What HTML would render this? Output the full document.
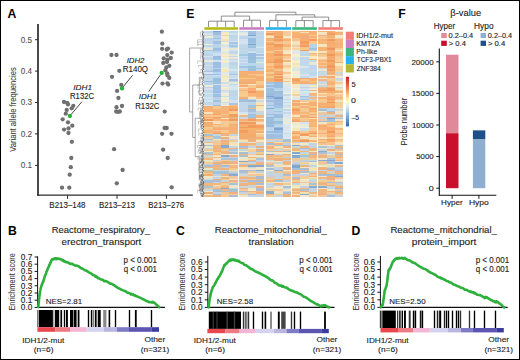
<!DOCTYPE html>
<html><head><meta charset="utf-8"><title>Figure</title>
<style>
html,body{margin:0;padding:0;background:#fff;}
body{width:520px;height:360px;overflow:hidden;position:relative;font-family:"Liberation Sans",sans-serif;}
svg{position:absolute;left:0;top:0;display:block;}
text{font-family:"Liberation Sans",sans-serif;}
</style></head><body>
<svg width="520" height="360" viewBox="0 0 520 360">
<rect x="0.00" y="0.00" width="520.00" height="360.00" fill="#fff" />
<text x="7.50" y="18.00" font-size="12.2" text-anchor="start" fill="#000" font-weight="bold" font-style="normal" >A</text>
<text x="186.20" y="18.00" font-size="12.2" text-anchor="start" fill="#000" font-weight="bold" font-style="normal" >E</text>
<text x="398.20" y="18.00" font-size="12.2" text-anchor="start" fill="#000" font-weight="bold" font-style="normal" >F</text>
<text x="8.00" y="235.10" font-size="12.2" text-anchor="start" fill="#000" font-weight="bold" font-style="normal" >B</text>
<text x="176.00" y="235.00" font-size="12.2" text-anchor="start" fill="#000" font-weight="bold" font-style="normal" >C</text>
<text x="351.50" y="235.00" font-size="12.2" text-anchor="start" fill="#000" font-weight="bold" font-style="normal" >D</text>
<line x1="38.00" y1="24.00" x2="38.00" y2="195.80" stroke="#2a2a2a" stroke-width="1.7" />
<line x1="37.20" y1="195.10" x2="192.80" y2="195.10" stroke="#2a2a2a" stroke-width="1.4" />
<line x1="35.00" y1="39.70" x2="38.00" y2="39.70" stroke="#2a2a2a" stroke-width="1.0" />
<text x="20.68" y="42.60" font-size="8.4" fill="#555" stroke="#555" stroke-width="0.12" font-weight="normal" font-style="normal" textLength="11.36" lengthAdjust="spacingAndGlyphs" >0.5</text>
<line x1="35.00" y1="71.10" x2="38.00" y2="71.10" stroke="#2a2a2a" stroke-width="1.0" />
<text x="20.68" y="74.00" font-size="8.4" fill="#555" stroke="#555" stroke-width="0.12" font-weight="normal" font-style="normal" textLength="11.25" lengthAdjust="spacingAndGlyphs" >0.4</text>
<line x1="35.00" y1="102.50" x2="38.00" y2="102.50" stroke="#2a2a2a" stroke-width="1.0" />
<text x="20.68" y="105.40" font-size="8.4" fill="#555" stroke="#555" stroke-width="0.12" font-weight="normal" font-style="normal" textLength="11.38" lengthAdjust="spacingAndGlyphs" >0.3</text>
<line x1="35.00" y1="133.90" x2="38.00" y2="133.90" stroke="#2a2a2a" stroke-width="1.0" />
<text x="20.68" y="136.80" font-size="8.4" fill="#555" stroke="#555" stroke-width="0.12" font-weight="normal" font-style="normal" textLength="11.44" lengthAdjust="spacingAndGlyphs" >0.2</text>
<line x1="35.00" y1="165.40" x2="38.00" y2="165.40" stroke="#2a2a2a" stroke-width="1.0" />
<text x="20.68" y="168.30" font-size="8.4" fill="#555" stroke="#555" stroke-width="0.12" font-weight="normal" font-style="normal" textLength="11.42" lengthAdjust="spacingAndGlyphs" >0.1</text>
<line x1="67.50" y1="195.10" x2="67.50" y2="198.80" stroke="#2a2a2a" stroke-width="1.0" />
<text x="49.35" y="208.00" font-size="8.8" fill="#222" stroke="#222" stroke-width="0.12" font-weight="normal" font-style="normal" textLength="36.20" lengthAdjust="spacingAndGlyphs" >B213–148</text>
<line x1="117.00" y1="195.10" x2="117.00" y2="198.80" stroke="#2a2a2a" stroke-width="1.0" />
<text x="98.95" y="208.00" font-size="8.8" fill="#222" stroke="#222" stroke-width="0.12" font-weight="normal" font-style="normal" textLength="35.99" lengthAdjust="spacingAndGlyphs" >B213–213</text>
<line x1="166.40" y1="195.10" x2="166.40" y2="198.80" stroke="#2a2a2a" stroke-width="1.0" />
<text x="148.36" y="208.00" font-size="8.8" fill="#222" stroke="#222" stroke-width="0.12" font-weight="normal" font-style="normal" textLength="35.79" lengthAdjust="spacingAndGlyphs" >B213–276</text>
<text transform="translate(15.50,109.60) rotate(-90)" x="-42.13" y="0" font-size="8.6" fill="#333" stroke="#333" stroke-width="0.04" textLength="84.50" lengthAdjust="spacingAndGlyphs">Variant allele frequencies</text>
<circle cx="64.0" cy="102.0" r="2.15" fill="#707070"/>
<circle cx="67.2" cy="102.8" r="2.15" fill="#707070"/>
<circle cx="68.0" cy="104.4" r="2.15" fill="#707070"/>
<circle cx="73.3" cy="105.8" r="2.15" fill="#707070"/>
<circle cx="71.7" cy="108.3" r="2.15" fill="#707070"/>
<circle cx="66.7" cy="110.0" r="2.15" fill="#707070"/>
<circle cx="65.8" cy="113.7" r="2.15" fill="#707070"/>
<circle cx="62.7" cy="119.3" r="2.15" fill="#707070"/>
<circle cx="68.0" cy="122.3" r="2.15" fill="#707070"/>
<circle cx="72.3" cy="125.7" r="2.15" fill="#707070"/>
<circle cx="64.1" cy="129.6" r="2.15" fill="#707070"/>
<circle cx="68.5" cy="128.4" r="2.15" fill="#707070"/>
<circle cx="68.5" cy="133.0" r="2.15" fill="#707070"/>
<circle cx="71.9" cy="141.8" r="2.15" fill="#707070"/>
<circle cx="71.3" cy="158.0" r="2.15" fill="#707070"/>
<circle cx="70.8" cy="167.2" r="2.15" fill="#707070"/>
<circle cx="69.7" cy="174.7" r="2.15" fill="#707070"/>
<circle cx="62.0" cy="187.7" r="2.15" fill="#707070"/>
<circle cx="69.3" cy="187.7" r="2.15" fill="#707070"/>
<circle cx="111.4" cy="55.0" r="2.15" fill="#707070"/>
<circle cx="116.5" cy="55.0" r="2.15" fill="#707070"/>
<circle cx="119.3" cy="70.8" r="2.15" fill="#707070"/>
<circle cx="112.0" cy="76.8" r="2.15" fill="#707070"/>
<circle cx="121.3" cy="84.9" r="2.15" fill="#707070"/>
<circle cx="117.1" cy="90.9" r="2.15" fill="#707070"/>
<circle cx="118.4" cy="98.0" r="2.15" fill="#707070"/>
<circle cx="122.0" cy="106.0" r="2.15" fill="#707070"/>
<circle cx="116.5" cy="107.2" r="2.15" fill="#707070"/>
<circle cx="116.2" cy="111.5" r="2.15" fill="#707070"/>
<circle cx="118.0" cy="111.8" r="2.15" fill="#707070"/>
<circle cx="119.8" cy="111.5" r="2.15" fill="#707070"/>
<circle cx="114.1" cy="149.2" r="2.15" fill="#707070"/>
<circle cx="122.6" cy="170.0" r="2.15" fill="#707070"/>
<circle cx="116.8" cy="183.3" r="2.15" fill="#707070"/>
<circle cx="161.9" cy="31.7" r="2.15" fill="#707070"/>
<circle cx="162.3" cy="43.7" r="2.15" fill="#707070"/>
<circle cx="162.1" cy="48.8" r="2.15" fill="#707070"/>
<circle cx="166.7" cy="49.5" r="2.15" fill="#707070"/>
<circle cx="168.0" cy="48.6" r="2.15" fill="#707070"/>
<circle cx="171.7" cy="52.6" r="2.15" fill="#707070"/>
<circle cx="167.3" cy="55.1" r="2.15" fill="#707070"/>
<circle cx="163.7" cy="58.4" r="2.15" fill="#707070"/>
<circle cx="170.8" cy="58.0" r="2.15" fill="#707070"/>
<circle cx="167.5" cy="59.7" r="2.15" fill="#707070"/>
<circle cx="163.3" cy="63.0" r="2.15" fill="#707070"/>
<circle cx="167.0" cy="62.0" r="2.15" fill="#707070"/>
<circle cx="169.3" cy="65.8" r="2.15" fill="#707070"/>
<circle cx="166.3" cy="67.5" r="2.15" fill="#707070"/>
<circle cx="165.4" cy="70.4" r="2.15" fill="#707070"/>
<circle cx="167.1" cy="73.3" r="2.15" fill="#707070"/>
<circle cx="167.5" cy="75.4" r="2.15" fill="#707070"/>
<circle cx="169.3" cy="77.9" r="2.15" fill="#707070"/>
<circle cx="162.5" cy="83.6" r="2.15" fill="#707070"/>
<circle cx="167.5" cy="83.3" r="2.15" fill="#707070"/>
<circle cx="168.2" cy="84.6" r="2.15" fill="#707070"/>
<circle cx="164.7" cy="111.6" r="2.15" fill="#707070"/>
<circle cx="164.6" cy="128.0" r="2.15" fill="#707070"/>
<circle cx="166.7" cy="128.0" r="2.15" fill="#707070"/>
<circle cx="162.1" cy="133.8" r="2.15" fill="#707070"/>
<circle cx="171.5" cy="133.8" r="2.15" fill="#707070"/>
<circle cx="163.1" cy="149.7" r="2.15" fill="#707070"/>
<circle cx="167.7" cy="158.0" r="2.15" fill="#707070"/>
<circle cx="171.7" cy="187.3" r="2.15" fill="#707070"/>
<line x1="71.00" y1="114.60" x2="82.00" y2="101.60" stroke="#333" stroke-width="0.9" />
<line x1="123.00" y1="87.00" x2="132.60" y2="75.30" stroke="#333" stroke-width="0.9" />
<line x1="160.60" y1="74.60" x2="148.70" y2="91.60" stroke="#333" stroke-width="0.9" />
<circle cx="69.9" cy="116.0" r="2.15" fill="#26b33a"/>
<circle cx="122.0" cy="88.4" r="2.15" fill="#26b33a"/>
<circle cx="161.7" cy="72.9" r="2.15" fill="#26b33a"/>
<text x="73.28" y="89.60" font-size="8.0" fill="#222" stroke="#222" stroke-width="0.12" font-weight="normal" font-style="italic" textLength="18.72" lengthAdjust="spacingAndGlyphs" >IDH1</text>
<text x="70.07" y="99.00" font-size="8.2" fill="#222" stroke="#222" stroke-width="0.12" font-weight="normal" font-style="normal" textLength="23.92" lengthAdjust="spacingAndGlyphs" >R132C</text>
<text x="126.69" y="62.70" font-size="8.0" fill="#222" stroke="#222" stroke-width="0.12" font-weight="normal" font-style="italic" textLength="17.72" lengthAdjust="spacingAndGlyphs" >IDH2</text>
<text x="122.85" y="71.80" font-size="8.2" fill="#222" stroke="#222" stroke-width="0.12" font-weight="normal" font-style="normal" textLength="25.23" lengthAdjust="spacingAndGlyphs" >R140Q</text>
<text x="138.68" y="99.40" font-size="8.0" fill="#222" stroke="#222" stroke-width="0.12" font-weight="normal" font-style="italic" textLength="18.40" lengthAdjust="spacingAndGlyphs" >IDH1</text>
<text x="135.16" y="108.90" font-size="8.2" fill="#222" stroke="#222" stroke-width="0.12" font-weight="normal" font-style="normal" textLength="24.34" lengthAdjust="spacingAndGlyphs" >R132C</text>
<g shape-rendering="crispEdges" filter="url(#hb)">
<rect x="204.40" y="30.50" width="8.30" height="1.53" fill="rgb(193, 220, 234)"/>
<rect x="204.40" y="31.98" width="8.30" height="1.53" fill="rgb(193, 213, 234)"/>
<rect x="204.40" y="33.47" width="8.30" height="1.53" fill="rgb(215, 224, 236)"/>
<rect x="204.40" y="34.95" width="8.30" height="1.53" fill="rgb(195, 218, 230)"/>
<rect x="204.40" y="36.43" width="8.30" height="1.53" fill="rgb(238, 235, 214)"/>
<rect x="204.40" y="37.92" width="8.30" height="1.53" fill="rgb(187, 216, 230)"/>
<rect x="204.40" y="39.40" width="8.30" height="1.53" fill="rgb(190, 211, 234)"/>
<rect x="204.40" y="40.88" width="8.30" height="1.53" fill="rgb(196, 216, 236)"/>
<rect x="204.40" y="42.36" width="8.30" height="1.53" fill="rgb(194, 215, 232)"/>
<rect x="204.40" y="43.85" width="8.30" height="1.53" fill="rgb(239, 237, 215)"/>
<rect x="204.40" y="45.33" width="8.30" height="1.53" fill="rgb(190, 214, 230)"/>
<rect x="204.40" y="46.81" width="8.30" height="1.53" fill="rgb(212, 232, 237)"/>
<rect x="204.40" y="48.30" width="8.30" height="1.53" fill="rgb(237, 229, 210)"/>
<rect x="204.40" y="49.78" width="8.30" height="1.53" fill="rgb(163, 200, 224)"/>
<rect x="204.40" y="51.26" width="8.30" height="1.53" fill="rgb(194, 219, 232)"/>
<rect x="204.40" y="52.75" width="8.30" height="1.53" fill="rgb(191, 220, 237)"/>
<rect x="204.40" y="54.23" width="8.30" height="1.53" fill="rgb(190, 212, 230)"/>
<rect x="204.40" y="55.71" width="8.30" height="1.53" fill="rgb(209, 229, 237)"/>
<rect x="204.40" y="57.19" width="8.30" height="1.53" fill="rgb(195, 212, 236)"/>
<rect x="204.40" y="58.68" width="8.30" height="1.53" fill="rgb(191, 213, 232)"/>
<rect x="204.40" y="60.16" width="8.30" height="1.53" fill="rgb(237, 232, 217)"/>
<rect x="204.40" y="61.64" width="8.30" height="1.53" fill="rgb(191, 219, 236)"/>
<rect x="204.40" y="63.13" width="8.30" height="1.53" fill="rgb(197, 213, 232)"/>
<rect x="204.40" y="64.61" width="8.30" height="1.53" fill="rgb(211, 226, 234)"/>
<rect x="204.40" y="66.09" width="8.30" height="1.53" fill="rgb(193, 213, 235)"/>
<rect x="204.40" y="67.58" width="8.30" height="1.53" fill="rgb(192, 220, 234)"/>
<rect x="204.40" y="69.06" width="8.30" height="1.53" fill="rgb(196, 213, 231)"/>
<rect x="204.40" y="70.54" width="8.30" height="1.53" fill="rgb(167, 193, 222)"/>
<rect x="204.40" y="72.03" width="8.30" height="1.53" fill="rgb(217, 225, 243)"/>
<rect x="204.40" y="73.51" width="8.30" height="1.53" fill="rgb(164, 195, 221)"/>
<rect x="204.40" y="74.99" width="8.30" height="1.53" fill="rgb(197, 213, 236)"/>
<rect x="204.40" y="76.47" width="8.30" height="1.53" fill="rgb(196, 217, 232)"/>
<rect x="204.40" y="77.96" width="8.30" height="1.53" fill="rgb(194, 211, 231)"/>
<rect x="204.40" y="79.44" width="8.30" height="1.53" fill="rgb(196, 217, 232)"/>
<rect x="204.40" y="80.92" width="8.30" height="1.53" fill="rgb(160, 191, 222)"/>
<rect x="204.40" y="82.41" width="8.30" height="1.53" fill="rgb(188, 213, 233)"/>
<rect x="204.40" y="83.89" width="8.30" height="1.53" fill="rgb(189, 214, 238)"/>
<rect x="204.40" y="85.37" width="8.30" height="1.53" fill="rgb(235, 236, 214)"/>
<rect x="204.40" y="86.86" width="8.30" height="1.53" fill="rgb(188, 211, 238)"/>
<rect x="204.40" y="88.34" width="8.30" height="1.53" fill="rgb(217, 223, 239)"/>
<rect x="204.40" y="89.82" width="8.30" height="1.53" fill="rgb(195, 214, 239)"/>
<rect x="204.40" y="91.30" width="8.30" height="1.53" fill="rgb(193, 218, 238)"/>
<rect x="204.40" y="92.79" width="8.30" height="1.53" fill="rgb(215, 231, 242)"/>
<rect x="204.40" y="94.27" width="8.30" height="1.53" fill="rgb(194, 220, 238)"/>
<rect x="204.40" y="95.75" width="8.30" height="1.53" fill="rgb(195, 219, 235)"/>
<rect x="204.40" y="97.24" width="8.30" height="1.53" fill="rgb(211, 229, 239)"/>
<rect x="204.40" y="98.72" width="8.30" height="1.53" fill="rgb(194, 221, 238)"/>
<rect x="204.40" y="100.20" width="8.30" height="1.53" fill="rgb(211, 231, 239)"/>
<rect x="204.40" y="101.69" width="8.30" height="1.53" fill="rgb(196, 212, 237)"/>
<rect x="204.40" y="103.17" width="8.30" height="1.53" fill="rgb(193, 216, 231)"/>
<rect x="204.40" y="104.65" width="8.30" height="1.53" fill="rgb(213, 229, 242)"/>
<rect x="204.40" y="106.13" width="8.30" height="1.53" fill="rgb(241, 174, 116)"/>
<rect x="204.40" y="107.62" width="8.30" height="1.53" fill="rgb(242, 180, 116)"/>
<rect x="204.40" y="109.10" width="8.30" height="1.53" fill="rgb(249, 174, 116)"/>
<rect x="204.40" y="110.58" width="8.30" height="1.53" fill="rgb(245, 179, 119)"/>
<rect x="204.40" y="112.07" width="8.30" height="1.53" fill="rgb(244, 227, 188)"/>
<rect x="204.40" y="113.55" width="8.30" height="1.53" fill="rgb(245, 179, 118)"/>
<rect x="204.40" y="115.03" width="8.30" height="1.53" fill="rgb(252, 196, 139)"/>
<rect x="204.40" y="116.52" width="8.30" height="1.53" fill="rgb(243, 173, 114)"/>
<rect x="204.40" y="118.00" width="8.30" height="1.53" fill="rgb(247, 197, 146)"/>
<rect x="204.40" y="119.48" width="8.30" height="1.53" fill="rgb(241, 153, 93)"/>
<rect x="204.40" y="120.97" width="8.30" height="1.53" fill="rgb(240, 229, 190)"/>
<rect x="204.40" y="122.45" width="8.30" height="1.53" fill="rgb(248, 171, 111)"/>
<rect x="204.40" y="123.93" width="8.30" height="1.53" fill="rgb(241, 179, 112)"/>
<rect x="204.40" y="125.41" width="8.30" height="1.53" fill="rgb(241, 177, 114)"/>
<rect x="204.40" y="126.90" width="8.30" height="1.53" fill="rgb(249, 201, 147)"/>
<rect x="204.40" y="128.38" width="8.30" height="1.53" fill="rgb(244, 198, 140)"/>
<rect x="204.40" y="129.86" width="8.30" height="1.53" fill="rgb(245, 178, 112)"/>
<rect x="204.40" y="131.35" width="8.30" height="1.53" fill="rgb(244, 178, 115)"/>
<rect x="204.40" y="132.83" width="8.30" height="1.53" fill="rgb(250, 197, 146)"/>
<rect x="204.40" y="134.31" width="8.30" height="1.53" fill="rgb(164, 196, 215)"/>
<rect x="204.40" y="135.80" width="8.30" height="1.53" fill="rgb(239, 181, 130)"/>
<rect x="204.40" y="137.28" width="8.30" height="1.53" fill="rgb(242, 206, 157)"/>
<rect x="204.40" y="138.76" width="8.30" height="1.53" fill="rgb(168, 193, 210)"/>
<rect x="204.40" y="140.24" width="8.30" height="1.53" fill="rgb(200, 213, 224)"/>
<rect x="204.40" y="141.73" width="8.30" height="1.53" fill="rgb(243, 184, 131)"/>
<rect x="204.40" y="143.21" width="8.30" height="1.53" fill="rgb(241, 228, 205)"/>
<rect x="204.40" y="144.69" width="8.30" height="1.53" fill="rgb(167, 188, 212)"/>
<rect x="204.40" y="146.18" width="8.30" height="1.53" fill="rgb(241, 230, 196)"/>
<rect x="204.40" y="147.66" width="8.30" height="1.53" fill="rgb(193, 215, 219)"/>
<rect x="204.40" y="149.14" width="8.30" height="1.53" fill="rgb(244, 198, 151)"/>
<rect x="204.40" y="150.63" width="8.30" height="1.53" fill="rgb(241, 233, 203)"/>
<rect x="204.40" y="152.11" width="8.30" height="1.53" fill="rgb(168, 196, 208)"/>
<rect x="204.40" y="153.59" width="8.30" height="1.53" fill="rgb(240, 177, 128)"/>
<rect x="204.40" y="155.07" width="8.30" height="1.53" fill="rgb(197, 216, 223)"/>
<rect x="204.40" y="156.56" width="8.30" height="1.53" fill="rgb(240, 205, 158)"/>
<rect x="204.40" y="158.04" width="8.30" height="1.53" fill="rgb(243, 184, 126)"/>
<rect x="204.40" y="159.52" width="8.30" height="1.53" fill="rgb(236, 230, 201)"/>
<rect x="204.40" y="161.01" width="8.30" height="1.53" fill="rgb(237, 228, 176)"/>
<rect x="204.40" y="162.49" width="8.30" height="1.53" fill="rgb(244, 203, 154)"/>
<rect x="204.40" y="163.97" width="8.30" height="1.53" fill="rgb(193, 212, 221)"/>
<rect x="204.40" y="165.46" width="8.30" height="1.53" fill="rgb(173, 189, 212)"/>
<rect x="204.40" y="166.94" width="8.30" height="1.53" fill="rgb(239, 182, 130)"/>
<rect x="204.40" y="168.42" width="8.30" height="1.53" fill="rgb(237, 227, 202)"/>
<rect x="204.40" y="169.91" width="8.30" height="1.53" fill="rgb(165, 195, 208)"/>
<rect x="204.40" y="171.39" width="8.30" height="1.53" fill="rgb(237, 181, 124)"/>
<rect x="204.40" y="172.87" width="8.30" height="1.53" fill="rgb(242, 198, 156)"/>
<rect x="204.40" y="174.35" width="8.30" height="1.53" fill="rgb(239, 177, 123)"/>
<rect x="204.40" y="175.84" width="8.30" height="1.53" fill="rgb(238, 229, 200)"/>
<rect x="204.40" y="177.32" width="8.30" height="1.53" fill="rgb(235, 227, 202)"/>
<rect x="204.40" y="178.80" width="8.30" height="1.53" fill="rgb(198, 216, 223)"/>
<rect x="204.40" y="180.29" width="8.30" height="1.53" fill="rgb(166, 194, 216)"/>
<rect x="204.40" y="181.77" width="8.30" height="1.53" fill="rgb(167, 190, 217)"/>
<rect x="204.40" y="183.25" width="8.30" height="1.53" fill="rgb(244, 183, 122)"/>
<rect x="204.40" y="184.74" width="8.30" height="1.53" fill="rgb(242, 177, 122)"/>
<rect x="204.40" y="186.22" width="8.30" height="1.53" fill="rgb(168, 195, 209)"/>
<rect x="204.40" y="187.70" width="8.30" height="1.53" fill="rgb(243, 197, 151)"/>
<rect x="204.40" y="189.18" width="8.30" height="1.53" fill="rgb(201, 217, 218)"/>
<rect x="204.40" y="190.67" width="8.30" height="1.53" fill="rgb(241, 230, 203)"/>
<rect x="204.40" y="192.15" width="8.30" height="1.53" fill="rgb(235, 175, 121)"/>
<rect x="204.40" y="193.63" width="8.30" height="1.53" fill="rgb(239, 231, 197)"/>
<rect x="204.40" y="195.12" width="8.30" height="1.53" fill="rgb(236, 183, 131)"/>
<rect x="212.70" y="30.50" width="8.30" height="1.53" fill="rgb(122, 164, 218)"/>
<rect x="212.70" y="31.98" width="8.30" height="1.53" fill="rgb(160, 189, 223)"/>
<rect x="212.70" y="33.47" width="8.30" height="1.53" fill="rgb(156, 192, 218)"/>
<rect x="212.70" y="34.95" width="8.30" height="1.53" fill="rgb(189, 208, 232)"/>
<rect x="212.70" y="36.43" width="8.30" height="1.53" fill="rgb(185, 208, 229)"/>
<rect x="212.70" y="37.92" width="8.30" height="1.53" fill="rgb(152, 195, 226)"/>
<rect x="212.70" y="39.40" width="8.30" height="1.53" fill="rgb(189, 213, 232)"/>
<rect x="212.70" y="40.88" width="8.30" height="1.53" fill="rgb(157, 196, 226)"/>
<rect x="212.70" y="42.36" width="8.30" height="1.53" fill="rgb(161, 194, 226)"/>
<rect x="212.70" y="43.85" width="8.30" height="1.53" fill="rgb(185, 215, 236)"/>
<rect x="212.70" y="45.33" width="8.30" height="1.53" fill="rgb(188, 214, 232)"/>
<rect x="212.70" y="46.81" width="8.30" height="1.53" fill="rgb(181, 210, 232)"/>
<rect x="212.70" y="48.30" width="8.30" height="1.53" fill="rgb(155, 193, 225)"/>
<rect x="212.70" y="49.78" width="8.30" height="1.53" fill="rgb(161, 193, 222)"/>
<rect x="212.70" y="51.26" width="8.30" height="1.53" fill="rgb(186, 212, 232)"/>
<rect x="212.70" y="52.75" width="8.30" height="1.53" fill="rgb(207, 226, 239)"/>
<rect x="212.70" y="54.23" width="8.30" height="1.53" fill="rgb(201, 225, 239)"/>
<rect x="212.70" y="55.71" width="8.30" height="1.53" fill="rgb(156, 187, 220)"/>
<rect x="212.70" y="57.19" width="8.30" height="1.53" fill="rgb(153, 189, 227)"/>
<rect x="212.70" y="58.68" width="8.30" height="1.53" fill="rgb(157, 196, 224)"/>
<rect x="212.70" y="60.16" width="8.30" height="1.53" fill="rgb(207, 227, 232)"/>
<rect x="212.70" y="61.64" width="8.30" height="1.53" fill="rgb(160, 187, 228)"/>
<rect x="212.70" y="63.13" width="8.30" height="1.53" fill="rgb(157, 188, 223)"/>
<rect x="212.70" y="64.61" width="8.30" height="1.53" fill="rgb(153, 196, 222)"/>
<rect x="212.70" y="66.09" width="8.30" height="1.53" fill="rgb(158, 190, 221)"/>
<rect x="212.70" y="67.58" width="8.30" height="1.53" fill="rgb(186, 209, 235)"/>
<rect x="212.70" y="69.06" width="8.30" height="1.53" fill="rgb(152, 189, 219)"/>
<rect x="212.70" y="70.54" width="8.30" height="1.53" fill="rgb(159, 190, 227)"/>
<rect x="212.70" y="72.03" width="8.30" height="1.53" fill="rgb(181, 216, 237)"/>
<rect x="212.70" y="73.51" width="8.30" height="1.53" fill="rgb(161, 190, 223)"/>
<rect x="212.70" y="74.99" width="8.30" height="1.53" fill="rgb(204, 224, 241)"/>
<rect x="212.70" y="76.47" width="8.30" height="1.53" fill="rgb(185, 216, 236)"/>
<rect x="212.70" y="77.96" width="8.30" height="1.53" fill="rgb(153, 192, 223)"/>
<rect x="212.70" y="79.44" width="8.30" height="1.53" fill="rgb(152, 191, 220)"/>
<rect x="212.70" y="80.92" width="8.30" height="1.53" fill="rgb(159, 191, 221)"/>
<rect x="212.70" y="82.41" width="8.30" height="1.53" fill="rgb(156, 194, 224)"/>
<rect x="212.70" y="83.89" width="8.30" height="1.53" fill="rgb(211, 226, 234)"/>
<rect x="212.70" y="85.37" width="8.30" height="1.53" fill="rgb(161, 194, 225)"/>
<rect x="212.70" y="86.86" width="8.30" height="1.53" fill="rgb(155, 193, 224)"/>
<rect x="212.70" y="88.34" width="8.30" height="1.53" fill="rgb(158, 194, 220)"/>
<rect x="212.70" y="89.82" width="8.30" height="1.53" fill="rgb(162, 195, 227)"/>
<rect x="212.70" y="91.30" width="8.30" height="1.53" fill="rgb(153, 189, 223)"/>
<rect x="212.70" y="92.79" width="8.30" height="1.53" fill="rgb(182, 212, 228)"/>
<rect x="212.70" y="94.27" width="8.30" height="1.53" fill="rgb(159, 192, 225)"/>
<rect x="212.70" y="95.75" width="8.30" height="1.53" fill="rgb(157, 188, 222)"/>
<rect x="212.70" y="97.24" width="8.30" height="1.53" fill="rgb(189, 207, 229)"/>
<rect x="212.70" y="98.72" width="8.30" height="1.53" fill="rgb(187, 214, 230)"/>
<rect x="212.70" y="100.20" width="8.30" height="1.53" fill="rgb(155, 194, 222)"/>
<rect x="212.70" y="101.69" width="8.30" height="1.53" fill="rgb(191, 210, 233)"/>
<rect x="212.70" y="103.17" width="8.30" height="1.53" fill="rgb(190, 211, 231)"/>
<rect x="212.70" y="104.65" width="8.30" height="1.53" fill="rgb(161, 187, 219)"/>
<rect x="212.70" y="106.13" width="8.30" height="1.53" fill="rgb(247, 200, 141)"/>
<rect x="212.70" y="107.62" width="8.30" height="1.53" fill="rgb(243, 196, 144)"/>
<rect x="212.70" y="109.10" width="8.30" height="1.53" fill="rgb(244, 178, 117)"/>
<rect x="212.70" y="110.58" width="8.30" height="1.53" fill="rgb(242, 174, 117)"/>
<rect x="212.70" y="112.07" width="8.30" height="1.53" fill="rgb(242, 178, 115)"/>
<rect x="212.70" y="113.55" width="8.30" height="1.53" fill="rgb(246, 161, 97)"/>
<rect x="212.70" y="115.03" width="8.30" height="1.53" fill="rgb(245, 197, 142)"/>
<rect x="212.70" y="116.52" width="8.30" height="1.53" fill="rgb(246, 155, 96)"/>
<rect x="212.70" y="118.00" width="8.30" height="1.53" fill="rgb(244, 175, 114)"/>
<rect x="212.70" y="119.48" width="8.30" height="1.53" fill="rgb(246, 179, 115)"/>
<rect x="212.70" y="120.97" width="8.30" height="1.53" fill="rgb(245, 223, 192)"/>
<rect x="212.70" y="122.45" width="8.30" height="1.53" fill="rgb(243, 222, 190)"/>
<rect x="212.70" y="123.93" width="8.30" height="1.53" fill="rgb(246, 180, 116)"/>
<rect x="212.70" y="125.41" width="8.30" height="1.53" fill="rgb(243, 199, 146)"/>
<rect x="212.70" y="126.90" width="8.30" height="1.53" fill="rgb(241, 178, 119)"/>
<rect x="212.70" y="128.38" width="8.30" height="1.53" fill="rgb(247, 172, 117)"/>
<rect x="212.70" y="129.86" width="8.30" height="1.53" fill="rgb(245, 196, 145)"/>
<rect x="212.70" y="131.35" width="8.30" height="1.53" fill="rgb(248, 175, 113)"/>
<rect x="212.70" y="132.83" width="8.30" height="1.53" fill="rgb(243, 157, 98)"/>
<rect x="212.70" y="134.31" width="8.30" height="1.53" fill="rgb(199, 216, 221)"/>
<rect x="212.70" y="135.80" width="8.30" height="1.53" fill="rgb(170, 195, 216)"/>
<rect x="212.70" y="137.28" width="8.30" height="1.53" fill="rgb(172, 196, 214)"/>
<rect x="212.70" y="138.76" width="8.30" height="1.53" fill="rgb(241, 233, 200)"/>
<rect x="212.70" y="140.24" width="8.30" height="1.53" fill="rgb(237, 204, 159)"/>
<rect x="212.70" y="141.73" width="8.30" height="1.53" fill="rgb(238, 199, 153)"/>
<rect x="212.70" y="143.21" width="8.30" height="1.53" fill="rgb(246, 198, 152)"/>
<rect x="212.70" y="144.69" width="8.30" height="1.53" fill="rgb(241, 182, 123)"/>
<rect x="212.70" y="146.18" width="8.30" height="1.53" fill="rgb(239, 180, 130)"/>
<rect x="212.70" y="147.66" width="8.30" height="1.53" fill="rgb(235, 176, 123)"/>
<rect x="212.70" y="149.14" width="8.30" height="1.53" fill="rgb(242, 180, 123)"/>
<rect x="212.70" y="150.63" width="8.30" height="1.53" fill="rgb(237, 176, 129)"/>
<rect x="212.70" y="152.11" width="8.30" height="1.53" fill="rgb(241, 205, 154)"/>
<rect x="212.70" y="153.59" width="8.30" height="1.53" fill="rgb(243, 183, 124)"/>
<rect x="212.70" y="155.07" width="8.30" height="1.53" fill="rgb(243, 230, 198)"/>
<rect x="212.70" y="156.56" width="8.30" height="1.53" fill="rgb(244, 182, 125)"/>
<rect x="212.70" y="158.04" width="8.30" height="1.53" fill="rgb(239, 228, 206)"/>
<rect x="212.70" y="159.52" width="8.30" height="1.53" fill="rgb(195, 207, 222)"/>
<rect x="212.70" y="161.01" width="8.30" height="1.53" fill="rgb(244, 204, 155)"/>
<rect x="212.70" y="162.49" width="8.30" height="1.53" fill="rgb(236, 178, 124)"/>
<rect x="212.70" y="163.97" width="8.30" height="1.53" fill="rgb(169, 193, 218)"/>
<rect x="212.70" y="165.46" width="8.30" height="1.53" fill="rgb(240, 176, 129)"/>
<rect x="212.70" y="166.94" width="8.30" height="1.53" fill="rgb(243, 183, 129)"/>
<rect x="212.70" y="168.42" width="8.30" height="1.53" fill="rgb(232, 182, 127)"/>
<rect x="212.70" y="169.91" width="8.30" height="1.53" fill="rgb(192, 217, 228)"/>
<rect x="212.70" y="171.39" width="8.30" height="1.53" fill="rgb(161, 195, 217)"/>
<rect x="212.70" y="172.87" width="8.30" height="1.53" fill="rgb(159, 195, 215)"/>
<rect x="212.70" y="174.35" width="8.30" height="1.53" fill="rgb(192, 209, 231)"/>
<rect x="212.70" y="175.84" width="8.30" height="1.53" fill="rgb(232, 226, 204)"/>
<rect x="212.70" y="177.32" width="8.30" height="1.53" fill="rgb(194, 211, 229)"/>
<rect x="212.70" y="178.80" width="8.30" height="1.53" fill="rgb(233, 179, 136)"/>
<rect x="212.70" y="180.29" width="8.30" height="1.53" fill="rgb(170, 187, 211)"/>
<rect x="212.70" y="181.77" width="8.30" height="1.53" fill="rgb(195, 213, 222)"/>
<rect x="212.70" y="183.25" width="8.30" height="1.53" fill="rgb(244, 182, 123)"/>
<rect x="212.70" y="184.74" width="8.30" height="1.53" fill="rgb(240, 223, 176)"/>
<rect x="212.70" y="186.22" width="8.30" height="1.53" fill="rgb(239, 201, 156)"/>
<rect x="212.70" y="187.70" width="8.30" height="1.53" fill="rgb(236, 182, 124)"/>
<rect x="212.70" y="189.18" width="8.30" height="1.53" fill="rgb(169, 194, 211)"/>
<rect x="212.70" y="190.67" width="8.30" height="1.53" fill="rgb(164, 188, 209)"/>
<rect x="212.70" y="192.15" width="8.30" height="1.53" fill="rgb(199, 209, 221)"/>
<rect x="212.70" y="193.63" width="8.30" height="1.53" fill="rgb(169, 188, 210)"/>
<rect x="212.70" y="195.12" width="8.30" height="1.53" fill="rgb(236, 178, 122)"/>
<rect x="221.00" y="30.50" width="8.40" height="1.53" fill="rgb(200, 219, 231)"/>
<rect x="221.00" y="31.98" width="8.40" height="1.53" fill="rgb(249, 230, 182)"/>
<rect x="221.00" y="33.47" width="8.40" height="1.53" fill="rgb(237, 236, 210)"/>
<rect x="221.00" y="34.95" width="8.40" height="1.53" fill="rgb(247, 211, 163)"/>
<rect x="221.00" y="36.43" width="8.40" height="1.53" fill="rgb(241, 236, 210)"/>
<rect x="221.00" y="37.92" width="8.40" height="1.53" fill="rgb(241, 237, 211)"/>
<rect x="221.00" y="39.40" width="8.40" height="1.53" fill="rgb(246, 227, 186)"/>
<rect x="221.00" y="40.88" width="8.40" height="1.53" fill="rgb(201, 218, 229)"/>
<rect x="221.00" y="42.36" width="8.40" height="1.53" fill="rgb(244, 242, 208)"/>
<rect x="221.00" y="43.85" width="8.40" height="1.53" fill="rgb(225, 229, 238)"/>
<rect x="221.00" y="45.33" width="8.40" height="1.53" fill="rgb(218, 227, 231)"/>
<rect x="221.00" y="46.81" width="8.40" height="1.53" fill="rgb(223, 230, 237)"/>
<rect x="221.00" y="48.30" width="8.40" height="1.53" fill="rgb(242, 233, 213)"/>
<rect x="221.00" y="49.78" width="8.40" height="1.53" fill="rgb(246, 238, 209)"/>
<rect x="221.00" y="51.26" width="8.40" height="1.53" fill="rgb(219, 236, 238)"/>
<rect x="221.00" y="52.75" width="8.40" height="1.53" fill="rgb(246, 227, 187)"/>
<rect x="221.00" y="54.23" width="8.40" height="1.53" fill="rgb(246, 235, 209)"/>
<rect x="221.00" y="55.71" width="8.40" height="1.53" fill="rgb(242, 231, 179)"/>
<rect x="221.00" y="57.19" width="8.40" height="1.53" fill="rgb(239, 242, 213)"/>
<rect x="221.00" y="58.68" width="8.40" height="1.53" fill="rgb(219, 233, 236)"/>
<rect x="221.00" y="60.16" width="8.40" height="1.53" fill="rgb(243, 240, 203)"/>
<rect x="221.00" y="61.64" width="8.40" height="1.53" fill="rgb(242, 234, 207)"/>
<rect x="221.00" y="63.13" width="8.40" height="1.53" fill="rgb(218, 232, 231)"/>
<rect x="221.00" y="64.61" width="8.40" height="1.53" fill="rgb(219, 233, 229)"/>
<rect x="221.00" y="66.09" width="8.40" height="1.53" fill="rgb(218, 236, 234)"/>
<rect x="221.00" y="67.58" width="8.40" height="1.53" fill="rgb(241, 238, 210)"/>
<rect x="221.00" y="69.06" width="8.40" height="1.53" fill="rgb(248, 231, 188)"/>
<rect x="221.00" y="70.54" width="8.40" height="1.53" fill="rgb(249, 230, 183)"/>
<rect x="221.00" y="72.03" width="8.40" height="1.53" fill="rgb(225, 232, 233)"/>
<rect x="221.00" y="73.51" width="8.40" height="1.53" fill="rgb(246, 235, 204)"/>
<rect x="221.00" y="74.99" width="8.40" height="1.53" fill="rgb(225, 234, 234)"/>
<rect x="221.00" y="76.47" width="8.40" height="1.53" fill="rgb(243, 232, 179)"/>
<rect x="221.00" y="77.96" width="8.40" height="1.53" fill="rgb(242, 237, 207)"/>
<rect x="221.00" y="79.44" width="8.40" height="1.53" fill="rgb(244, 237, 206)"/>
<rect x="221.00" y="80.92" width="8.40" height="1.53" fill="rgb(241, 234, 204)"/>
<rect x="221.00" y="82.41" width="8.40" height="1.53" fill="rgb(206, 221, 233)"/>
<rect x="221.00" y="83.89" width="8.40" height="1.53" fill="rgb(245, 234, 211)"/>
<rect x="221.00" y="85.37" width="8.40" height="1.53" fill="rgb(225, 228, 236)"/>
<rect x="221.00" y="86.86" width="8.40" height="1.53" fill="rgb(243, 242, 203)"/>
<rect x="221.00" y="88.34" width="8.40" height="1.53" fill="rgb(240, 235, 204)"/>
<rect x="221.00" y="89.82" width="8.40" height="1.53" fill="rgb(204, 218, 228)"/>
<rect x="221.00" y="91.30" width="8.40" height="1.53" fill="rgb(217, 227, 237)"/>
<rect x="221.00" y="92.79" width="8.40" height="1.53" fill="rgb(242, 241, 213)"/>
<rect x="221.00" y="94.27" width="8.40" height="1.53" fill="rgb(239, 235, 212)"/>
<rect x="221.00" y="95.75" width="8.40" height="1.53" fill="rgb(198, 223, 228)"/>
<rect x="221.00" y="97.24" width="8.40" height="1.53" fill="rgb(239, 241, 213)"/>
<rect x="221.00" y="98.72" width="8.40" height="1.53" fill="rgb(244, 234, 212)"/>
<rect x="221.00" y="100.20" width="8.40" height="1.53" fill="rgb(238, 239, 206)"/>
<rect x="221.00" y="101.69" width="8.40" height="1.53" fill="rgb(205, 221, 226)"/>
<rect x="221.00" y="103.17" width="8.40" height="1.53" fill="rgb(226, 231, 229)"/>
<rect x="221.00" y="104.65" width="8.40" height="1.53" fill="rgb(240, 239, 205)"/>
<rect x="221.00" y="106.13" width="8.40" height="1.53" fill="rgb(243, 180, 121)"/>
<rect x="221.00" y="107.62" width="8.40" height="1.53" fill="rgb(247, 182, 119)"/>
<rect x="221.00" y="109.10" width="8.40" height="1.53" fill="rgb(244, 182, 120)"/>
<rect x="221.00" y="110.58" width="8.40" height="1.53" fill="rgb(247, 174, 123)"/>
<rect x="221.00" y="112.07" width="8.40" height="1.53" fill="rgb(246, 179, 113)"/>
<rect x="221.00" y="113.55" width="8.40" height="1.53" fill="rgb(245, 198, 149)"/>
<rect x="221.00" y="115.03" width="8.40" height="1.53" fill="rgb(243, 181, 115)"/>
<rect x="221.00" y="116.52" width="8.40" height="1.53" fill="rgb(246, 175, 122)"/>
<rect x="221.00" y="118.00" width="8.40" height="1.53" fill="rgb(240, 229, 195)"/>
<rect x="221.00" y="119.48" width="8.40" height="1.53" fill="rgb(250, 178, 115)"/>
<rect x="221.00" y="120.97" width="8.40" height="1.53" fill="rgb(249, 199, 147)"/>
<rect x="221.00" y="122.45" width="8.40" height="1.53" fill="rgb(247, 201, 149)"/>
<rect x="221.00" y="123.93" width="8.40" height="1.53" fill="rgb(247, 205, 143)"/>
<rect x="221.00" y="125.41" width="8.40" height="1.53" fill="rgb(244, 202, 143)"/>
<rect x="221.00" y="126.90" width="8.40" height="1.53" fill="rgb(248, 181, 121)"/>
<rect x="221.00" y="128.38" width="8.40" height="1.53" fill="rgb(246, 175, 119)"/>
<rect x="221.00" y="129.86" width="8.40" height="1.53" fill="rgb(243, 202, 148)"/>
<rect x="221.00" y="131.35" width="8.40" height="1.53" fill="rgb(251, 198, 142)"/>
<rect x="221.00" y="132.83" width="8.40" height="1.53" fill="rgb(246, 178, 117)"/>
<rect x="221.00" y="134.31" width="8.40" height="1.53" fill="rgb(242, 175, 130)"/>
<rect x="221.00" y="135.80" width="8.40" height="1.53" fill="rgb(239, 233, 198)"/>
<rect x="221.00" y="137.28" width="8.40" height="1.53" fill="rgb(237, 175, 124)"/>
<rect x="221.00" y="138.76" width="8.40" height="1.53" fill="rgb(197, 210, 223)"/>
<rect x="221.00" y="140.24" width="8.40" height="1.53" fill="rgb(243, 176, 124)"/>
<rect x="221.00" y="141.73" width="8.40" height="1.53" fill="rgb(241, 183, 129)"/>
<rect x="221.00" y="143.21" width="8.40" height="1.53" fill="rgb(238, 178, 123)"/>
<rect x="221.00" y="144.69" width="8.40" height="1.53" fill="rgb(133, 169, 205)"/>
<rect x="221.00" y="146.18" width="8.40" height="1.53" fill="rgb(134, 169, 205)"/>
<rect x="221.00" y="147.66" width="8.40" height="1.53" fill="rgb(237, 183, 122)"/>
<rect x="221.00" y="149.14" width="8.40" height="1.53" fill="rgb(239, 201, 150)"/>
<rect x="221.00" y="150.63" width="8.40" height="1.53" fill="rgb(244, 182, 128)"/>
<rect x="221.00" y="152.11" width="8.40" height="1.53" fill="rgb(237, 180, 123)"/>
<rect x="221.00" y="153.59" width="8.40" height="1.53" fill="rgb(243, 229, 199)"/>
<rect x="221.00" y="155.07" width="8.40" height="1.53" fill="rgb(139, 165, 201)"/>
<rect x="221.00" y="156.56" width="8.40" height="1.53" fill="rgb(193, 211, 224)"/>
<rect x="221.00" y="158.04" width="8.40" height="1.53" fill="rgb(169, 196, 212)"/>
<rect x="221.00" y="159.52" width="8.40" height="1.53" fill="rgb(244, 201, 157)"/>
<rect x="221.00" y="161.01" width="8.40" height="1.53" fill="rgb(238, 176, 127)"/>
<rect x="221.00" y="162.49" width="8.40" height="1.53" fill="rgb(236, 176, 126)"/>
<rect x="221.00" y="163.97" width="8.40" height="1.53" fill="rgb(240, 207, 156)"/>
<rect x="221.00" y="165.46" width="8.40" height="1.53" fill="rgb(165, 191, 208)"/>
<rect x="221.00" y="166.94" width="8.40" height="1.53" fill="rgb(196, 210, 217)"/>
<rect x="221.00" y="168.42" width="8.40" height="1.53" fill="rgb(237, 178, 130)"/>
<rect x="221.00" y="169.91" width="8.40" height="1.53" fill="rgb(195, 211, 218)"/>
<rect x="221.00" y="171.39" width="8.40" height="1.53" fill="rgb(167, 194, 215)"/>
<rect x="221.00" y="172.87" width="8.40" height="1.53" fill="rgb(164, 190, 211)"/>
<rect x="221.00" y="174.35" width="8.40" height="1.53" fill="rgb(243, 178, 129)"/>
<rect x="221.00" y="175.84" width="8.40" height="1.53" fill="rgb(234, 229, 198)"/>
<rect x="221.00" y="177.32" width="8.40" height="1.53" fill="rgb(236, 180, 121)"/>
<rect x="221.00" y="178.80" width="8.40" height="1.53" fill="rgb(240, 202, 150)"/>
<rect x="221.00" y="180.29" width="8.40" height="1.53" fill="rgb(195, 214, 224)"/>
<rect x="221.00" y="181.77" width="8.40" height="1.53" fill="rgb(236, 177, 128)"/>
<rect x="221.00" y="183.25" width="8.40" height="1.53" fill="rgb(240, 206, 151)"/>
<rect x="221.00" y="184.74" width="8.40" height="1.53" fill="rgb(239, 199, 149)"/>
<rect x="221.00" y="186.22" width="8.40" height="1.53" fill="rgb(241, 180, 129)"/>
<rect x="221.00" y="187.70" width="8.40" height="1.53" fill="rgb(136, 171, 207)"/>
<rect x="221.00" y="189.18" width="8.40" height="1.53" fill="rgb(241, 181, 131)"/>
<rect x="221.00" y="190.67" width="8.40" height="1.53" fill="rgb(166, 193, 208)"/>
<rect x="221.00" y="192.15" width="8.40" height="1.53" fill="rgb(240, 198, 153)"/>
<rect x="221.00" y="193.63" width="8.40" height="1.53" fill="rgb(241, 200, 151)"/>
<rect x="221.00" y="195.12" width="8.40" height="1.53" fill="rgb(241, 199, 156)"/>
<rect x="229.40" y="30.50" width="8.60" height="1.53" fill="rgb(188, 214, 233)"/>
<rect x="229.40" y="31.98" width="8.60" height="1.53" fill="rgb(193, 218, 235)"/>
<rect x="229.40" y="33.47" width="8.60" height="1.53" fill="rgb(208, 227, 237)"/>
<rect x="229.40" y="34.95" width="8.60" height="1.53" fill="rgb(191, 211, 234)"/>
<rect x="229.40" y="36.43" width="8.60" height="1.53" fill="rgb(192, 214, 232)"/>
<rect x="229.40" y="37.92" width="8.60" height="1.53" fill="rgb(191, 220, 235)"/>
<rect x="229.40" y="39.40" width="8.60" height="1.53" fill="rgb(194, 213, 234)"/>
<rect x="229.40" y="40.88" width="8.60" height="1.53" fill="rgb(217, 227, 239)"/>
<rect x="229.40" y="42.36" width="8.60" height="1.53" fill="rgb(166, 197, 226)"/>
<rect x="229.40" y="43.85" width="8.60" height="1.53" fill="rgb(191, 214, 237)"/>
<rect x="229.40" y="45.33" width="8.60" height="1.53" fill="rgb(162, 200, 220)"/>
<rect x="229.40" y="46.81" width="8.60" height="1.53" fill="rgb(192, 214, 233)"/>
<rect x="229.40" y="48.30" width="8.60" height="1.53" fill="rgb(230, 231, 210)"/>
<rect x="229.40" y="49.78" width="8.60" height="1.53" fill="rgb(210, 223, 238)"/>
<rect x="229.40" y="51.26" width="8.60" height="1.53" fill="rgb(190, 216, 236)"/>
<rect x="229.40" y="52.75" width="8.60" height="1.53" fill="rgb(194, 216, 237)"/>
<rect x="229.40" y="54.23" width="8.60" height="1.53" fill="rgb(232, 232, 217)"/>
<rect x="229.40" y="55.71" width="8.60" height="1.53" fill="rgb(194, 218, 236)"/>
<rect x="229.40" y="57.19" width="8.60" height="1.53" fill="rgb(237, 230, 214)"/>
<rect x="229.40" y="58.68" width="8.60" height="1.53" fill="rgb(193, 214, 232)"/>
<rect x="229.40" y="60.16" width="8.60" height="1.53" fill="rgb(213, 226, 235)"/>
<rect x="229.40" y="61.64" width="8.60" height="1.53" fill="rgb(189, 216, 230)"/>
<rect x="229.40" y="63.13" width="8.60" height="1.53" fill="rgb(188, 212, 236)"/>
<rect x="229.40" y="64.61" width="8.60" height="1.53" fill="rgb(192, 219, 234)"/>
<rect x="229.40" y="66.09" width="8.60" height="1.53" fill="rgb(196, 219, 230)"/>
<rect x="229.40" y="67.58" width="8.60" height="1.53" fill="rgb(192, 219, 233)"/>
<rect x="229.40" y="69.06" width="8.60" height="1.53" fill="rgb(210, 230, 236)"/>
<rect x="229.40" y="70.54" width="8.60" height="1.53" fill="rgb(195, 219, 237)"/>
<rect x="229.40" y="72.03" width="8.60" height="1.53" fill="rgb(191, 218, 235)"/>
<rect x="229.40" y="73.51" width="8.60" height="1.53" fill="rgb(166, 192, 224)"/>
<rect x="229.40" y="74.99" width="8.60" height="1.53" fill="rgb(210, 225, 233)"/>
<rect x="229.40" y="76.47" width="8.60" height="1.53" fill="rgb(197, 220, 230)"/>
<rect x="229.40" y="77.96" width="8.60" height="1.53" fill="rgb(212, 230, 237)"/>
<rect x="229.40" y="79.44" width="8.60" height="1.53" fill="rgb(168, 191, 227)"/>
<rect x="229.40" y="80.92" width="8.60" height="1.53" fill="rgb(188, 214, 236)"/>
<rect x="229.40" y="82.41" width="8.60" height="1.53" fill="rgb(230, 232, 208)"/>
<rect x="229.40" y="83.89" width="8.60" height="1.53" fill="rgb(192, 215, 232)"/>
<rect x="229.40" y="85.37" width="8.60" height="1.53" fill="rgb(216, 226, 237)"/>
<rect x="229.40" y="86.86" width="8.60" height="1.53" fill="rgb(215, 233, 237)"/>
<rect x="229.40" y="88.34" width="8.60" height="1.53" fill="rgb(213, 231, 234)"/>
<rect x="229.40" y="89.82" width="8.60" height="1.53" fill="rgb(188, 220, 232)"/>
<rect x="229.40" y="91.30" width="8.60" height="1.53" fill="rgb(188, 214, 229)"/>
<rect x="229.40" y="92.79" width="8.60" height="1.53" fill="rgb(189, 217, 232)"/>
<rect x="229.40" y="94.27" width="8.60" height="1.53" fill="rgb(192, 214, 232)"/>
<rect x="229.40" y="95.75" width="8.60" height="1.53" fill="rgb(188, 220, 232)"/>
<rect x="229.40" y="97.24" width="8.60" height="1.53" fill="rgb(189, 216, 239)"/>
<rect x="229.40" y="98.72" width="8.60" height="1.53" fill="rgb(196, 216, 233)"/>
<rect x="229.40" y="100.20" width="8.60" height="1.53" fill="rgb(212, 224, 239)"/>
<rect x="229.40" y="101.69" width="8.60" height="1.53" fill="rgb(214, 226, 242)"/>
<rect x="229.40" y="103.17" width="8.60" height="1.53" fill="rgb(168, 195, 228)"/>
<rect x="229.40" y="104.65" width="8.60" height="1.53" fill="rgb(244, 194, 139)"/>
<rect x="229.40" y="106.13" width="8.60" height="1.53" fill="rgb(241, 174, 117)"/>
<rect x="229.40" y="107.62" width="8.60" height="1.53" fill="rgb(246, 171, 112)"/>
<rect x="229.40" y="109.10" width="8.60" height="1.53" fill="rgb(237, 157, 101)"/>
<rect x="229.40" y="110.58" width="8.60" height="1.53" fill="rgb(249, 197, 146)"/>
<rect x="229.40" y="112.07" width="8.60" height="1.53" fill="rgb(250, 203, 139)"/>
<rect x="229.40" y="113.55" width="8.60" height="1.53" fill="rgb(241, 159, 95)"/>
<rect x="229.40" y="115.03" width="8.60" height="1.53" fill="rgb(237, 158, 95)"/>
<rect x="229.40" y="116.52" width="8.60" height="1.53" fill="rgb(244, 177, 118)"/>
<rect x="229.40" y="118.00" width="8.60" height="1.53" fill="rgb(247, 174, 113)"/>
<rect x="229.40" y="119.48" width="8.60" height="1.53" fill="rgb(240, 153, 96)"/>
<rect x="229.40" y="120.97" width="8.60" height="1.53" fill="rgb(244, 201, 143)"/>
<rect x="229.40" y="122.45" width="8.60" height="1.53" fill="rgb(244, 194, 139)"/>
<rect x="229.40" y="123.93" width="8.60" height="1.53" fill="rgb(245, 171, 115)"/>
<rect x="229.40" y="125.41" width="8.60" height="1.53" fill="rgb(244, 176, 119)"/>
<rect x="229.40" y="126.90" width="8.60" height="1.53" fill="rgb(249, 174, 117)"/>
<rect x="229.40" y="128.38" width="8.60" height="1.53" fill="rgb(250, 175, 119)"/>
<rect x="229.40" y="129.86" width="8.60" height="1.53" fill="rgb(245, 178, 111)"/>
<rect x="229.40" y="131.35" width="8.60" height="1.53" fill="rgb(247, 180, 113)"/>
<rect x="229.40" y="132.83" width="8.60" height="1.53" fill="rgb(244, 181, 111)"/>
<rect x="229.40" y="134.31" width="8.60" height="1.53" fill="rgb(196, 214, 219)"/>
<rect x="229.40" y="135.80" width="8.60" height="1.53" fill="rgb(246, 227, 177)"/>
<rect x="229.40" y="137.28" width="8.60" height="1.53" fill="rgb(239, 226, 204)"/>
<rect x="229.40" y="138.76" width="8.60" height="1.53" fill="rgb(197, 214, 221)"/>
<rect x="229.40" y="140.24" width="8.60" height="1.53" fill="rgb(238, 203, 155)"/>
<rect x="229.40" y="141.73" width="8.60" height="1.53" fill="rgb(234, 231, 200)"/>
<rect x="229.40" y="143.21" width="8.60" height="1.53" fill="rgb(243, 228, 172)"/>
<rect x="229.40" y="144.69" width="8.60" height="1.53" fill="rgb(243, 232, 199)"/>
<rect x="229.40" y="146.18" width="8.60" height="1.53" fill="rgb(202, 211, 226)"/>
<rect x="229.40" y="147.66" width="8.60" height="1.53" fill="rgb(244, 179, 123)"/>
<rect x="229.40" y="149.14" width="8.60" height="1.53" fill="rgb(170, 196, 216)"/>
<rect x="229.40" y="150.63" width="8.60" height="1.53" fill="rgb(197, 217, 218)"/>
<rect x="229.40" y="152.11" width="8.60" height="1.53" fill="rgb(170, 189, 216)"/>
<rect x="229.40" y="153.59" width="8.60" height="1.53" fill="rgb(239, 234, 198)"/>
<rect x="229.40" y="155.07" width="8.60" height="1.53" fill="rgb(241, 175, 127)"/>
<rect x="229.40" y="156.56" width="8.60" height="1.53" fill="rgb(197, 209, 225)"/>
<rect x="229.40" y="158.04" width="8.60" height="1.53" fill="rgb(171, 192, 217)"/>
<rect x="229.40" y="159.52" width="8.60" height="1.53" fill="rgb(194, 211, 218)"/>
<rect x="229.40" y="161.01" width="8.60" height="1.53" fill="rgb(238, 183, 129)"/>
<rect x="229.40" y="162.49" width="8.60" height="1.53" fill="rgb(236, 178, 130)"/>
<rect x="229.40" y="163.97" width="8.60" height="1.53" fill="rgb(246, 219, 181)"/>
<rect x="229.40" y="165.46" width="8.60" height="1.53" fill="rgb(241, 183, 128)"/>
<rect x="229.40" y="166.94" width="8.60" height="1.53" fill="rgb(241, 179, 121)"/>
<rect x="229.40" y="168.42" width="8.60" height="1.53" fill="rgb(239, 203, 152)"/>
<rect x="229.40" y="169.91" width="8.60" height="1.53" fill="rgb(244, 221, 172)"/>
<rect x="229.40" y="171.39" width="8.60" height="1.53" fill="rgb(197, 208, 218)"/>
<rect x="229.40" y="172.87" width="8.60" height="1.53" fill="rgb(169, 190, 210)"/>
<rect x="229.40" y="174.35" width="8.60" height="1.53" fill="rgb(140, 172, 201)"/>
<rect x="229.40" y="175.84" width="8.60" height="1.53" fill="rgb(240, 198, 155)"/>
<rect x="229.40" y="177.32" width="8.60" height="1.53" fill="rgb(244, 201, 154)"/>
<rect x="229.40" y="178.80" width="8.60" height="1.53" fill="rgb(243, 228, 203)"/>
<rect x="229.40" y="180.29" width="8.60" height="1.53" fill="rgb(240, 177, 130)"/>
<rect x="229.40" y="181.77" width="8.60" height="1.53" fill="rgb(244, 204, 154)"/>
<rect x="229.40" y="183.25" width="8.60" height="1.53" fill="rgb(167, 194, 214)"/>
<rect x="229.40" y="184.74" width="8.60" height="1.53" fill="rgb(234, 229, 199)"/>
<rect x="229.40" y="186.22" width="8.60" height="1.53" fill="rgb(243, 228, 203)"/>
<rect x="229.40" y="187.70" width="8.60" height="1.53" fill="rgb(195, 211, 218)"/>
<rect x="229.40" y="189.18" width="8.60" height="1.53" fill="rgb(166, 191, 211)"/>
<rect x="229.40" y="190.67" width="8.60" height="1.53" fill="rgb(172, 193, 213)"/>
<rect x="229.40" y="192.15" width="8.60" height="1.53" fill="rgb(243, 175, 125)"/>
<rect x="229.40" y="193.63" width="8.60" height="1.53" fill="rgb(243, 204, 153)"/>
<rect x="229.40" y="195.12" width="8.60" height="1.53" fill="rgb(173, 187, 214)"/>
<rect x="239.30" y="30.50" width="8.20" height="1.53" fill="rgb(191, 215, 232)"/>
<rect x="239.30" y="31.98" width="8.20" height="1.53" fill="rgb(214, 233, 243)"/>
<rect x="239.30" y="33.47" width="8.20" height="1.53" fill="rgb(233, 237, 215)"/>
<rect x="239.30" y="34.95" width="8.20" height="1.53" fill="rgb(218, 224, 238)"/>
<rect x="239.30" y="36.43" width="8.20" height="1.53" fill="rgb(194, 213, 239)"/>
<rect x="239.30" y="37.92" width="8.20" height="1.53" fill="rgb(191, 212, 233)"/>
<rect x="239.30" y="39.40" width="8.20" height="1.53" fill="rgb(208, 225, 239)"/>
<rect x="239.30" y="40.88" width="8.20" height="1.53" fill="rgb(215, 226, 241)"/>
<rect x="239.30" y="42.36" width="8.20" height="1.53" fill="rgb(215, 224, 238)"/>
<rect x="239.30" y="43.85" width="8.20" height="1.53" fill="rgb(196, 220, 238)"/>
<rect x="239.30" y="45.33" width="8.20" height="1.53" fill="rgb(191, 216, 234)"/>
<rect x="239.30" y="46.81" width="8.20" height="1.53" fill="rgb(195, 214, 234)"/>
<rect x="239.30" y="48.30" width="8.20" height="1.53" fill="rgb(193, 212, 230)"/>
<rect x="239.30" y="49.78" width="8.20" height="1.53" fill="rgb(190, 219, 232)"/>
<rect x="239.30" y="51.26" width="8.20" height="1.53" fill="rgb(188, 213, 234)"/>
<rect x="239.30" y="52.75" width="8.20" height="1.53" fill="rgb(192, 219, 230)"/>
<rect x="239.30" y="54.23" width="8.20" height="1.53" fill="rgb(160, 200, 225)"/>
<rect x="239.30" y="55.71" width="8.20" height="1.53" fill="rgb(193, 219, 239)"/>
<rect x="239.30" y="57.19" width="8.20" height="1.53" fill="rgb(187, 212, 237)"/>
<rect x="239.30" y="58.68" width="8.20" height="1.53" fill="rgb(215, 225, 238)"/>
<rect x="239.30" y="60.16" width="8.20" height="1.53" fill="rgb(188, 214, 239)"/>
<rect x="239.30" y="61.64" width="8.20" height="1.53" fill="rgb(216, 224, 237)"/>
<rect x="239.30" y="63.13" width="8.20" height="1.53" fill="rgb(190, 212, 238)"/>
<rect x="239.30" y="64.61" width="8.20" height="1.53" fill="rgb(192, 217, 238)"/>
<rect x="239.30" y="66.09" width="8.20" height="1.53" fill="rgb(164, 196, 229)"/>
<rect x="239.30" y="67.58" width="8.20" height="1.53" fill="rgb(190, 218, 232)"/>
<rect x="239.30" y="69.06" width="8.20" height="1.53" fill="rgb(192, 216, 233)"/>
<rect x="239.30" y="70.54" width="8.20" height="1.53" fill="rgb(245, 171, 118)"/>
<rect x="239.30" y="72.03" width="8.20" height="1.53" fill="rgb(246, 176, 114)"/>
<rect x="239.30" y="73.51" width="8.20" height="1.53" fill="rgb(241, 174, 113)"/>
<rect x="239.30" y="74.99" width="8.20" height="1.53" fill="rgb(243, 178, 115)"/>
<rect x="239.30" y="76.47" width="8.20" height="1.53" fill="rgb(245, 180, 110)"/>
<rect x="239.30" y="77.96" width="8.20" height="1.53" fill="rgb(252, 197, 144)"/>
<rect x="239.30" y="79.44" width="8.20" height="1.53" fill="rgb(244, 177, 116)"/>
<rect x="239.30" y="80.92" width="8.20" height="1.53" fill="rgb(245, 176, 117)"/>
<rect x="239.30" y="82.41" width="8.20" height="1.53" fill="rgb(241, 173, 112)"/>
<rect x="239.30" y="83.89" width="8.20" height="1.53" fill="rgb(246, 202, 142)"/>
<rect x="239.30" y="85.37" width="8.20" height="1.53" fill="rgb(247, 172, 120)"/>
<rect x="239.30" y="86.86" width="8.20" height="1.53" fill="rgb(243, 225, 193)"/>
<rect x="239.30" y="88.34" width="8.20" height="1.53" fill="rgb(248, 194, 145)"/>
<rect x="239.30" y="89.82" width="8.20" height="1.53" fill="rgb(247, 176, 119)"/>
<rect x="239.30" y="91.30" width="8.20" height="1.53" fill="rgb(242, 203, 145)"/>
<rect x="239.30" y="92.79" width="8.20" height="1.53" fill="rgb(242, 201, 142)"/>
<rect x="239.30" y="94.27" width="8.20" height="1.53" fill="rgb(252, 203, 139)"/>
<rect x="239.30" y="95.75" width="8.20" height="1.53" fill="rgb(246, 201, 142)"/>
<rect x="239.30" y="97.24" width="8.20" height="1.53" fill="rgb(245, 172, 113)"/>
<rect x="239.30" y="98.72" width="8.20" height="1.53" fill="rgb(160, 191, 225)"/>
<rect x="239.30" y="100.20" width="8.20" height="1.53" fill="rgb(165, 191, 218)"/>
<rect x="239.30" y="101.69" width="8.20" height="1.53" fill="rgb(198, 215, 235)"/>
<rect x="239.30" y="103.17" width="8.20" height="1.53" fill="rgb(193, 215, 234)"/>
<rect x="239.30" y="104.65" width="8.20" height="1.53" fill="rgb(197, 214, 226)"/>
<rect x="239.30" y="106.13" width="8.20" height="1.53" fill="rgb(192, 216, 235)"/>
<rect x="239.30" y="107.62" width="8.20" height="1.53" fill="rgb(195, 214, 234)"/>
<rect x="239.30" y="109.10" width="8.20" height="1.53" fill="rgb(196, 211, 232)"/>
<rect x="239.30" y="110.58" width="8.20" height="1.53" fill="rgb(192, 211, 229)"/>
<rect x="239.30" y="112.07" width="8.20" height="1.53" fill="rgb(214, 226, 236)"/>
<rect x="239.30" y="113.55" width="8.20" height="1.53" fill="rgb(233, 234, 210)"/>
<rect x="239.30" y="115.03" width="8.20" height="1.53" fill="rgb(234, 184, 132)"/>
<rect x="239.30" y="116.52" width="8.20" height="1.53" fill="rgb(196, 216, 229)"/>
<rect x="239.30" y="118.00" width="8.20" height="1.53" fill="rgb(197, 214, 233)"/>
<rect x="239.30" y="119.48" width="8.20" height="1.53" fill="rgb(246, 174, 116)"/>
<rect x="239.30" y="120.97" width="8.20" height="1.53" fill="rgb(246, 195, 137)"/>
<rect x="239.30" y="122.45" width="8.20" height="1.53" fill="rgb(237, 152, 98)"/>
<rect x="239.30" y="123.93" width="8.20" height="1.53" fill="rgb(247, 174, 112)"/>
<rect x="239.30" y="125.41" width="8.20" height="1.53" fill="rgb(242, 177, 114)"/>
<rect x="239.30" y="126.90" width="8.20" height="1.53" fill="rgb(237, 157, 91)"/>
<rect x="239.30" y="128.38" width="8.20" height="1.53" fill="rgb(246, 174, 108)"/>
<rect x="239.30" y="129.86" width="8.20" height="1.53" fill="rgb(242, 158, 98)"/>
<rect x="239.30" y="131.35" width="8.20" height="1.53" fill="rgb(240, 159, 96)"/>
<rect x="239.30" y="132.83" width="8.20" height="1.53" fill="rgb(249, 175, 109)"/>
<rect x="239.30" y="134.31" width="8.20" height="1.53" fill="rgb(240, 173, 109)"/>
<rect x="239.30" y="135.80" width="8.20" height="1.53" fill="rgb(243, 169, 111)"/>
<rect x="239.30" y="137.28" width="8.20" height="1.53" fill="rgb(243, 171, 111)"/>
<rect x="239.30" y="138.76" width="8.20" height="1.53" fill="rgb(243, 199, 143)"/>
<rect x="239.30" y="140.24" width="8.20" height="1.53" fill="rgb(242, 226, 176)"/>
<rect x="239.30" y="141.73" width="8.20" height="1.53" fill="rgb(201, 215, 220)"/>
<rect x="239.30" y="143.21" width="8.20" height="1.53" fill="rgb(244, 178, 129)"/>
<rect x="239.30" y="144.69" width="8.20" height="1.53" fill="rgb(239, 178, 128)"/>
<rect x="239.30" y="146.18" width="8.20" height="1.53" fill="rgb(168, 192, 211)"/>
<rect x="239.30" y="147.66" width="8.20" height="1.53" fill="rgb(244, 175, 130)"/>
<rect x="239.30" y="149.14" width="8.20" height="1.53" fill="rgb(193, 216, 218)"/>
<rect x="239.30" y="150.63" width="8.20" height="1.53" fill="rgb(235, 235, 199)"/>
<rect x="239.30" y="152.11" width="8.20" height="1.53" fill="rgb(164, 193, 208)"/>
<rect x="239.30" y="153.59" width="8.20" height="1.53" fill="rgb(240, 184, 128)"/>
<rect x="239.30" y="155.07" width="8.20" height="1.53" fill="rgb(171, 192, 208)"/>
<rect x="239.30" y="156.56" width="8.20" height="1.53" fill="rgb(235, 230, 199)"/>
<rect x="239.30" y="158.04" width="8.20" height="1.53" fill="rgb(236, 232, 200)"/>
<rect x="239.30" y="159.52" width="8.20" height="1.53" fill="rgb(234, 230, 201)"/>
<rect x="239.30" y="161.01" width="8.20" height="1.53" fill="rgb(139, 166, 200)"/>
<rect x="239.30" y="162.49" width="8.20" height="1.53" fill="rgb(243, 206, 159)"/>
<rect x="239.30" y="163.97" width="8.20" height="1.53" fill="rgb(173, 195, 217)"/>
<rect x="239.30" y="165.46" width="8.20" height="1.53" fill="rgb(239, 180, 128)"/>
<rect x="239.30" y="166.94" width="8.20" height="1.53" fill="rgb(243, 228, 172)"/>
<rect x="239.30" y="168.42" width="8.20" height="1.53" fill="rgb(243, 225, 197)"/>
<rect x="239.30" y="169.91" width="8.20" height="1.53" fill="rgb(173, 187, 208)"/>
<rect x="239.30" y="171.39" width="8.20" height="1.53" fill="rgb(170, 192, 213)"/>
<rect x="239.30" y="172.87" width="8.20" height="1.53" fill="rgb(200, 207, 218)"/>
<rect x="239.30" y="174.35" width="8.20" height="1.53" fill="rgb(202, 215, 221)"/>
<rect x="239.30" y="175.84" width="8.20" height="1.53" fill="rgb(239, 197, 157)"/>
<rect x="239.30" y="177.32" width="8.20" height="1.53" fill="rgb(240, 180, 124)"/>
<rect x="239.30" y="178.80" width="8.20" height="1.53" fill="rgb(197, 209, 226)"/>
<rect x="239.30" y="180.29" width="8.20" height="1.53" fill="rgb(236, 177, 126)"/>
<rect x="239.30" y="181.77" width="8.20" height="1.53" fill="rgb(196, 209, 223)"/>
<rect x="239.30" y="183.25" width="8.20" height="1.53" fill="rgb(240, 177, 130)"/>
<rect x="239.30" y="184.74" width="8.20" height="1.53" fill="rgb(237, 177, 124)"/>
<rect x="239.30" y="186.22" width="8.20" height="1.53" fill="rgb(199, 215, 222)"/>
<rect x="239.30" y="187.70" width="8.20" height="1.53" fill="rgb(242, 177, 123)"/>
<rect x="239.30" y="189.18" width="8.20" height="1.53" fill="rgb(246, 201, 153)"/>
<rect x="239.30" y="190.67" width="8.20" height="1.53" fill="rgb(173, 191, 209)"/>
<rect x="239.30" y="192.15" width="8.20" height="1.53" fill="rgb(200, 210, 225)"/>
<rect x="239.30" y="193.63" width="8.20" height="1.53" fill="rgb(239, 203, 157)"/>
<rect x="239.30" y="195.12" width="8.20" height="1.53" fill="rgb(242, 225, 201)"/>
<rect x="247.50" y="30.50" width="8.20" height="1.53" fill="rgb(153, 195, 220)"/>
<rect x="247.50" y="31.98" width="8.20" height="1.53" fill="rgb(161, 196, 228)"/>
<rect x="247.50" y="33.47" width="8.20" height="1.53" fill="rgb(161, 188, 225)"/>
<rect x="247.50" y="34.95" width="8.20" height="1.53" fill="rgb(123, 165, 215)"/>
<rect x="247.50" y="36.43" width="8.20" height="1.53" fill="rgb(188, 216, 232)"/>
<rect x="247.50" y="37.92" width="8.20" height="1.53" fill="rgb(153, 189, 228)"/>
<rect x="247.50" y="39.40" width="8.20" height="1.53" fill="rgb(154, 190, 219)"/>
<rect x="247.50" y="40.88" width="8.20" height="1.53" fill="rgb(154, 187, 224)"/>
<rect x="247.50" y="42.36" width="8.20" height="1.53" fill="rgb(158, 194, 224)"/>
<rect x="247.50" y="43.85" width="8.20" height="1.53" fill="rgb(122, 166, 209)"/>
<rect x="247.50" y="45.33" width="8.20" height="1.53" fill="rgb(160, 195, 223)"/>
<rect x="247.50" y="46.81" width="8.20" height="1.53" fill="rgb(155, 192, 221)"/>
<rect x="247.50" y="48.30" width="8.20" height="1.53" fill="rgb(191, 211, 234)"/>
<rect x="247.50" y="49.78" width="8.20" height="1.53" fill="rgb(185, 208, 237)"/>
<rect x="247.50" y="51.26" width="8.20" height="1.53" fill="rgb(201, 227, 236)"/>
<rect x="247.50" y="52.75" width="8.20" height="1.53" fill="rgb(154, 188, 226)"/>
<rect x="247.50" y="54.23" width="8.20" height="1.53" fill="rgb(152, 188, 226)"/>
<rect x="247.50" y="55.71" width="8.20" height="1.53" fill="rgb(158, 191, 220)"/>
<rect x="247.50" y="57.19" width="8.20" height="1.53" fill="rgb(155, 187, 221)"/>
<rect x="247.50" y="58.68" width="8.20" height="1.53" fill="rgb(156, 191, 225)"/>
<rect x="247.50" y="60.16" width="8.20" height="1.53" fill="rgb(155, 195, 224)"/>
<rect x="247.50" y="61.64" width="8.20" height="1.53" fill="rgb(157, 191, 222)"/>
<rect x="247.50" y="63.13" width="8.20" height="1.53" fill="rgb(183, 216, 236)"/>
<rect x="247.50" y="64.61" width="8.20" height="1.53" fill="rgb(182, 212, 237)"/>
<rect x="247.50" y="66.09" width="8.20" height="1.53" fill="rgb(154, 193, 221)"/>
<rect x="247.50" y="67.58" width="8.20" height="1.53" fill="rgb(154, 196, 221)"/>
<rect x="247.50" y="69.06" width="8.20" height="1.53" fill="rgb(159, 190, 224)"/>
<rect x="247.50" y="70.54" width="8.20" height="1.53" fill="rgb(250, 176, 114)"/>
<rect x="247.50" y="72.03" width="8.20" height="1.53" fill="rgb(245, 173, 115)"/>
<rect x="247.50" y="73.51" width="8.20" height="1.53" fill="rgb(247, 194, 143)"/>
<rect x="247.50" y="74.99" width="8.20" height="1.53" fill="rgb(247, 180, 113)"/>
<rect x="247.50" y="76.47" width="8.20" height="1.53" fill="rgb(241, 179, 112)"/>
<rect x="247.50" y="77.96" width="8.20" height="1.53" fill="rgb(250, 196, 147)"/>
<rect x="247.50" y="79.44" width="8.20" height="1.53" fill="rgb(245, 176, 119)"/>
<rect x="247.50" y="80.92" width="8.20" height="1.53" fill="rgb(245, 174, 118)"/>
<rect x="247.50" y="82.41" width="8.20" height="1.53" fill="rgb(244, 173, 112)"/>
<rect x="247.50" y="83.89" width="8.20" height="1.53" fill="rgb(248, 231, 194)"/>
<rect x="247.50" y="85.37" width="8.20" height="1.53" fill="rgb(250, 200, 146)"/>
<rect x="247.50" y="86.86" width="8.20" height="1.53" fill="rgb(244, 202, 141)"/>
<rect x="247.50" y="88.34" width="8.20" height="1.53" fill="rgb(250, 171, 115)"/>
<rect x="247.50" y="89.82" width="8.20" height="1.53" fill="rgb(248, 177, 119)"/>
<rect x="247.50" y="91.30" width="8.20" height="1.53" fill="rgb(243, 153, 99)"/>
<rect x="247.50" y="92.79" width="8.20" height="1.53" fill="rgb(250, 179, 113)"/>
<rect x="247.50" y="94.27" width="8.20" height="1.53" fill="rgb(247, 178, 120)"/>
<rect x="247.50" y="95.75" width="8.20" height="1.53" fill="rgb(243, 201, 138)"/>
<rect x="247.50" y="97.24" width="8.20" height="1.53" fill="rgb(247, 229, 193)"/>
<rect x="247.50" y="98.72" width="8.20" height="1.53" fill="rgb(194, 214, 230)"/>
<rect x="247.50" y="100.20" width="8.20" height="1.53" fill="rgb(159, 187, 217)"/>
<rect x="247.50" y="101.69" width="8.20" height="1.53" fill="rgb(187, 214, 233)"/>
<rect x="247.50" y="103.17" width="8.20" height="1.53" fill="rgb(190, 210, 228)"/>
<rect x="247.50" y="104.65" width="8.20" height="1.53" fill="rgb(162, 194, 225)"/>
<rect x="247.50" y="106.13" width="8.20" height="1.53" fill="rgb(165, 196, 218)"/>
<rect x="247.50" y="107.62" width="8.20" height="1.53" fill="rgb(233, 184, 137)"/>
<rect x="247.50" y="109.10" width="8.20" height="1.53" fill="rgb(159, 192, 220)"/>
<rect x="247.50" y="110.58" width="8.20" height="1.53" fill="rgb(165, 192, 220)"/>
<rect x="247.50" y="112.07" width="8.20" height="1.53" fill="rgb(187, 209, 231)"/>
<rect x="247.50" y="113.55" width="8.20" height="1.53" fill="rgb(159, 188, 216)"/>
<rect x="247.50" y="115.03" width="8.20" height="1.53" fill="rgb(161, 196, 222)"/>
<rect x="247.50" y="116.52" width="8.20" height="1.53" fill="rgb(160, 189, 220)"/>
<rect x="247.50" y="118.00" width="8.20" height="1.53" fill="rgb(228, 179, 136)"/>
<rect x="247.50" y="119.48" width="8.20" height="1.53" fill="rgb(242, 156, 99)"/>
<rect x="247.50" y="120.97" width="8.20" height="1.53" fill="rgb(244, 196, 144)"/>
<rect x="247.50" y="122.45" width="8.20" height="1.53" fill="rgb(238, 157, 90)"/>
<rect x="247.50" y="123.93" width="8.20" height="1.53" fill="rgb(246, 171, 114)"/>
<rect x="247.50" y="125.41" width="8.20" height="1.53" fill="rgb(240, 157, 96)"/>
<rect x="247.50" y="126.90" width="8.20" height="1.53" fill="rgb(241, 154, 90)"/>
<rect x="247.50" y="128.38" width="8.20" height="1.53" fill="rgb(250, 177, 107)"/>
<rect x="247.50" y="129.86" width="8.20" height="1.53" fill="rgb(243, 175, 111)"/>
<rect x="247.50" y="131.35" width="8.20" height="1.53" fill="rgb(244, 174, 114)"/>
<rect x="247.50" y="132.83" width="8.20" height="1.53" fill="rgb(247, 175, 113)"/>
<rect x="247.50" y="134.31" width="8.20" height="1.53" fill="rgb(247, 169, 107)"/>
<rect x="247.50" y="135.80" width="8.20" height="1.53" fill="rgb(240, 169, 110)"/>
<rect x="247.50" y="137.28" width="8.20" height="1.53" fill="rgb(241, 177, 115)"/>
<rect x="247.50" y="138.76" width="8.20" height="1.53" fill="rgb(246, 171, 116)"/>
<rect x="247.50" y="140.24" width="8.20" height="1.53" fill="rgb(237, 177, 130)"/>
<rect x="247.50" y="141.73" width="8.20" height="1.53" fill="rgb(238, 229, 205)"/>
<rect x="247.50" y="143.21" width="8.20" height="1.53" fill="rgb(242, 181, 125)"/>
<rect x="247.50" y="144.69" width="8.20" height="1.53" fill="rgb(240, 201, 152)"/>
<rect x="247.50" y="146.18" width="8.20" height="1.53" fill="rgb(196, 210, 225)"/>
<rect x="247.50" y="147.66" width="8.20" height="1.53" fill="rgb(238, 234, 200)"/>
<rect x="247.50" y="149.14" width="8.20" height="1.53" fill="rgb(245, 207, 157)"/>
<rect x="247.50" y="150.63" width="8.20" height="1.53" fill="rgb(243, 204, 152)"/>
<rect x="247.50" y="152.11" width="8.20" height="1.53" fill="rgb(202, 214, 224)"/>
<rect x="247.50" y="153.59" width="8.20" height="1.53" fill="rgb(242, 199, 157)"/>
<rect x="247.50" y="155.07" width="8.20" height="1.53" fill="rgb(243, 228, 203)"/>
<rect x="247.50" y="156.56" width="8.20" height="1.53" fill="rgb(238, 182, 124)"/>
<rect x="247.50" y="158.04" width="8.20" height="1.53" fill="rgb(239, 223, 181)"/>
<rect x="247.50" y="159.52" width="8.20" height="1.53" fill="rgb(243, 175, 127)"/>
<rect x="247.50" y="161.01" width="8.20" height="1.53" fill="rgb(172, 191, 213)"/>
<rect x="247.50" y="162.49" width="8.20" height="1.53" fill="rgb(200, 215, 223)"/>
<rect x="247.50" y="163.97" width="8.20" height="1.53" fill="rgb(241, 180, 126)"/>
<rect x="247.50" y="165.46" width="8.20" height="1.53" fill="rgb(134, 172, 201)"/>
<rect x="247.50" y="166.94" width="8.20" height="1.53" fill="rgb(202, 210, 223)"/>
<rect x="247.50" y="168.42" width="8.20" height="1.53" fill="rgb(239, 227, 202)"/>
<rect x="247.50" y="169.91" width="8.20" height="1.53" fill="rgb(170, 190, 216)"/>
<rect x="247.50" y="171.39" width="8.20" height="1.53" fill="rgb(237, 203, 154)"/>
<rect x="247.50" y="172.87" width="8.20" height="1.53" fill="rgb(243, 231, 205)"/>
<rect x="247.50" y="174.35" width="8.20" height="1.53" fill="rgb(243, 198, 152)"/>
<rect x="247.50" y="175.84" width="8.20" height="1.53" fill="rgb(199, 215, 221)"/>
<rect x="247.50" y="177.32" width="8.20" height="1.53" fill="rgb(238, 180, 121)"/>
<rect x="247.50" y="178.80" width="8.20" height="1.53" fill="rgb(242, 198, 152)"/>
<rect x="247.50" y="180.29" width="8.20" height="1.53" fill="rgb(173, 189, 209)"/>
<rect x="247.50" y="181.77" width="8.20" height="1.53" fill="rgb(235, 182, 128)"/>
<rect x="247.50" y="183.25" width="8.20" height="1.53" fill="rgb(239, 181, 121)"/>
<rect x="247.50" y="184.74" width="8.20" height="1.53" fill="rgb(201, 209, 224)"/>
<rect x="247.50" y="186.22" width="8.20" height="1.53" fill="rgb(196, 216, 219)"/>
<rect x="247.50" y="187.70" width="8.20" height="1.53" fill="rgb(237, 229, 204)"/>
<rect x="247.50" y="189.18" width="8.20" height="1.53" fill="rgb(240, 235, 198)"/>
<rect x="247.50" y="190.67" width="8.20" height="1.53" fill="rgb(241, 176, 131)"/>
<rect x="247.50" y="192.15" width="8.20" height="1.53" fill="rgb(240, 201, 157)"/>
<rect x="247.50" y="193.63" width="8.20" height="1.53" fill="rgb(170, 189, 211)"/>
<rect x="247.50" y="195.12" width="8.20" height="1.53" fill="rgb(194, 216, 226)"/>
<rect x="255.70" y="30.50" width="8.30" height="1.53" fill="rgb(191, 213, 236)"/>
<rect x="255.70" y="31.98" width="8.30" height="1.53" fill="rgb(194, 211, 238)"/>
<rect x="255.70" y="33.47" width="8.30" height="1.53" fill="rgb(193, 212, 230)"/>
<rect x="255.70" y="34.95" width="8.30" height="1.53" fill="rgb(197, 217, 238)"/>
<rect x="255.70" y="36.43" width="8.30" height="1.53" fill="rgb(188, 211, 236)"/>
<rect x="255.70" y="37.92" width="8.30" height="1.53" fill="rgb(190, 217, 236)"/>
<rect x="255.70" y="39.40" width="8.30" height="1.53" fill="rgb(192, 214, 235)"/>
<rect x="255.70" y="40.88" width="8.30" height="1.53" fill="rgb(191, 213, 232)"/>
<rect x="255.70" y="42.36" width="8.30" height="1.53" fill="rgb(187, 214, 235)"/>
<rect x="255.70" y="43.85" width="8.30" height="1.53" fill="rgb(188, 219, 234)"/>
<rect x="255.70" y="45.33" width="8.30" height="1.53" fill="rgb(190, 220, 237)"/>
<rect x="255.70" y="46.81" width="8.30" height="1.53" fill="rgb(214, 230, 238)"/>
<rect x="255.70" y="48.30" width="8.30" height="1.53" fill="rgb(191, 216, 234)"/>
<rect x="255.70" y="49.78" width="8.30" height="1.53" fill="rgb(193, 219, 238)"/>
<rect x="255.70" y="51.26" width="8.30" height="1.53" fill="rgb(188, 214, 229)"/>
<rect x="255.70" y="52.75" width="8.30" height="1.53" fill="rgb(214, 226, 235)"/>
<rect x="255.70" y="54.23" width="8.30" height="1.53" fill="rgb(167, 197, 227)"/>
<rect x="255.70" y="55.71" width="8.30" height="1.53" fill="rgb(212, 227, 239)"/>
<rect x="255.70" y="57.19" width="8.30" height="1.53" fill="rgb(168, 200, 228)"/>
<rect x="255.70" y="58.68" width="8.30" height="1.53" fill="rgb(190, 220, 235)"/>
<rect x="255.70" y="60.16" width="8.30" height="1.53" fill="rgb(190, 219, 234)"/>
<rect x="255.70" y="61.64" width="8.30" height="1.53" fill="rgb(229, 239, 208)"/>
<rect x="255.70" y="63.13" width="8.30" height="1.53" fill="rgb(191, 217, 230)"/>
<rect x="255.70" y="64.61" width="8.30" height="1.53" fill="rgb(197, 215, 237)"/>
<rect x="255.70" y="66.09" width="8.30" height="1.53" fill="rgb(193, 213, 234)"/>
<rect x="255.70" y="67.58" width="8.30" height="1.53" fill="rgb(165, 193, 224)"/>
<rect x="255.70" y="69.06" width="8.30" height="1.53" fill="rgb(191, 217, 235)"/>
<rect x="255.70" y="70.54" width="8.30" height="1.53" fill="rgb(243, 177, 112)"/>
<rect x="255.70" y="72.03" width="8.30" height="1.53" fill="rgb(248, 174, 119)"/>
<rect x="255.70" y="73.51" width="8.30" height="1.53" fill="rgb(243, 200, 140)"/>
<rect x="255.70" y="74.99" width="8.30" height="1.53" fill="rgb(249, 201, 138)"/>
<rect x="255.70" y="76.47" width="8.30" height="1.53" fill="rgb(248, 172, 112)"/>
<rect x="255.70" y="77.96" width="8.30" height="1.53" fill="rgb(242, 175, 119)"/>
<rect x="255.70" y="79.44" width="8.30" height="1.53" fill="rgb(243, 179, 112)"/>
<rect x="255.70" y="80.92" width="8.30" height="1.53" fill="rgb(248, 203, 138)"/>
<rect x="255.70" y="82.41" width="8.30" height="1.53" fill="rgb(246, 202, 140)"/>
<rect x="255.70" y="83.89" width="8.30" height="1.53" fill="rgb(244, 198, 147)"/>
<rect x="255.70" y="85.37" width="8.30" height="1.53" fill="rgb(243, 180, 116)"/>
<rect x="255.70" y="86.86" width="8.30" height="1.53" fill="rgb(242, 173, 113)"/>
<rect x="255.70" y="88.34" width="8.30" height="1.53" fill="rgb(247, 231, 191)"/>
<rect x="255.70" y="89.82" width="8.30" height="1.53" fill="rgb(246, 201, 143)"/>
<rect x="255.70" y="91.30" width="8.30" height="1.53" fill="rgb(245, 175, 115)"/>
<rect x="255.70" y="92.79" width="8.30" height="1.53" fill="rgb(241, 181, 113)"/>
<rect x="255.70" y="94.27" width="8.30" height="1.53" fill="rgb(242, 177, 119)"/>
<rect x="255.70" y="95.75" width="8.30" height="1.53" fill="rgb(246, 176, 117)"/>
<rect x="255.70" y="97.24" width="8.30" height="1.53" fill="rgb(244, 195, 145)"/>
<rect x="255.70" y="98.72" width="8.30" height="1.53" fill="rgb(244, 230, 203)"/>
<rect x="255.70" y="100.20" width="8.30" height="1.53" fill="rgb(203, 218, 229)"/>
<rect x="255.70" y="101.69" width="8.30" height="1.53" fill="rgb(246, 224, 184)"/>
<rect x="255.70" y="103.17" width="8.30" height="1.53" fill="rgb(237, 230, 201)"/>
<rect x="255.70" y="104.65" width="8.30" height="1.53" fill="rgb(240, 180, 126)"/>
<rect x="255.70" y="106.13" width="8.30" height="1.53" fill="rgb(245, 232, 176)"/>
<rect x="255.70" y="107.62" width="8.30" height="1.53" fill="rgb(238, 231, 202)"/>
<rect x="255.70" y="109.10" width="8.30" height="1.53" fill="rgb(242, 231, 202)"/>
<rect x="255.70" y="110.58" width="8.30" height="1.53" fill="rgb(198, 213, 227)"/>
<rect x="255.70" y="112.07" width="8.30" height="1.53" fill="rgb(198, 216, 222)"/>
<rect x="255.70" y="113.55" width="8.30" height="1.53" fill="rgb(196, 215, 222)"/>
<rect x="255.70" y="115.03" width="8.30" height="1.53" fill="rgb(242, 183, 131)"/>
<rect x="255.70" y="116.52" width="8.30" height="1.53" fill="rgb(238, 183, 133)"/>
<rect x="255.70" y="118.00" width="8.30" height="1.53" fill="rgb(243, 238, 201)"/>
<rect x="255.70" y="119.48" width="8.30" height="1.53" fill="rgb(243, 178, 118)"/>
<rect x="255.70" y="120.97" width="8.30" height="1.53" fill="rgb(251, 195, 142)"/>
<rect x="255.70" y="122.45" width="8.30" height="1.53" fill="rgb(247, 223, 194)"/>
<rect x="255.70" y="123.93" width="8.30" height="1.53" fill="rgb(251, 197, 144)"/>
<rect x="255.70" y="125.41" width="8.30" height="1.53" fill="rgb(246, 158, 101)"/>
<rect x="255.70" y="126.90" width="8.30" height="1.53" fill="rgb(245, 159, 102)"/>
<rect x="255.70" y="128.38" width="8.30" height="1.53" fill="rgb(245, 176, 111)"/>
<rect x="255.70" y="129.86" width="8.30" height="1.53" fill="rgb(243, 200, 141)"/>
<rect x="255.70" y="131.35" width="8.30" height="1.53" fill="rgb(247, 173, 114)"/>
<rect x="255.70" y="132.83" width="8.30" height="1.53" fill="rgb(250, 224, 188)"/>
<rect x="255.70" y="134.31" width="8.30" height="1.53" fill="rgb(244, 202, 140)"/>
<rect x="255.70" y="135.80" width="8.30" height="1.53" fill="rgb(245, 193, 138)"/>
<rect x="255.70" y="137.28" width="8.30" height="1.53" fill="rgb(244, 174, 120)"/>
<rect x="255.70" y="138.76" width="8.30" height="1.53" fill="rgb(243, 201, 140)"/>
<rect x="255.70" y="140.24" width="8.30" height="1.53" fill="rgb(241, 234, 205)"/>
<rect x="255.70" y="141.73" width="8.30" height="1.53" fill="rgb(239, 201, 152)"/>
<rect x="255.70" y="143.21" width="8.30" height="1.53" fill="rgb(197, 214, 218)"/>
<rect x="255.70" y="144.69" width="8.30" height="1.53" fill="rgb(202, 209, 223)"/>
<rect x="255.70" y="146.18" width="8.30" height="1.53" fill="rgb(235, 178, 123)"/>
<rect x="255.70" y="147.66" width="8.30" height="1.53" fill="rgb(198, 214, 227)"/>
<rect x="255.70" y="149.14" width="8.30" height="1.53" fill="rgb(235, 175, 126)"/>
<rect x="255.70" y="150.63" width="8.30" height="1.53" fill="rgb(170, 192, 216)"/>
<rect x="255.70" y="152.11" width="8.30" height="1.53" fill="rgb(237, 203, 149)"/>
<rect x="255.70" y="153.59" width="8.30" height="1.53" fill="rgb(235, 176, 122)"/>
<rect x="255.70" y="155.07" width="8.30" height="1.53" fill="rgb(235, 231, 204)"/>
<rect x="255.70" y="156.56" width="8.30" height="1.53" fill="rgb(237, 204, 156)"/>
<rect x="255.70" y="158.04" width="8.30" height="1.53" fill="rgb(169, 193, 216)"/>
<rect x="255.70" y="159.52" width="8.30" height="1.53" fill="rgb(202, 210, 225)"/>
<rect x="255.70" y="161.01" width="8.30" height="1.53" fill="rgb(197, 207, 222)"/>
<rect x="255.70" y="162.49" width="8.30" height="1.53" fill="rgb(240, 179, 126)"/>
<rect x="255.70" y="163.97" width="8.30" height="1.53" fill="rgb(236, 180, 128)"/>
<rect x="255.70" y="165.46" width="8.30" height="1.53" fill="rgb(141, 167, 202)"/>
<rect x="255.70" y="166.94" width="8.30" height="1.53" fill="rgb(242, 229, 205)"/>
<rect x="255.70" y="168.42" width="8.30" height="1.53" fill="rgb(238, 230, 199)"/>
<rect x="255.70" y="169.91" width="8.30" height="1.53" fill="rgb(133, 168, 198)"/>
<rect x="255.70" y="171.39" width="8.30" height="1.53" fill="rgb(194, 209, 221)"/>
<rect x="255.70" y="172.87" width="8.30" height="1.53" fill="rgb(244, 223, 174)"/>
<rect x="255.70" y="174.35" width="8.30" height="1.53" fill="rgb(245, 199, 149)"/>
<rect x="255.70" y="175.84" width="8.30" height="1.53" fill="rgb(168, 188, 209)"/>
<rect x="255.70" y="177.32" width="8.30" height="1.53" fill="rgb(171, 187, 214)"/>
<rect x="255.70" y="178.80" width="8.30" height="1.53" fill="rgb(239, 180, 122)"/>
<rect x="255.70" y="180.29" width="8.30" height="1.53" fill="rgb(167, 188, 215)"/>
<rect x="255.70" y="181.77" width="8.30" height="1.53" fill="rgb(235, 181, 126)"/>
<rect x="255.70" y="183.25" width="8.30" height="1.53" fill="rgb(171, 189, 208)"/>
<rect x="255.70" y="184.74" width="8.30" height="1.53" fill="rgb(241, 222, 180)"/>
<rect x="255.70" y="186.22" width="8.30" height="1.53" fill="rgb(241, 175, 130)"/>
<rect x="255.70" y="187.70" width="8.30" height="1.53" fill="rgb(170, 190, 215)"/>
<rect x="255.70" y="189.18" width="8.30" height="1.53" fill="rgb(171, 187, 213)"/>
<rect x="255.70" y="190.67" width="8.30" height="1.53" fill="rgb(240, 184, 130)"/>
<rect x="255.70" y="192.15" width="8.30" height="1.53" fill="rgb(240, 177, 123)"/>
<rect x="255.70" y="193.63" width="8.30" height="1.53" fill="rgb(200, 210, 221)"/>
<rect x="255.70" y="195.12" width="8.30" height="1.53" fill="rgb(199, 212, 218)"/>
<rect x="265.70" y="30.50" width="8.40" height="1.53" fill="rgb(242, 179, 115)"/>
<rect x="265.70" y="31.98" width="8.40" height="1.53" fill="rgb(246, 197, 140)"/>
<rect x="265.70" y="33.47" width="8.40" height="1.53" fill="rgb(243, 153, 100)"/>
<rect x="265.70" y="34.95" width="8.40" height="1.53" fill="rgb(248, 201, 144)"/>
<rect x="265.70" y="36.43" width="8.40" height="1.53" fill="rgb(249, 226, 191)"/>
<rect x="265.70" y="37.92" width="8.40" height="1.53" fill="rgb(245, 174, 116)"/>
<rect x="265.70" y="39.40" width="8.40" height="1.53" fill="rgb(244, 179, 118)"/>
<rect x="265.70" y="40.88" width="8.40" height="1.53" fill="rgb(250, 197, 144)"/>
<rect x="265.70" y="42.36" width="8.40" height="1.53" fill="rgb(244, 172, 118)"/>
<rect x="265.70" y="43.85" width="8.40" height="1.53" fill="rgb(240, 156, 94)"/>
<rect x="265.70" y="45.33" width="8.40" height="1.53" fill="rgb(247, 180, 111)"/>
<rect x="265.70" y="46.81" width="8.40" height="1.53" fill="rgb(248, 173, 118)"/>
<rect x="265.70" y="48.30" width="8.40" height="1.53" fill="rgb(245, 173, 113)"/>
<rect x="265.70" y="49.78" width="8.40" height="1.53" fill="rgb(243, 178, 110)"/>
<rect x="265.70" y="51.26" width="8.40" height="1.53" fill="rgb(250, 197, 140)"/>
<rect x="265.70" y="52.75" width="8.40" height="1.53" fill="rgb(241, 179, 116)"/>
<rect x="265.70" y="54.23" width="8.40" height="1.53" fill="rgb(245, 177, 113)"/>
<rect x="265.70" y="55.71" width="8.40" height="1.53" fill="rgb(245, 174, 119)"/>
<rect x="265.70" y="57.19" width="8.40" height="1.53" fill="rgb(250, 179, 115)"/>
<rect x="265.70" y="58.68" width="8.40" height="1.53" fill="rgb(249, 172, 115)"/>
<rect x="265.70" y="60.16" width="8.40" height="1.53" fill="rgb(241, 175, 111)"/>
<rect x="265.70" y="61.64" width="8.40" height="1.53" fill="rgb(242, 161, 102)"/>
<rect x="265.70" y="63.13" width="8.40" height="1.53" fill="rgb(249, 198, 146)"/>
<rect x="265.70" y="64.61" width="8.40" height="1.53" fill="rgb(244, 199, 142)"/>
<rect x="265.70" y="66.09" width="8.40" height="1.53" fill="rgb(248, 178, 115)"/>
<rect x="265.70" y="67.58" width="8.40" height="1.53" fill="rgb(250, 194, 139)"/>
<rect x="265.70" y="69.06" width="8.40" height="1.53" fill="rgb(242, 180, 113)"/>
<rect x="265.70" y="70.54" width="8.40" height="1.53" fill="rgb(245, 176, 113)"/>
<rect x="265.70" y="72.03" width="8.40" height="1.53" fill="rgb(245, 202, 146)"/>
<rect x="265.70" y="73.51" width="8.40" height="1.53" fill="rgb(246, 172, 119)"/>
<rect x="265.70" y="74.99" width="8.40" height="1.53" fill="rgb(243, 178, 116)"/>
<rect x="265.70" y="76.47" width="8.40" height="1.53" fill="rgb(246, 199, 140)"/>
<rect x="265.70" y="77.96" width="8.40" height="1.53" fill="rgb(243, 178, 111)"/>
<rect x="265.70" y="79.44" width="8.40" height="1.53" fill="rgb(242, 176, 116)"/>
<rect x="265.70" y="80.92" width="8.40" height="1.53" fill="rgb(250, 179, 114)"/>
<rect x="265.70" y="82.41" width="8.40" height="1.53" fill="rgb(160, 196, 220)"/>
<rect x="265.70" y="83.89" width="8.40" height="1.53" fill="rgb(189, 216, 230)"/>
<rect x="265.70" y="85.37" width="8.40" height="1.53" fill="rgb(154, 188, 227)"/>
<rect x="265.70" y="86.86" width="8.40" height="1.53" fill="rgb(186, 208, 231)"/>
<rect x="265.70" y="88.34" width="8.40" height="1.53" fill="rgb(158, 193, 226)"/>
<rect x="265.70" y="89.82" width="8.40" height="1.53" fill="rgb(156, 191, 222)"/>
<rect x="265.70" y="91.30" width="8.40" height="1.53" fill="rgb(159, 193, 222)"/>
<rect x="265.70" y="92.79" width="8.40" height="1.53" fill="rgb(153, 187, 222)"/>
<rect x="265.70" y="94.27" width="8.40" height="1.53" fill="rgb(152, 187, 223)"/>
<rect x="265.70" y="95.75" width="8.40" height="1.53" fill="rgb(130, 164, 211)"/>
<rect x="265.70" y="97.24" width="8.40" height="1.53" fill="rgb(155, 188, 224)"/>
<rect x="265.70" y="98.72" width="8.40" height="1.53" fill="rgb(185, 208, 229)"/>
<rect x="265.70" y="100.20" width="8.40" height="1.53" fill="rgb(160, 188, 226)"/>
<rect x="265.70" y="101.69" width="8.40" height="1.53" fill="rgb(182, 208, 231)"/>
<rect x="265.70" y="103.17" width="8.40" height="1.53" fill="rgb(188, 209, 232)"/>
<rect x="265.70" y="104.65" width="8.40" height="1.53" fill="rgb(157, 194, 221)"/>
<rect x="265.70" y="106.13" width="8.40" height="1.53" fill="rgb(190, 212, 237)"/>
<rect x="265.70" y="107.62" width="8.40" height="1.53" fill="rgb(123, 173, 210)"/>
<rect x="265.70" y="109.10" width="8.40" height="1.53" fill="rgb(182, 209, 232)"/>
<rect x="265.70" y="110.58" width="8.40" height="1.53" fill="rgb(188, 208, 237)"/>
<rect x="265.70" y="112.07" width="8.40" height="1.53" fill="rgb(186, 207, 230)"/>
<rect x="265.70" y="113.55" width="8.40" height="1.53" fill="rgb(156, 196, 224)"/>
<rect x="265.70" y="115.03" width="8.40" height="1.53" fill="rgb(182, 209, 235)"/>
<rect x="265.70" y="116.52" width="8.40" height="1.53" fill="rgb(154, 187, 219)"/>
<rect x="265.70" y="118.00" width="8.40" height="1.53" fill="rgb(157, 190, 224)"/>
<rect x="265.70" y="119.48" width="8.40" height="1.53" fill="rgb(152, 193, 222)"/>
<rect x="265.70" y="120.97" width="8.40" height="1.53" fill="rgb(156, 189, 219)"/>
<rect x="265.70" y="122.45" width="8.40" height="1.53" fill="rgb(155, 187, 219)"/>
<rect x="265.70" y="123.93" width="8.40" height="1.53" fill="rgb(152, 195, 222)"/>
<rect x="265.70" y="125.41" width="8.40" height="1.53" fill="rgb(157, 186, 219)"/>
<rect x="265.70" y="126.90" width="8.40" height="1.53" fill="rgb(186, 211, 231)"/>
<rect x="265.70" y="128.38" width="8.40" height="1.53" fill="rgb(186, 214, 236)"/>
<rect x="265.70" y="129.86" width="8.40" height="1.53" fill="rgb(188, 213, 232)"/>
<rect x="265.70" y="131.35" width="8.40" height="1.53" fill="rgb(158, 191, 226)"/>
<rect x="265.70" y="132.83" width="8.40" height="1.53" fill="rgb(181, 214, 234)"/>
<rect x="265.70" y="134.31" width="8.40" height="1.53" fill="rgb(161, 187, 223)"/>
<rect x="265.70" y="135.80" width="8.40" height="1.53" fill="rgb(161, 188, 224)"/>
<rect x="265.70" y="137.28" width="8.40" height="1.53" fill="rgb(159, 191, 226)"/>
<rect x="265.70" y="138.76" width="8.40" height="1.53" fill="rgb(245, 197, 151)"/>
<rect x="265.70" y="140.24" width="8.40" height="1.53" fill="rgb(201, 215, 220)"/>
<rect x="265.70" y="141.73" width="8.40" height="1.53" fill="rgb(241, 182, 122)"/>
<rect x="265.70" y="143.21" width="8.40" height="1.53" fill="rgb(169, 187, 212)"/>
<rect x="265.70" y="144.69" width="8.40" height="1.53" fill="rgb(237, 206, 158)"/>
<rect x="265.70" y="146.18" width="8.40" height="1.53" fill="rgb(239, 177, 128)"/>
<rect x="265.70" y="147.66" width="8.40" height="1.53" fill="rgb(238, 178, 126)"/>
<rect x="265.70" y="149.14" width="8.40" height="1.53" fill="rgb(242, 206, 158)"/>
<rect x="265.70" y="150.63" width="8.40" height="1.53" fill="rgb(172, 189, 210)"/>
<rect x="265.70" y="152.11" width="8.40" height="1.53" fill="rgb(240, 231, 199)"/>
<rect x="265.70" y="153.59" width="8.40" height="1.53" fill="rgb(136, 164, 198)"/>
<rect x="265.70" y="155.07" width="8.40" height="1.53" fill="rgb(242, 183, 121)"/>
<rect x="265.70" y="156.56" width="8.40" height="1.53" fill="rgb(237, 182, 130)"/>
<rect x="265.70" y="158.04" width="8.40" height="1.53" fill="rgb(235, 184, 131)"/>
<rect x="265.70" y="159.52" width="8.40" height="1.53" fill="rgb(197, 215, 225)"/>
<rect x="265.70" y="161.01" width="8.40" height="1.53" fill="rgb(236, 230, 203)"/>
<rect x="265.70" y="162.49" width="8.40" height="1.53" fill="rgb(242, 198, 159)"/>
<rect x="265.70" y="163.97" width="8.40" height="1.53" fill="rgb(237, 184, 131)"/>
<rect x="265.70" y="165.46" width="8.40" height="1.53" fill="rgb(172, 195, 216)"/>
<rect x="265.70" y="166.94" width="8.40" height="1.53" fill="rgb(234, 232, 204)"/>
<rect x="265.70" y="168.42" width="8.40" height="1.53" fill="rgb(164, 187, 215)"/>
<rect x="265.70" y="169.91" width="8.40" height="1.53" fill="rgb(242, 235, 200)"/>
<rect x="265.70" y="171.39" width="8.40" height="1.53" fill="rgb(199, 214, 221)"/>
<rect x="265.70" y="172.87" width="8.40" height="1.53" fill="rgb(193, 216, 224)"/>
<rect x="265.70" y="174.35" width="8.40" height="1.53" fill="rgb(197, 209, 221)"/>
<rect x="265.70" y="175.84" width="8.40" height="1.53" fill="rgb(198, 208, 217)"/>
<rect x="265.70" y="177.32" width="8.40" height="1.53" fill="rgb(238, 199, 151)"/>
<rect x="265.70" y="178.80" width="8.40" height="1.53" fill="rgb(243, 206, 156)"/>
<rect x="265.70" y="180.29" width="8.40" height="1.53" fill="rgb(243, 180, 128)"/>
<rect x="265.70" y="181.77" width="8.40" height="1.53" fill="rgb(240, 222, 172)"/>
<rect x="265.70" y="183.25" width="8.40" height="1.53" fill="rgb(193, 214, 226)"/>
<rect x="265.70" y="184.74" width="8.40" height="1.53" fill="rgb(198, 215, 227)"/>
<rect x="265.70" y="186.22" width="8.40" height="1.53" fill="rgb(202, 212, 217)"/>
<rect x="265.70" y="187.70" width="8.40" height="1.53" fill="rgb(243, 227, 177)"/>
<rect x="265.70" y="189.18" width="8.40" height="1.53" fill="rgb(236, 205, 155)"/>
<rect x="265.70" y="190.67" width="8.40" height="1.53" fill="rgb(139, 173, 205)"/>
<rect x="265.70" y="192.15" width="8.40" height="1.53" fill="rgb(138, 173, 201)"/>
<rect x="265.70" y="193.63" width="8.40" height="1.53" fill="rgb(238, 178, 131)"/>
<rect x="265.70" y="195.12" width="8.40" height="1.53" fill="rgb(239, 204, 150)"/>
<rect x="274.10" y="30.50" width="8.40" height="1.53" fill="rgb(244, 169, 112)"/>
<rect x="274.10" y="31.98" width="8.40" height="1.53" fill="rgb(248, 171, 116)"/>
<rect x="274.10" y="33.47" width="8.40" height="1.53" fill="rgb(246, 170, 107)"/>
<rect x="274.10" y="34.95" width="8.40" height="1.53" fill="rgb(249, 171, 111)"/>
<rect x="274.10" y="36.43" width="8.40" height="1.53" fill="rgb(239, 155, 90)"/>
<rect x="274.10" y="37.92" width="8.40" height="1.53" fill="rgb(243, 176, 114)"/>
<rect x="274.10" y="39.40" width="8.40" height="1.53" fill="rgb(242, 158, 97)"/>
<rect x="274.10" y="40.88" width="8.40" height="1.53" fill="rgb(242, 175, 115)"/>
<rect x="274.10" y="42.36" width="8.40" height="1.53" fill="rgb(250, 192, 140)"/>
<rect x="274.10" y="43.85" width="8.40" height="1.53" fill="rgb(242, 151, 99)"/>
<rect x="274.10" y="45.33" width="8.40" height="1.53" fill="rgb(239, 159, 93)"/>
<rect x="274.10" y="46.81" width="8.40" height="1.53" fill="rgb(247, 171, 109)"/>
<rect x="274.10" y="48.30" width="8.40" height="1.53" fill="rgb(246, 171, 113)"/>
<rect x="274.10" y="49.78" width="8.40" height="1.53" fill="rgb(252, 199, 144)"/>
<rect x="274.10" y="51.26" width="8.40" height="1.53" fill="rgb(248, 169, 112)"/>
<rect x="274.10" y="52.75" width="8.40" height="1.53" fill="rgb(241, 177, 108)"/>
<rect x="274.10" y="54.23" width="8.40" height="1.53" fill="rgb(242, 149, 97)"/>
<rect x="274.10" y="55.71" width="8.40" height="1.53" fill="rgb(249, 176, 111)"/>
<rect x="274.10" y="57.19" width="8.40" height="1.53" fill="rgb(241, 175, 107)"/>
<rect x="274.10" y="58.68" width="8.40" height="1.53" fill="rgb(246, 156, 90)"/>
<rect x="274.10" y="60.16" width="8.40" height="1.53" fill="rgb(243, 153, 97)"/>
<rect x="274.10" y="61.64" width="8.40" height="1.53" fill="rgb(240, 154, 92)"/>
<rect x="274.10" y="63.13" width="8.40" height="1.53" fill="rgb(249, 171, 114)"/>
<rect x="274.10" y="64.61" width="8.40" height="1.53" fill="rgb(242, 168, 116)"/>
<rect x="274.10" y="66.09" width="8.40" height="1.53" fill="rgb(246, 155, 90)"/>
<rect x="274.10" y="67.58" width="8.40" height="1.53" fill="rgb(241, 174, 113)"/>
<rect x="274.10" y="69.06" width="8.40" height="1.53" fill="rgb(245, 193, 137)"/>
<rect x="274.10" y="70.54" width="8.40" height="1.53" fill="rgb(241, 173, 111)"/>
<rect x="274.10" y="72.03" width="8.40" height="1.53" fill="rgb(250, 171, 115)"/>
<rect x="274.10" y="73.51" width="8.40" height="1.53" fill="rgb(237, 150, 95)"/>
<rect x="274.10" y="74.99" width="8.40" height="1.53" fill="rgb(242, 198, 137)"/>
<rect x="274.10" y="76.47" width="8.40" height="1.53" fill="rgb(245, 157, 92)"/>
<rect x="274.10" y="77.96" width="8.40" height="1.53" fill="rgb(250, 177, 116)"/>
<rect x="274.10" y="79.44" width="8.40" height="1.53" fill="rgb(237, 153, 98)"/>
<rect x="274.10" y="80.92" width="8.40" height="1.53" fill="rgb(243, 168, 115)"/>
<rect x="274.10" y="82.41" width="8.40" height="1.53" fill="rgb(153, 190, 220)"/>
<rect x="274.10" y="83.89" width="8.40" height="1.53" fill="rgb(158, 193, 219)"/>
<rect x="274.10" y="85.37" width="8.40" height="1.53" fill="rgb(152, 191, 226)"/>
<rect x="274.10" y="86.86" width="8.40" height="1.53" fill="rgb(160, 189, 222)"/>
<rect x="274.10" y="88.34" width="8.40" height="1.53" fill="rgb(181, 212, 233)"/>
<rect x="274.10" y="89.82" width="8.40" height="1.53" fill="rgb(190, 213, 230)"/>
<rect x="274.10" y="91.30" width="8.40" height="1.53" fill="rgb(157, 189, 224)"/>
<rect x="274.10" y="92.79" width="8.40" height="1.53" fill="rgb(159, 190, 219)"/>
<rect x="274.10" y="94.27" width="8.40" height="1.53" fill="rgb(161, 195, 227)"/>
<rect x="274.10" y="95.75" width="8.40" height="1.53" fill="rgb(162, 188, 226)"/>
<rect x="274.10" y="97.24" width="8.40" height="1.53" fill="rgb(124, 164, 209)"/>
<rect x="274.10" y="98.72" width="8.40" height="1.53" fill="rgb(160, 192, 223)"/>
<rect x="274.10" y="100.20" width="8.40" height="1.53" fill="rgb(158, 188, 220)"/>
<rect x="274.10" y="101.69" width="8.40" height="1.53" fill="rgb(158, 194, 227)"/>
<rect x="274.10" y="103.17" width="8.40" height="1.53" fill="rgb(155, 188, 223)"/>
<rect x="274.10" y="104.65" width="8.40" height="1.53" fill="rgb(161, 193, 226)"/>
<rect x="274.10" y="106.13" width="8.40" height="1.53" fill="rgb(161, 195, 227)"/>
<rect x="274.10" y="107.62" width="8.40" height="1.53" fill="rgb(183, 210, 228)"/>
<rect x="274.10" y="109.10" width="8.40" height="1.53" fill="rgb(186, 216, 231)"/>
<rect x="274.10" y="110.58" width="8.40" height="1.53" fill="rgb(161, 196, 226)"/>
<rect x="274.10" y="112.07" width="8.40" height="1.53" fill="rgb(190, 209, 234)"/>
<rect x="274.10" y="113.55" width="8.40" height="1.53" fill="rgb(159, 196, 223)"/>
<rect x="274.10" y="115.03" width="8.40" height="1.53" fill="rgb(158, 187, 223)"/>
<rect x="274.10" y="116.52" width="8.40" height="1.53" fill="rgb(156, 194, 226)"/>
<rect x="274.10" y="118.00" width="8.40" height="1.53" fill="rgb(185, 211, 228)"/>
<rect x="274.10" y="119.48" width="8.40" height="1.53" fill="rgb(186, 211, 229)"/>
<rect x="274.10" y="120.97" width="8.40" height="1.53" fill="rgb(153, 187, 219)"/>
<rect x="274.10" y="122.45" width="8.40" height="1.53" fill="rgb(153, 194, 224)"/>
<rect x="274.10" y="123.93" width="8.40" height="1.53" fill="rgb(186, 208, 230)"/>
<rect x="274.10" y="125.41" width="8.40" height="1.53" fill="rgb(187, 213, 234)"/>
<rect x="274.10" y="126.90" width="8.40" height="1.53" fill="rgb(154, 190, 227)"/>
<rect x="274.10" y="128.38" width="8.40" height="1.53" fill="rgb(127, 166, 209)"/>
<rect x="274.10" y="129.86" width="8.40" height="1.53" fill="rgb(156, 195, 220)"/>
<rect x="274.10" y="131.35" width="8.40" height="1.53" fill="rgb(152, 186, 226)"/>
<rect x="274.10" y="132.83" width="8.40" height="1.53" fill="rgb(182, 207, 233)"/>
<rect x="274.10" y="134.31" width="8.40" height="1.53" fill="rgb(158, 195, 226)"/>
<rect x="274.10" y="135.80" width="8.40" height="1.53" fill="rgb(158, 189, 226)"/>
<rect x="274.10" y="137.28" width="8.40" height="1.53" fill="rgb(161, 193, 227)"/>
<rect x="274.10" y="138.76" width="8.40" height="1.53" fill="rgb(245, 203, 152)"/>
<rect x="274.10" y="140.24" width="8.40" height="1.53" fill="rgb(195, 208, 217)"/>
<rect x="274.10" y="141.73" width="8.40" height="1.53" fill="rgb(239, 220, 179)"/>
<rect x="274.10" y="143.21" width="8.40" height="1.53" fill="rgb(242, 177, 125)"/>
<rect x="274.10" y="144.69" width="8.40" height="1.53" fill="rgb(172, 195, 217)"/>
<rect x="274.10" y="146.18" width="8.40" height="1.53" fill="rgb(246, 225, 177)"/>
<rect x="274.10" y="147.66" width="8.40" height="1.53" fill="rgb(240, 203, 152)"/>
<rect x="274.10" y="149.14" width="8.40" height="1.53" fill="rgb(201, 214, 219)"/>
<rect x="274.10" y="150.63" width="8.40" height="1.53" fill="rgb(238, 179, 129)"/>
<rect x="274.10" y="152.11" width="8.40" height="1.53" fill="rgb(239, 231, 201)"/>
<rect x="274.10" y="153.59" width="8.40" height="1.53" fill="rgb(198, 213, 219)"/>
<rect x="274.10" y="155.07" width="8.40" height="1.53" fill="rgb(239, 183, 130)"/>
<rect x="274.10" y="156.56" width="8.40" height="1.53" fill="rgb(242, 202, 154)"/>
<rect x="274.10" y="158.04" width="8.40" height="1.53" fill="rgb(242, 175, 123)"/>
<rect x="274.10" y="159.52" width="8.40" height="1.53" fill="rgb(236, 176, 122)"/>
<rect x="274.10" y="161.01" width="8.40" height="1.53" fill="rgb(235, 231, 202)"/>
<rect x="274.10" y="162.49" width="8.40" height="1.53" fill="rgb(197, 213, 220)"/>
<rect x="274.10" y="163.97" width="8.40" height="1.53" fill="rgb(240, 227, 203)"/>
<rect x="274.10" y="165.46" width="8.40" height="1.53" fill="rgb(246, 225, 176)"/>
<rect x="274.10" y="166.94" width="8.40" height="1.53" fill="rgb(195, 211, 221)"/>
<rect x="274.10" y="168.42" width="8.40" height="1.53" fill="rgb(199, 209, 226)"/>
<rect x="274.10" y="169.91" width="8.40" height="1.53" fill="rgb(138, 174, 204)"/>
<rect x="274.10" y="171.39" width="8.40" height="1.53" fill="rgb(237, 197, 155)"/>
<rect x="274.10" y="172.87" width="8.40" height="1.53" fill="rgb(198, 215, 221)"/>
<rect x="274.10" y="174.35" width="8.40" height="1.53" fill="rgb(198, 213, 222)"/>
<rect x="274.10" y="175.84" width="8.40" height="1.53" fill="rgb(198, 208, 224)"/>
<rect x="274.10" y="177.32" width="8.40" height="1.53" fill="rgb(196, 217, 222)"/>
<rect x="274.10" y="178.80" width="8.40" height="1.53" fill="rgb(239, 178, 123)"/>
<rect x="274.10" y="180.29" width="8.40" height="1.53" fill="rgb(165, 194, 209)"/>
<rect x="274.10" y="181.77" width="8.40" height="1.53" fill="rgb(244, 226, 204)"/>
<rect x="274.10" y="183.25" width="8.40" height="1.53" fill="rgb(244, 183, 125)"/>
<rect x="274.10" y="184.74" width="8.40" height="1.53" fill="rgb(197, 209, 221)"/>
<rect x="274.10" y="186.22" width="8.40" height="1.53" fill="rgb(242, 226, 201)"/>
<rect x="274.10" y="187.70" width="8.40" height="1.53" fill="rgb(239, 233, 202)"/>
<rect x="274.10" y="189.18" width="8.40" height="1.53" fill="rgb(245, 203, 152)"/>
<rect x="274.10" y="190.67" width="8.40" height="1.53" fill="rgb(242, 225, 202)"/>
<rect x="274.10" y="192.15" width="8.40" height="1.53" fill="rgb(236, 227, 198)"/>
<rect x="274.10" y="193.63" width="8.40" height="1.53" fill="rgb(240, 203, 152)"/>
<rect x="274.10" y="195.12" width="8.40" height="1.53" fill="rgb(197, 215, 225)"/>
<rect x="282.50" y="30.50" width="8.50" height="1.53" fill="rgb(252, 204, 148)"/>
<rect x="282.50" y="31.98" width="8.50" height="1.53" fill="rgb(249, 203, 152)"/>
<rect x="282.50" y="33.47" width="8.50" height="1.53" fill="rgb(251, 201, 154)"/>
<rect x="282.50" y="34.95" width="8.50" height="1.53" fill="rgb(246, 204, 150)"/>
<rect x="282.50" y="36.43" width="8.50" height="1.53" fill="rgb(245, 236, 199)"/>
<rect x="282.50" y="37.92" width="8.50" height="1.53" fill="rgb(252, 199, 145)"/>
<rect x="282.50" y="39.40" width="8.50" height="1.53" fill="rgb(243, 176, 119)"/>
<rect x="282.50" y="40.88" width="8.50" height="1.53" fill="rgb(251, 199, 147)"/>
<rect x="282.50" y="42.36" width="8.50" height="1.53" fill="rgb(243, 202, 150)"/>
<rect x="282.50" y="43.85" width="8.50" height="1.53" fill="rgb(247, 185, 123)"/>
<rect x="282.50" y="45.33" width="8.50" height="1.53" fill="rgb(247, 178, 121)"/>
<rect x="282.50" y="46.81" width="8.50" height="1.53" fill="rgb(243, 208, 150)"/>
<rect x="282.50" y="48.30" width="8.50" height="1.53" fill="rgb(247, 207, 148)"/>
<rect x="282.50" y="49.78" width="8.50" height="1.53" fill="rgb(241, 229, 194)"/>
<rect x="282.50" y="51.26" width="8.50" height="1.53" fill="rgb(247, 229, 199)"/>
<rect x="282.50" y="52.75" width="8.50" height="1.53" fill="rgb(247, 237, 195)"/>
<rect x="282.50" y="54.23" width="8.50" height="1.53" fill="rgb(245, 181, 119)"/>
<rect x="282.50" y="55.71" width="8.50" height="1.53" fill="rgb(249, 200, 145)"/>
<rect x="282.50" y="57.19" width="8.50" height="1.53" fill="rgb(248, 201, 148)"/>
<rect x="282.50" y="58.68" width="8.50" height="1.53" fill="rgb(244, 228, 198)"/>
<rect x="282.50" y="60.16" width="8.50" height="1.53" fill="rgb(247, 180, 122)"/>
<rect x="282.50" y="61.64" width="8.50" height="1.53" fill="rgb(248, 235, 194)"/>
<rect x="282.50" y="63.13" width="8.50" height="1.53" fill="rgb(241, 228, 197)"/>
<rect x="282.50" y="64.61" width="8.50" height="1.53" fill="rgb(248, 201, 154)"/>
<rect x="282.50" y="66.09" width="8.50" height="1.53" fill="rgb(250, 208, 149)"/>
<rect x="282.50" y="67.58" width="8.50" height="1.53" fill="rgb(245, 231, 193)"/>
<rect x="282.50" y="69.06" width="8.50" height="1.53" fill="rgb(249, 234, 195)"/>
<rect x="282.50" y="70.54" width="8.50" height="1.53" fill="rgb(243, 231, 199)"/>
<rect x="282.50" y="72.03" width="8.50" height="1.53" fill="rgb(247, 204, 146)"/>
<rect x="282.50" y="73.51" width="8.50" height="1.53" fill="rgb(242, 231, 194)"/>
<rect x="282.50" y="74.99" width="8.50" height="1.53" fill="rgb(244, 234, 196)"/>
<rect x="282.50" y="76.47" width="8.50" height="1.53" fill="rgb(245, 228, 197)"/>
<rect x="282.50" y="77.96" width="8.50" height="1.53" fill="rgb(245, 208, 150)"/>
<rect x="282.50" y="79.44" width="8.50" height="1.53" fill="rgb(241, 233, 193)"/>
<rect x="282.50" y="80.92" width="8.50" height="1.53" fill="rgb(243, 199, 154)"/>
<rect x="282.50" y="82.41" width="8.50" height="1.53" fill="rgb(237, 232, 216)"/>
<rect x="282.50" y="83.89" width="8.50" height="1.53" fill="rgb(213, 234, 234)"/>
<rect x="282.50" y="85.37" width="8.50" height="1.53" fill="rgb(220, 234, 236)"/>
<rect x="282.50" y="86.86" width="8.50" height="1.53" fill="rgb(220, 232, 239)"/>
<rect x="282.50" y="88.34" width="8.50" height="1.53" fill="rgb(213, 228, 239)"/>
<rect x="282.50" y="89.82" width="8.50" height="1.53" fill="rgb(217, 232, 239)"/>
<rect x="282.50" y="91.30" width="8.50" height="1.53" fill="rgb(217, 235, 239)"/>
<rect x="282.50" y="92.79" width="8.50" height="1.53" fill="rgb(243, 240, 216)"/>
<rect x="282.50" y="94.27" width="8.50" height="1.53" fill="rgb(198, 216, 230)"/>
<rect x="282.50" y="95.75" width="8.50" height="1.53" fill="rgb(215, 232, 239)"/>
<rect x="282.50" y="97.24" width="8.50" height="1.53" fill="rgb(217, 229, 236)"/>
<rect x="282.50" y="98.72" width="8.50" height="1.53" fill="rgb(201, 217, 232)"/>
<rect x="282.50" y="100.20" width="8.50" height="1.53" fill="rgb(217, 232, 241)"/>
<rect x="282.50" y="101.69" width="8.50" height="1.53" fill="rgb(200, 221, 239)"/>
<rect x="282.50" y="103.17" width="8.50" height="1.53" fill="rgb(217, 233, 236)"/>
<rect x="282.50" y="104.65" width="8.50" height="1.53" fill="rgb(196, 219, 235)"/>
<rect x="282.50" y="106.13" width="8.50" height="1.53" fill="rgb(213, 229, 238)"/>
<rect x="282.50" y="107.62" width="8.50" height="1.53" fill="rgb(235, 241, 218)"/>
<rect x="282.50" y="109.10" width="8.50" height="1.53" fill="rgb(195, 214, 238)"/>
<rect x="282.50" y="110.58" width="8.50" height="1.53" fill="rgb(215, 236, 240)"/>
<rect x="282.50" y="112.07" width="8.50" height="1.53" fill="rgb(200, 215, 234)"/>
<rect x="282.50" y="113.55" width="8.50" height="1.53" fill="rgb(216, 231, 241)"/>
<rect x="282.50" y="115.03" width="8.50" height="1.53" fill="rgb(219, 228, 236)"/>
<rect x="282.50" y="116.52" width="8.50" height="1.53" fill="rgb(218, 232, 240)"/>
<rect x="282.50" y="118.00" width="8.50" height="1.53" fill="rgb(222, 233, 239)"/>
<rect x="282.50" y="119.48" width="8.50" height="1.53" fill="rgb(235, 235, 214)"/>
<rect x="282.50" y="120.97" width="8.50" height="1.53" fill="rgb(222, 233, 234)"/>
<rect x="282.50" y="122.45" width="8.50" height="1.53" fill="rgb(238, 234, 216)"/>
<rect x="282.50" y="123.93" width="8.50" height="1.53" fill="rgb(221, 232, 236)"/>
<rect x="282.50" y="125.41" width="8.50" height="1.53" fill="rgb(217, 230, 239)"/>
<rect x="282.50" y="126.90" width="8.50" height="1.53" fill="rgb(215, 227, 234)"/>
<rect x="282.50" y="128.38" width="8.50" height="1.53" fill="rgb(220, 230, 242)"/>
<rect x="282.50" y="129.86" width="8.50" height="1.53" fill="rgb(219, 229, 242)"/>
<rect x="282.50" y="131.35" width="8.50" height="1.53" fill="rgb(221, 229, 243)"/>
<rect x="282.50" y="132.83" width="8.50" height="1.53" fill="rgb(194, 221, 231)"/>
<rect x="282.50" y="134.31" width="8.50" height="1.53" fill="rgb(216, 229, 237)"/>
<rect x="282.50" y="135.80" width="8.50" height="1.53" fill="rgb(216, 227, 241)"/>
<rect x="282.50" y="137.28" width="8.50" height="1.53" fill="rgb(220, 230, 243)"/>
<rect x="282.50" y="138.76" width="8.50" height="1.53" fill="rgb(170, 195, 217)"/>
<rect x="282.50" y="140.24" width="8.50" height="1.53" fill="rgb(167, 193, 208)"/>
<rect x="282.50" y="141.73" width="8.50" height="1.53" fill="rgb(239, 203, 149)"/>
<rect x="282.50" y="143.21" width="8.50" height="1.53" fill="rgb(193, 211, 222)"/>
<rect x="282.50" y="144.69" width="8.50" height="1.53" fill="rgb(170, 188, 214)"/>
<rect x="282.50" y="146.18" width="8.50" height="1.53" fill="rgb(240, 178, 131)"/>
<rect x="282.50" y="147.66" width="8.50" height="1.53" fill="rgb(236, 228, 205)"/>
<rect x="282.50" y="149.14" width="8.50" height="1.53" fill="rgb(238, 202, 156)"/>
<rect x="282.50" y="150.63" width="8.50" height="1.53" fill="rgb(164, 190, 215)"/>
<rect x="282.50" y="152.11" width="8.50" height="1.53" fill="rgb(240, 232, 197)"/>
<rect x="282.50" y="153.59" width="8.50" height="1.53" fill="rgb(236, 177, 123)"/>
<rect x="282.50" y="155.07" width="8.50" height="1.53" fill="rgb(237, 197, 154)"/>
<rect x="282.50" y="156.56" width="8.50" height="1.53" fill="rgb(194, 208, 224)"/>
<rect x="282.50" y="158.04" width="8.50" height="1.53" fill="rgb(236, 179, 124)"/>
<rect x="282.50" y="159.52" width="8.50" height="1.53" fill="rgb(197, 212, 221)"/>
<rect x="282.50" y="161.01" width="8.50" height="1.53" fill="rgb(243, 178, 129)"/>
<rect x="282.50" y="162.49" width="8.50" height="1.53" fill="rgb(239, 180, 123)"/>
<rect x="282.50" y="163.97" width="8.50" height="1.53" fill="rgb(244, 184, 131)"/>
<rect x="282.50" y="165.46" width="8.50" height="1.53" fill="rgb(241, 231, 201)"/>
<rect x="282.50" y="166.94" width="8.50" height="1.53" fill="rgb(241, 179, 128)"/>
<rect x="282.50" y="168.42" width="8.50" height="1.53" fill="rgb(237, 175, 129)"/>
<rect x="282.50" y="169.91" width="8.50" height="1.53" fill="rgb(236, 233, 201)"/>
<rect x="282.50" y="171.39" width="8.50" height="1.53" fill="rgb(240, 197, 150)"/>
<rect x="282.50" y="172.87" width="8.50" height="1.53" fill="rgb(244, 183, 126)"/>
<rect x="282.50" y="174.35" width="8.50" height="1.53" fill="rgb(169, 194, 209)"/>
<rect x="282.50" y="175.84" width="8.50" height="1.53" fill="rgb(242, 201, 156)"/>
<rect x="282.50" y="177.32" width="8.50" height="1.53" fill="rgb(242, 199, 154)"/>
<rect x="282.50" y="178.80" width="8.50" height="1.53" fill="rgb(241, 197, 152)"/>
<rect x="282.50" y="180.29" width="8.50" height="1.53" fill="rgb(194, 212, 227)"/>
<rect x="282.50" y="181.77" width="8.50" height="1.53" fill="rgb(244, 226, 181)"/>
<rect x="282.50" y="183.25" width="8.50" height="1.53" fill="rgb(240, 204, 149)"/>
<rect x="282.50" y="184.74" width="8.50" height="1.53" fill="rgb(236, 231, 203)"/>
<rect x="282.50" y="186.22" width="8.50" height="1.53" fill="rgb(168, 194, 208)"/>
<rect x="282.50" y="187.70" width="8.50" height="1.53" fill="rgb(202, 213, 222)"/>
<rect x="282.50" y="189.18" width="8.50" height="1.53" fill="rgb(238, 227, 198)"/>
<rect x="282.50" y="190.67" width="8.50" height="1.53" fill="rgb(197, 207, 223)"/>
<rect x="282.50" y="192.15" width="8.50" height="1.53" fill="rgb(170, 189, 217)"/>
<rect x="282.50" y="193.63" width="8.50" height="1.53" fill="rgb(239, 179, 123)"/>
<rect x="282.50" y="195.12" width="8.50" height="1.53" fill="rgb(236, 176, 121)"/>
<rect x="292.20" y="30.50" width="8.20" height="1.53" fill="rgb(249, 196, 147)"/>
<rect x="292.20" y="31.98" width="8.20" height="1.53" fill="rgb(245, 180, 116)"/>
<rect x="292.20" y="33.47" width="8.20" height="1.53" fill="rgb(248, 178, 113)"/>
<rect x="292.20" y="34.95" width="8.20" height="1.53" fill="rgb(248, 178, 116)"/>
<rect x="292.20" y="36.43" width="8.20" height="1.53" fill="rgb(248, 173, 118)"/>
<rect x="292.20" y="37.92" width="8.20" height="1.53" fill="rgb(248, 194, 141)"/>
<rect x="292.20" y="39.40" width="8.20" height="1.53" fill="rgb(243, 194, 142)"/>
<rect x="292.20" y="40.88" width="8.20" height="1.53" fill="rgb(246, 224, 185)"/>
<rect x="292.20" y="42.36" width="8.20" height="1.53" fill="rgb(248, 228, 187)"/>
<rect x="292.20" y="43.85" width="8.20" height="1.53" fill="rgb(240, 228, 181)"/>
<rect x="292.20" y="45.33" width="8.20" height="1.53" fill="rgb(240, 206, 164)"/>
<rect x="292.20" y="46.81" width="8.20" height="1.53" fill="rgb(243, 227, 187)"/>
<rect x="292.20" y="48.30" width="8.20" height="1.53" fill="rgb(249, 210, 157)"/>
<rect x="292.20" y="49.78" width="8.20" height="1.53" fill="rgb(223, 235, 236)"/>
<rect x="292.20" y="51.26" width="8.20" height="1.53" fill="rgb(226, 231, 233)"/>
<rect x="292.20" y="52.75" width="8.20" height="1.53" fill="rgb(224, 233, 238)"/>
<rect x="292.20" y="54.23" width="8.20" height="1.53" fill="rgb(246, 241, 207)"/>
<rect x="292.20" y="55.71" width="8.20" height="1.53" fill="rgb(243, 238, 213)"/>
<rect x="292.20" y="57.19" width="8.20" height="1.53" fill="rgb(223, 234, 230)"/>
<rect x="292.20" y="58.68" width="8.20" height="1.53" fill="rgb(221, 229, 231)"/>
<rect x="292.20" y="60.16" width="8.20" height="1.53" fill="rgb(245, 238, 206)"/>
<rect x="292.20" y="61.64" width="8.20" height="1.53" fill="rgb(245, 240, 212)"/>
<rect x="292.20" y="63.13" width="8.20" height="1.53" fill="rgb(241, 229, 183)"/>
<rect x="292.20" y="64.61" width="8.20" height="1.53" fill="rgb(245, 234, 203)"/>
<rect x="292.20" y="66.09" width="8.20" height="1.53" fill="rgb(238, 232, 209)"/>
<rect x="292.20" y="67.58" width="8.20" height="1.53" fill="rgb(222, 227, 234)"/>
<rect x="292.20" y="69.06" width="8.20" height="1.53" fill="rgb(219, 229, 230)"/>
<rect x="292.20" y="70.54" width="8.20" height="1.53" fill="rgb(241, 238, 210)"/>
<rect x="292.20" y="72.03" width="8.20" height="1.53" fill="rgb(243, 235, 211)"/>
<rect x="292.20" y="73.51" width="8.20" height="1.53" fill="rgb(243, 239, 211)"/>
<rect x="292.20" y="74.99" width="8.20" height="1.53" fill="rgb(225, 237, 236)"/>
<rect x="292.20" y="76.47" width="8.20" height="1.53" fill="rgb(240, 238, 205)"/>
<rect x="292.20" y="77.96" width="8.20" height="1.53" fill="rgb(241, 177, 114)"/>
<rect x="292.20" y="79.44" width="8.20" height="1.53" fill="rgb(245, 157, 96)"/>
<rect x="292.20" y="80.92" width="8.20" height="1.53" fill="rgb(241, 172, 118)"/>
<rect x="292.20" y="82.41" width="8.20" height="1.53" fill="rgb(241, 181, 114)"/>
<rect x="292.20" y="83.89" width="8.20" height="1.53" fill="rgb(245, 236, 179)"/>
<rect x="292.20" y="85.37" width="8.20" height="1.53" fill="rgb(244, 232, 212)"/>
<rect x="292.20" y="86.86" width="8.20" height="1.53" fill="rgb(244, 233, 204)"/>
<rect x="292.20" y="88.34" width="8.20" height="1.53" fill="rgb(245, 242, 212)"/>
<rect x="292.20" y="89.82" width="8.20" height="1.53" fill="rgb(217, 234, 233)"/>
<rect x="292.20" y="91.30" width="8.20" height="1.53" fill="rgb(247, 232, 180)"/>
<rect x="292.20" y="92.79" width="8.20" height="1.53" fill="rgb(238, 236, 206)"/>
<rect x="292.20" y="94.27" width="8.20" height="1.53" fill="rgb(240, 212, 158)"/>
<rect x="292.20" y="95.75" width="8.20" height="1.53" fill="rgb(246, 234, 209)"/>
<rect x="292.20" y="97.24" width="8.20" height="1.53" fill="rgb(220, 230, 230)"/>
<rect x="292.20" y="98.72" width="8.20" height="1.53" fill="rgb(220, 233, 236)"/>
<rect x="292.20" y="100.20" width="8.20" height="1.53" fill="rgb(245, 174, 119)"/>
<rect x="292.20" y="101.69" width="8.20" height="1.53" fill="rgb(244, 198, 138)"/>
<rect x="292.20" y="103.17" width="8.20" height="1.53" fill="rgb(241, 172, 115)"/>
<rect x="292.20" y="104.65" width="8.20" height="1.53" fill="rgb(243, 177, 113)"/>
<rect x="292.20" y="106.13" width="8.20" height="1.53" fill="rgb(243, 202, 142)"/>
<rect x="292.20" y="107.62" width="8.20" height="1.53" fill="rgb(243, 177, 111)"/>
<rect x="292.20" y="109.10" width="8.20" height="1.53" fill="rgb(239, 156, 93)"/>
<rect x="292.20" y="110.58" width="8.20" height="1.53" fill="rgb(250, 173, 111)"/>
<rect x="292.20" y="112.07" width="8.20" height="1.53" fill="rgb(247, 172, 112)"/>
<rect x="292.20" y="113.55" width="8.20" height="1.53" fill="rgb(244, 194, 145)"/>
<rect x="292.20" y="115.03" width="8.20" height="1.53" fill="rgb(248, 230, 187)"/>
<rect x="292.20" y="116.52" width="8.20" height="1.53" fill="rgb(246, 177, 116)"/>
<rect x="292.20" y="118.00" width="8.20" height="1.53" fill="rgb(244, 196, 139)"/>
<rect x="292.20" y="119.48" width="8.20" height="1.53" fill="rgb(246, 172, 118)"/>
<rect x="292.20" y="120.97" width="8.20" height="1.53" fill="rgb(238, 162, 99)"/>
<rect x="292.20" y="122.45" width="8.20" height="1.53" fill="rgb(241, 236, 206)"/>
<rect x="292.20" y="123.93" width="8.20" height="1.53" fill="rgb(240, 232, 208)"/>
<rect x="292.20" y="125.41" width="8.20" height="1.53" fill="rgb(240, 241, 212)"/>
<rect x="292.20" y="126.90" width="8.20" height="1.53" fill="rgb(245, 236, 211)"/>
<rect x="292.20" y="128.38" width="8.20" height="1.53" fill="rgb(244, 233, 182)"/>
<rect x="292.20" y="129.86" width="8.20" height="1.53" fill="rgb(241, 233, 210)"/>
<rect x="292.20" y="131.35" width="8.20" height="1.53" fill="rgb(245, 179, 116)"/>
<rect x="292.20" y="132.83" width="8.20" height="1.53" fill="rgb(244, 159, 100)"/>
<rect x="292.20" y="134.31" width="8.20" height="1.53" fill="rgb(251, 199, 144)"/>
<rect x="292.20" y="135.80" width="8.20" height="1.53" fill="rgb(246, 180, 113)"/>
<rect x="292.20" y="137.28" width="8.20" height="1.53" fill="rgb(246, 174, 117)"/>
<rect x="292.20" y="138.76" width="8.20" height="1.53" fill="rgb(242, 195, 144)"/>
<rect x="292.20" y="140.24" width="8.20" height="1.53" fill="rgb(247, 175, 111)"/>
<rect x="292.20" y="141.73" width="8.20" height="1.53" fill="rgb(202, 208, 223)"/>
<rect x="292.20" y="143.21" width="8.20" height="1.53" fill="rgb(243, 224, 176)"/>
<rect x="292.20" y="144.69" width="8.20" height="1.53" fill="rgb(142, 169, 206)"/>
<rect x="292.20" y="146.18" width="8.20" height="1.53" fill="rgb(200, 217, 218)"/>
<rect x="292.20" y="147.66" width="8.20" height="1.53" fill="rgb(237, 183, 130)"/>
<rect x="292.20" y="149.14" width="8.20" height="1.53" fill="rgb(239, 183, 128)"/>
<rect x="292.20" y="150.63" width="8.20" height="1.53" fill="rgb(246, 228, 172)"/>
<rect x="292.20" y="152.11" width="8.20" height="1.53" fill="rgb(131, 170, 210)"/>
<rect x="292.20" y="153.59" width="8.20" height="1.53" fill="rgb(231, 234, 209)"/>
<rect x="292.20" y="155.07" width="8.20" height="1.53" fill="rgb(129, 171, 210)"/>
<rect x="292.20" y="156.56" width="8.20" height="1.53" fill="rgb(135, 167, 204)"/>
<rect x="292.20" y="158.04" width="8.20" height="1.53" fill="rgb(233, 203, 158)"/>
<rect x="292.20" y="159.52" width="8.20" height="1.53" fill="rgb(232, 204, 163)"/>
<rect x="292.20" y="161.01" width="8.20" height="1.53" fill="rgb(236, 207, 158)"/>
<rect x="292.20" y="162.49" width="8.20" height="1.53" fill="rgb(195, 207, 231)"/>
<rect x="292.20" y="163.97" width="8.20" height="1.53" fill="rgb(166, 190, 218)"/>
<rect x="292.20" y="165.46" width="8.20" height="1.53" fill="rgb(128, 165, 209)"/>
<rect x="292.20" y="166.94" width="8.20" height="1.53" fill="rgb(129, 166, 207)"/>
<rect x="292.20" y="168.42" width="8.20" height="1.53" fill="rgb(164, 194, 214)"/>
<rect x="292.20" y="169.91" width="8.20" height="1.53" fill="rgb(240, 182, 122)"/>
<rect x="292.20" y="171.39" width="8.20" height="1.53" fill="rgb(237, 178, 124)"/>
<rect x="292.20" y="172.87" width="8.20" height="1.53" fill="rgb(235, 181, 131)"/>
<rect x="292.20" y="174.35" width="8.20" height="1.53" fill="rgb(201, 208, 223)"/>
<rect x="292.20" y="175.84" width="8.20" height="1.53" fill="rgb(244, 203, 155)"/>
<rect x="292.20" y="177.32" width="8.20" height="1.53" fill="rgb(173, 188, 212)"/>
<rect x="292.20" y="178.80" width="8.20" height="1.53" fill="rgb(240, 177, 128)"/>
<rect x="292.20" y="180.29" width="8.20" height="1.53" fill="rgb(236, 206, 150)"/>
<rect x="292.20" y="181.77" width="8.20" height="1.53" fill="rgb(240, 175, 129)"/>
<rect x="292.20" y="183.25" width="8.20" height="1.53" fill="rgb(193, 213, 218)"/>
<rect x="292.20" y="184.74" width="8.20" height="1.53" fill="rgb(234, 228, 200)"/>
<rect x="292.20" y="186.22" width="8.20" height="1.53" fill="rgb(240, 234, 199)"/>
<rect x="292.20" y="187.70" width="8.20" height="1.53" fill="rgb(238, 204, 153)"/>
<rect x="292.20" y="189.18" width="8.20" height="1.53" fill="rgb(236, 179, 129)"/>
<rect x="292.20" y="190.67" width="8.20" height="1.53" fill="rgb(244, 202, 155)"/>
<rect x="292.20" y="192.15" width="8.20" height="1.53" fill="rgb(238, 182, 122)"/>
<rect x="292.20" y="193.63" width="8.20" height="1.53" fill="rgb(236, 228, 199)"/>
<rect x="292.20" y="195.12" width="8.20" height="1.53" fill="rgb(240, 175, 123)"/>
<rect x="300.40" y="30.50" width="8.20" height="1.53" fill="rgb(242, 179, 117)"/>
<rect x="300.40" y="31.98" width="8.20" height="1.53" fill="rgb(241, 223, 188)"/>
<rect x="300.40" y="33.47" width="8.20" height="1.53" fill="rgb(249, 179, 118)"/>
<rect x="300.40" y="34.95" width="8.20" height="1.53" fill="rgb(241, 174, 114)"/>
<rect x="300.40" y="36.43" width="8.20" height="1.53" fill="rgb(244, 172, 118)"/>
<rect x="300.40" y="37.92" width="8.20" height="1.53" fill="rgb(244, 173, 118)"/>
<rect x="300.40" y="39.40" width="8.20" height="1.53" fill="rgb(245, 173, 112)"/>
<rect x="300.40" y="40.88" width="8.20" height="1.53" fill="rgb(244, 159, 96)"/>
<rect x="300.40" y="42.36" width="8.20" height="1.53" fill="rgb(246, 158, 95)"/>
<rect x="300.40" y="43.85" width="8.20" height="1.53" fill="rgb(246, 176, 118)"/>
<rect x="300.40" y="45.33" width="8.20" height="1.53" fill="rgb(245, 154, 102)"/>
<rect x="300.40" y="46.81" width="8.20" height="1.53" fill="rgb(242, 195, 147)"/>
<rect x="300.40" y="48.30" width="8.20" height="1.53" fill="rgb(249, 200, 138)"/>
<rect x="300.40" y="49.78" width="8.20" height="1.53" fill="rgb(240, 160, 98)"/>
<rect x="300.40" y="51.26" width="8.20" height="1.53" fill="rgb(193, 220, 237)"/>
<rect x="300.40" y="52.75" width="8.20" height="1.53" fill="rgb(196, 213, 233)"/>
<rect x="300.40" y="54.23" width="8.20" height="1.53" fill="rgb(188, 215, 229)"/>
<rect x="300.40" y="55.71" width="8.20" height="1.53" fill="rgb(237, 234, 209)"/>
<rect x="300.40" y="57.19" width="8.20" height="1.53" fill="rgb(195, 214, 230)"/>
<rect x="300.40" y="58.68" width="8.20" height="1.53" fill="rgb(193, 212, 233)"/>
<rect x="300.40" y="60.16" width="8.20" height="1.53" fill="rgb(195, 215, 239)"/>
<rect x="300.40" y="61.64" width="8.20" height="1.53" fill="rgb(195, 212, 238)"/>
<rect x="300.40" y="63.13" width="8.20" height="1.53" fill="rgb(189, 219, 238)"/>
<rect x="300.40" y="64.61" width="8.20" height="1.53" fill="rgb(196, 220, 233)"/>
<rect x="300.40" y="66.09" width="8.20" height="1.53" fill="rgb(215, 229, 237)"/>
<rect x="300.40" y="67.58" width="8.20" height="1.53" fill="rgb(195, 219, 239)"/>
<rect x="300.40" y="69.06" width="8.20" height="1.53" fill="rgb(193, 218, 231)"/>
<rect x="300.40" y="70.54" width="8.20" height="1.53" fill="rgb(196, 219, 236)"/>
<rect x="300.40" y="72.03" width="8.20" height="1.53" fill="rgb(192, 219, 230)"/>
<rect x="300.40" y="73.51" width="8.20" height="1.53" fill="rgb(215, 228, 243)"/>
<rect x="300.40" y="74.99" width="8.20" height="1.53" fill="rgb(216, 225, 237)"/>
<rect x="300.40" y="76.47" width="8.20" height="1.53" fill="rgb(192, 218, 239)"/>
<rect x="300.40" y="77.96" width="8.20" height="1.53" fill="rgb(245, 162, 100)"/>
<rect x="300.40" y="79.44" width="8.20" height="1.53" fill="rgb(243, 197, 143)"/>
<rect x="300.40" y="80.92" width="8.20" height="1.53" fill="rgb(250, 174, 112)"/>
<rect x="300.40" y="82.41" width="8.20" height="1.53" fill="rgb(246, 174, 119)"/>
<rect x="300.40" y="83.89" width="8.20" height="1.53" fill="rgb(212, 225, 233)"/>
<rect x="300.40" y="85.37" width="8.20" height="1.53" fill="rgb(214, 228, 238)"/>
<rect x="300.40" y="86.86" width="8.20" height="1.53" fill="rgb(196, 211, 231)"/>
<rect x="300.40" y="88.34" width="8.20" height="1.53" fill="rgb(211, 227, 237)"/>
<rect x="300.40" y="89.82" width="8.20" height="1.53" fill="rgb(195, 212, 235)"/>
<rect x="300.40" y="91.30" width="8.20" height="1.53" fill="rgb(211, 231, 237)"/>
<rect x="300.40" y="92.79" width="8.20" height="1.53" fill="rgb(209, 226, 239)"/>
<rect x="300.40" y="94.27" width="8.20" height="1.53" fill="rgb(212, 224, 238)"/>
<rect x="300.40" y="95.75" width="8.20" height="1.53" fill="rgb(161, 193, 226)"/>
<rect x="300.40" y="97.24" width="8.20" height="1.53" fill="rgb(188, 212, 235)"/>
<rect x="300.40" y="98.72" width="8.20" height="1.53" fill="rgb(166, 196, 228)"/>
<rect x="300.40" y="100.20" width="8.20" height="1.53" fill="rgb(245, 200, 151)"/>
<rect x="300.40" y="101.69" width="8.20" height="1.53" fill="rgb(246, 230, 191)"/>
<rect x="300.40" y="103.17" width="8.20" height="1.53" fill="rgb(244, 176, 119)"/>
<rect x="300.40" y="104.65" width="8.20" height="1.53" fill="rgb(249, 205, 141)"/>
<rect x="300.40" y="106.13" width="8.20" height="1.53" fill="rgb(242, 177, 122)"/>
<rect x="300.40" y="107.62" width="8.20" height="1.53" fill="rgb(250, 198, 144)"/>
<rect x="300.40" y="109.10" width="8.20" height="1.53" fill="rgb(245, 203, 147)"/>
<rect x="300.40" y="110.58" width="8.20" height="1.53" fill="rgb(242, 199, 151)"/>
<rect x="300.40" y="112.07" width="8.20" height="1.53" fill="rgb(243, 183, 119)"/>
<rect x="300.40" y="113.55" width="8.20" height="1.53" fill="rgb(247, 202, 145)"/>
<rect x="300.40" y="115.03" width="8.20" height="1.53" fill="rgb(244, 175, 120)"/>
<rect x="300.40" y="116.52" width="8.20" height="1.53" fill="rgb(242, 178, 123)"/>
<rect x="300.40" y="118.00" width="8.20" height="1.53" fill="rgb(249, 203, 143)"/>
<rect x="300.40" y="119.48" width="8.20" height="1.53" fill="rgb(242, 201, 141)"/>
<rect x="300.40" y="120.97" width="8.20" height="1.53" fill="rgb(242, 177, 118)"/>
<rect x="300.40" y="122.45" width="8.20" height="1.53" fill="rgb(213, 227, 243)"/>
<rect x="300.40" y="123.93" width="8.20" height="1.53" fill="rgb(243, 233, 210)"/>
<rect x="300.40" y="125.41" width="8.20" height="1.53" fill="rgb(234, 233, 215)"/>
<rect x="300.40" y="126.90" width="8.20" height="1.53" fill="rgb(243, 240, 211)"/>
<rect x="300.40" y="128.38" width="8.20" height="1.53" fill="rgb(202, 223, 239)"/>
<rect x="300.40" y="129.86" width="8.20" height="1.53" fill="rgb(200, 221, 234)"/>
<rect x="300.40" y="131.35" width="8.20" height="1.53" fill="rgb(251, 199, 138)"/>
<rect x="300.40" y="132.83" width="8.20" height="1.53" fill="rgb(249, 178, 115)"/>
<rect x="300.40" y="134.31" width="8.20" height="1.53" fill="rgb(244, 154, 100)"/>
<rect x="300.40" y="135.80" width="8.20" height="1.53" fill="rgb(240, 231, 189)"/>
<rect x="300.40" y="137.28" width="8.20" height="1.53" fill="rgb(240, 225, 188)"/>
<rect x="300.40" y="138.76" width="8.20" height="1.53" fill="rgb(247, 179, 116)"/>
<rect x="300.40" y="140.24" width="8.20" height="1.53" fill="rgb(238, 155, 97)"/>
<rect x="300.40" y="141.73" width="8.20" height="1.53" fill="rgb(200, 217, 226)"/>
<rect x="300.40" y="143.21" width="8.20" height="1.53" fill="rgb(241, 233, 201)"/>
<rect x="300.40" y="144.69" width="8.20" height="1.53" fill="rgb(201, 215, 219)"/>
<rect x="300.40" y="146.18" width="8.20" height="1.53" fill="rgb(241, 182, 123)"/>
<rect x="300.40" y="147.66" width="8.20" height="1.53" fill="rgb(171, 188, 209)"/>
<rect x="300.40" y="149.14" width="8.20" height="1.53" fill="rgb(198, 209, 226)"/>
<rect x="300.40" y="150.63" width="8.20" height="1.53" fill="rgb(243, 184, 122)"/>
<rect x="300.40" y="152.11" width="8.20" height="1.53" fill="rgb(198, 216, 221)"/>
<rect x="300.40" y="153.59" width="8.20" height="1.53" fill="rgb(238, 205, 152)"/>
<rect x="300.40" y="155.07" width="8.20" height="1.53" fill="rgb(164, 196, 208)"/>
<rect x="300.40" y="156.56" width="8.20" height="1.53" fill="rgb(202, 210, 223)"/>
<rect x="300.40" y="158.04" width="8.20" height="1.53" fill="rgb(237, 205, 154)"/>
<rect x="300.40" y="159.52" width="8.20" height="1.53" fill="rgb(193, 209, 219)"/>
<rect x="300.40" y="161.01" width="8.20" height="1.53" fill="rgb(192, 207, 221)"/>
<rect x="300.40" y="162.49" width="8.20" height="1.53" fill="rgb(244, 206, 151)"/>
<rect x="300.40" y="163.97" width="8.20" height="1.53" fill="rgb(196, 215, 224)"/>
<rect x="300.40" y="165.46" width="8.20" height="1.53" fill="rgb(239, 179, 126)"/>
<rect x="300.40" y="166.94" width="8.20" height="1.53" fill="rgb(240, 229, 201)"/>
<rect x="300.40" y="168.42" width="8.20" height="1.53" fill="rgb(170, 189, 209)"/>
<rect x="300.40" y="169.91" width="8.20" height="1.53" fill="rgb(244, 178, 130)"/>
<rect x="300.40" y="171.39" width="8.20" height="1.53" fill="rgb(170, 190, 215)"/>
<rect x="300.40" y="172.87" width="8.20" height="1.53" fill="rgb(243, 230, 202)"/>
<rect x="300.40" y="174.35" width="8.20" height="1.53" fill="rgb(199, 209, 223)"/>
<rect x="300.40" y="175.84" width="8.20" height="1.53" fill="rgb(243, 205, 151)"/>
<rect x="300.40" y="177.32" width="8.20" height="1.53" fill="rgb(238, 207, 154)"/>
<rect x="300.40" y="178.80" width="8.20" height="1.53" fill="rgb(243, 233, 204)"/>
<rect x="300.40" y="180.29" width="8.20" height="1.53" fill="rgb(235, 229, 197)"/>
<rect x="300.40" y="181.77" width="8.20" height="1.53" fill="rgb(240, 202, 159)"/>
<rect x="300.40" y="183.25" width="8.20" height="1.53" fill="rgb(235, 227, 203)"/>
<rect x="300.40" y="184.74" width="8.20" height="1.53" fill="rgb(238, 230, 200)"/>
<rect x="300.40" y="186.22" width="8.20" height="1.53" fill="rgb(198, 208, 222)"/>
<rect x="300.40" y="187.70" width="8.20" height="1.53" fill="rgb(240, 179, 129)"/>
<rect x="300.40" y="189.18" width="8.20" height="1.53" fill="rgb(171, 193, 213)"/>
<rect x="300.40" y="190.67" width="8.20" height="1.53" fill="rgb(242, 176, 125)"/>
<rect x="300.40" y="192.15" width="8.20" height="1.53" fill="rgb(239, 227, 176)"/>
<rect x="300.40" y="193.63" width="8.20" height="1.53" fill="rgb(133, 169, 201)"/>
<rect x="300.40" y="195.12" width="8.20" height="1.53" fill="rgb(240, 231, 205)"/>
<rect x="308.60" y="30.50" width="8.20" height="1.53" fill="rgb(244, 178, 115)"/>
<rect x="308.60" y="31.98" width="8.20" height="1.53" fill="rgb(250, 173, 110)"/>
<rect x="308.60" y="33.47" width="8.20" height="1.53" fill="rgb(250, 179, 118)"/>
<rect x="308.60" y="34.95" width="8.20" height="1.53" fill="rgb(247, 196, 139)"/>
<rect x="308.60" y="36.43" width="8.20" height="1.53" fill="rgb(249, 176, 120)"/>
<rect x="308.60" y="37.92" width="8.20" height="1.53" fill="rgb(247, 199, 142)"/>
<rect x="308.60" y="39.40" width="8.20" height="1.53" fill="rgb(245, 154, 102)"/>
<rect x="308.60" y="40.88" width="8.20" height="1.53" fill="rgb(246, 201, 142)"/>
<rect x="308.60" y="42.36" width="8.20" height="1.53" fill="rgb(247, 200, 147)"/>
<rect x="308.60" y="43.85" width="8.20" height="1.53" fill="rgb(186, 210, 235)"/>
<rect x="308.60" y="45.33" width="8.20" height="1.53" fill="rgb(182, 212, 230)"/>
<rect x="308.60" y="46.81" width="8.20" height="1.53" fill="rgb(182, 209, 230)"/>
<rect x="308.60" y="48.30" width="8.20" height="1.53" fill="rgb(158, 195, 225)"/>
<rect x="308.60" y="49.78" width="8.20" height="1.53" fill="rgb(188, 210, 232)"/>
<rect x="308.60" y="51.26" width="8.20" height="1.53" fill="rgb(242, 234, 201)"/>
<rect x="308.60" y="52.75" width="8.20" height="1.53" fill="rgb(241, 185, 119)"/>
<rect x="308.60" y="54.23" width="8.20" height="1.53" fill="rgb(248, 202, 147)"/>
<rect x="308.60" y="55.71" width="8.20" height="1.53" fill="rgb(245, 232, 197)"/>
<rect x="308.60" y="57.19" width="8.20" height="1.53" fill="rgb(248, 234, 199)"/>
<rect x="308.60" y="58.68" width="8.20" height="1.53" fill="rgb(245, 182, 118)"/>
<rect x="308.60" y="60.16" width="8.20" height="1.53" fill="rgb(192, 218, 231)"/>
<rect x="308.60" y="61.64" width="8.20" height="1.53" fill="rgb(232, 234, 213)"/>
<rect x="308.60" y="63.13" width="8.20" height="1.53" fill="rgb(230, 231, 214)"/>
<rect x="308.60" y="64.61" width="8.20" height="1.53" fill="rgb(191, 212, 238)"/>
<rect x="308.60" y="66.09" width="8.20" height="1.53" fill="rgb(193, 213, 238)"/>
<rect x="308.60" y="67.58" width="8.20" height="1.53" fill="rgb(194, 211, 234)"/>
<rect x="308.60" y="69.06" width="8.20" height="1.53" fill="rgb(197, 215, 237)"/>
<rect x="308.60" y="70.54" width="8.20" height="1.53" fill="rgb(190, 221, 233)"/>
<rect x="308.60" y="72.03" width="8.20" height="1.53" fill="rgb(190, 214, 234)"/>
<rect x="308.60" y="73.51" width="8.20" height="1.53" fill="rgb(190, 216, 234)"/>
<rect x="308.60" y="74.99" width="8.20" height="1.53" fill="rgb(192, 217, 235)"/>
<rect x="308.60" y="76.47" width="8.20" height="1.53" fill="rgb(212, 225, 242)"/>
<rect x="308.60" y="77.96" width="8.20" height="1.53" fill="rgb(244, 175, 114)"/>
<rect x="308.60" y="79.44" width="8.20" height="1.53" fill="rgb(249, 174, 115)"/>
<rect x="308.60" y="80.92" width="8.20" height="1.53" fill="rgb(243, 198, 139)"/>
<rect x="308.60" y="82.41" width="8.20" height="1.53" fill="rgb(248, 179, 119)"/>
<rect x="308.60" y="83.89" width="8.20" height="1.53" fill="rgb(198, 216, 223)"/>
<rect x="308.60" y="85.37" width="8.20" height="1.53" fill="rgb(240, 236, 199)"/>
<rect x="308.60" y="86.86" width="8.20" height="1.53" fill="rgb(201, 218, 225)"/>
<rect x="308.60" y="88.34" width="8.20" height="1.53" fill="rgb(243, 231, 206)"/>
<rect x="308.60" y="89.82" width="8.20" height="1.53" fill="rgb(237, 185, 132)"/>
<rect x="308.60" y="91.30" width="8.20" height="1.53" fill="rgb(237, 235, 199)"/>
<rect x="308.60" y="92.79" width="8.20" height="1.53" fill="rgb(239, 182, 127)"/>
<rect x="308.60" y="94.27" width="8.20" height="1.53" fill="rgb(240, 184, 130)"/>
<rect x="308.60" y="95.75" width="8.20" height="1.53" fill="rgb(196, 212, 223)"/>
<rect x="308.60" y="97.24" width="8.20" height="1.53" fill="rgb(241, 184, 133)"/>
<rect x="308.60" y="98.72" width="8.20" height="1.53" fill="rgb(197, 214, 220)"/>
<rect x="308.60" y="100.20" width="8.20" height="1.53" fill="rgb(242, 199, 144)"/>
<rect x="308.60" y="101.69" width="8.20" height="1.53" fill="rgb(250, 174, 110)"/>
<rect x="308.60" y="103.17" width="8.20" height="1.53" fill="rgb(243, 178, 117)"/>
<rect x="308.60" y="104.65" width="8.20" height="1.53" fill="rgb(249, 172, 112)"/>
<rect x="308.60" y="106.13" width="8.20" height="1.53" fill="rgb(247, 201, 141)"/>
<rect x="308.60" y="107.62" width="8.20" height="1.53" fill="rgb(243, 159, 98)"/>
<rect x="308.60" y="109.10" width="8.20" height="1.53" fill="rgb(246, 180, 110)"/>
<rect x="308.60" y="110.58" width="8.20" height="1.53" fill="rgb(244, 173, 117)"/>
<rect x="308.60" y="112.07" width="8.20" height="1.53" fill="rgb(243, 200, 147)"/>
<rect x="308.60" y="113.55" width="8.20" height="1.53" fill="rgb(241, 177, 119)"/>
<rect x="308.60" y="115.03" width="8.20" height="1.53" fill="rgb(247, 197, 143)"/>
<rect x="308.60" y="116.52" width="8.20" height="1.53" fill="rgb(243, 160, 97)"/>
<rect x="308.60" y="118.00" width="8.20" height="1.53" fill="rgb(247, 227, 188)"/>
<rect x="308.60" y="119.48" width="8.20" height="1.53" fill="rgb(250, 177, 110)"/>
<rect x="308.60" y="120.97" width="8.20" height="1.53" fill="rgb(245, 177, 113)"/>
<rect x="308.60" y="122.45" width="8.20" height="1.53" fill="rgb(245, 184, 119)"/>
<rect x="308.60" y="123.93" width="8.20" height="1.53" fill="rgb(246, 181, 121)"/>
<rect x="308.60" y="125.41" width="8.20" height="1.53" fill="rgb(246, 181, 120)"/>
<rect x="308.60" y="126.90" width="8.20" height="1.53" fill="rgb(245, 203, 148)"/>
<rect x="308.60" y="128.38" width="8.20" height="1.53" fill="rgb(246, 199, 152)"/>
<rect x="308.60" y="129.86" width="8.20" height="1.53" fill="rgb(251, 202, 148)"/>
<rect x="308.60" y="131.35" width="8.20" height="1.53" fill="rgb(243, 178, 113)"/>
<rect x="308.60" y="132.83" width="8.20" height="1.53" fill="rgb(237, 153, 101)"/>
<rect x="308.60" y="134.31" width="8.20" height="1.53" fill="rgb(245, 200, 141)"/>
<rect x="308.60" y="135.80" width="8.20" height="1.53" fill="rgb(243, 176, 116)"/>
<rect x="308.60" y="137.28" width="8.20" height="1.53" fill="rgb(242, 227, 190)"/>
<rect x="308.60" y="138.76" width="8.20" height="1.53" fill="rgb(245, 230, 194)"/>
<rect x="308.60" y="140.24" width="8.20" height="1.53" fill="rgb(245, 180, 116)"/>
<rect x="308.60" y="141.73" width="8.20" height="1.53" fill="rgb(241, 231, 201)"/>
<rect x="308.60" y="143.21" width="8.20" height="1.53" fill="rgb(195, 211, 217)"/>
<rect x="308.60" y="144.69" width="8.20" height="1.53" fill="rgb(200, 214, 227)"/>
<rect x="308.60" y="146.18" width="8.20" height="1.53" fill="rgb(193, 210, 226)"/>
<rect x="308.60" y="147.66" width="8.20" height="1.53" fill="rgb(243, 182, 122)"/>
<rect x="308.60" y="149.14" width="8.20" height="1.53" fill="rgb(242, 181, 121)"/>
<rect x="308.60" y="150.63" width="8.20" height="1.53" fill="rgb(235, 234, 201)"/>
<rect x="308.60" y="152.11" width="8.20" height="1.53" fill="rgb(238, 174, 130)"/>
<rect x="308.60" y="153.59" width="8.20" height="1.53" fill="rgb(171, 187, 217)"/>
<rect x="308.60" y="155.07" width="8.20" height="1.53" fill="rgb(241, 182, 127)"/>
<rect x="308.60" y="156.56" width="8.20" height="1.53" fill="rgb(237, 182, 122)"/>
<rect x="308.60" y="158.04" width="8.20" height="1.53" fill="rgb(245, 201, 151)"/>
<rect x="308.60" y="159.52" width="8.20" height="1.53" fill="rgb(196, 215, 221)"/>
<rect x="308.60" y="161.01" width="8.20" height="1.53" fill="rgb(172, 189, 213)"/>
<rect x="308.60" y="162.49" width="8.20" height="1.53" fill="rgb(235, 234, 199)"/>
<rect x="308.60" y="163.97" width="8.20" height="1.53" fill="rgb(237, 228, 181)"/>
<rect x="308.60" y="165.46" width="8.20" height="1.53" fill="rgb(194, 214, 222)"/>
<rect x="308.60" y="166.94" width="8.20" height="1.53" fill="rgb(236, 227, 204)"/>
<rect x="308.60" y="168.42" width="8.20" height="1.53" fill="rgb(244, 226, 175)"/>
<rect x="308.60" y="169.91" width="8.20" height="1.53" fill="rgb(237, 232, 200)"/>
<rect x="308.60" y="171.39" width="8.20" height="1.53" fill="rgb(195, 211, 218)"/>
<rect x="308.60" y="172.87" width="8.20" height="1.53" fill="rgb(236, 174, 125)"/>
<rect x="308.60" y="174.35" width="8.20" height="1.53" fill="rgb(245, 197, 159)"/>
<rect x="308.60" y="175.84" width="8.20" height="1.53" fill="rgb(243, 178, 123)"/>
<rect x="308.60" y="177.32" width="8.20" height="1.53" fill="rgb(240, 219, 172)"/>
<rect x="308.60" y="178.80" width="8.20" height="1.53" fill="rgb(199, 217, 219)"/>
<rect x="308.60" y="180.29" width="8.20" height="1.53" fill="rgb(196, 212, 220)"/>
<rect x="308.60" y="181.77" width="8.20" height="1.53" fill="rgb(245, 199, 153)"/>
<rect x="308.60" y="183.25" width="8.20" height="1.53" fill="rgb(168, 195, 213)"/>
<rect x="308.60" y="184.74" width="8.20" height="1.53" fill="rgb(243, 203, 153)"/>
<rect x="308.60" y="186.22" width="8.20" height="1.53" fill="rgb(134, 173, 205)"/>
<rect x="308.60" y="187.70" width="8.20" height="1.53" fill="rgb(197, 215, 217)"/>
<rect x="308.60" y="189.18" width="8.20" height="1.53" fill="rgb(201, 211, 224)"/>
<rect x="308.60" y="190.67" width="8.20" height="1.53" fill="rgb(197, 215, 222)"/>
<rect x="308.60" y="192.15" width="8.20" height="1.53" fill="rgb(240, 182, 123)"/>
<rect x="308.60" y="193.63" width="8.20" height="1.53" fill="rgb(242, 225, 205)"/>
<rect x="308.60" y="195.12" width="8.20" height="1.53" fill="rgb(240, 204, 155)"/>
<rect x="318.30" y="30.50" width="8.30" height="1.53" fill="rgb(242, 177, 122)"/>
<rect x="318.30" y="31.98" width="8.30" height="1.53" fill="rgb(247, 231, 195)"/>
<rect x="318.30" y="33.47" width="8.30" height="1.53" fill="rgb(241, 225, 196)"/>
<rect x="318.30" y="34.95" width="8.30" height="1.53" fill="rgb(246, 177, 122)"/>
<rect x="318.30" y="36.43" width="8.30" height="1.53" fill="rgb(244, 196, 146)"/>
<rect x="318.30" y="37.92" width="8.30" height="1.53" fill="rgb(247, 202, 142)"/>
<rect x="318.30" y="39.40" width="8.30" height="1.53" fill="rgb(249, 176, 115)"/>
<rect x="318.30" y="40.88" width="8.30" height="1.53" fill="rgb(250, 182, 117)"/>
<rect x="318.30" y="42.36" width="8.30" height="1.53" fill="rgb(244, 182, 122)"/>
<rect x="318.30" y="43.85" width="8.30" height="1.53" fill="rgb(248, 231, 189)"/>
<rect x="318.30" y="45.33" width="8.30" height="1.53" fill="rgb(242, 231, 191)"/>
<rect x="318.30" y="46.81" width="8.30" height="1.53" fill="rgb(247, 176, 122)"/>
<rect x="318.30" y="48.30" width="8.30" height="1.53" fill="rgb(247, 178, 113)"/>
<rect x="318.30" y="49.78" width="8.30" height="1.53" fill="rgb(244, 181, 121)"/>
<rect x="318.30" y="51.26" width="8.30" height="1.53" fill="rgb(242, 226, 191)"/>
<rect x="318.30" y="52.75" width="8.30" height="1.53" fill="rgb(243, 181, 113)"/>
<rect x="318.30" y="54.23" width="8.30" height="1.53" fill="rgb(244, 199, 144)"/>
<rect x="318.30" y="55.71" width="8.30" height="1.53" fill="rgb(252, 203, 145)"/>
<rect x="318.30" y="57.19" width="8.30" height="1.53" fill="rgb(242, 226, 194)"/>
<rect x="318.30" y="58.68" width="8.30" height="1.53" fill="rgb(249, 201, 148)"/>
<rect x="318.30" y="60.16" width="8.30" height="1.53" fill="rgb(250, 181, 121)"/>
<rect x="318.30" y="61.64" width="8.30" height="1.53" fill="rgb(251, 201, 150)"/>
<rect x="318.30" y="63.13" width="8.30" height="1.53" fill="rgb(250, 176, 118)"/>
<rect x="318.30" y="64.61" width="8.30" height="1.53" fill="rgb(248, 204, 149)"/>
<rect x="318.30" y="66.09" width="8.30" height="1.53" fill="rgb(248, 178, 117)"/>
<rect x="318.30" y="67.58" width="8.30" height="1.53" fill="rgb(202, 220, 229)"/>
<rect x="318.30" y="69.06" width="8.30" height="1.53" fill="rgb(235, 231, 204)"/>
<rect x="318.30" y="70.54" width="8.30" height="1.53" fill="rgb(197, 214, 226)"/>
<rect x="318.30" y="72.03" width="8.30" height="1.53" fill="rgb(195, 219, 227)"/>
<rect x="318.30" y="73.51" width="8.30" height="1.53" fill="rgb(198, 214, 226)"/>
<rect x="318.30" y="74.99" width="8.30" height="1.53" fill="rgb(201, 219, 228)"/>
<rect x="318.30" y="76.47" width="8.30" height="1.53" fill="rgb(244, 183, 131)"/>
<rect x="318.30" y="77.96" width="8.30" height="1.53" fill="rgb(238, 229, 205)"/>
<rect x="318.30" y="79.44" width="8.30" height="1.53" fill="rgb(242, 178, 134)"/>
<rect x="318.30" y="80.92" width="8.30" height="1.53" fill="rgb(198, 212, 224)"/>
<rect x="318.30" y="82.41" width="8.30" height="1.53" fill="rgb(199, 217, 230)"/>
<rect x="318.30" y="83.89" width="8.30" height="1.53" fill="rgb(235, 228, 201)"/>
<rect x="318.30" y="85.37" width="8.30" height="1.53" fill="rgb(195, 213, 223)"/>
<rect x="318.30" y="86.86" width="8.30" height="1.53" fill="rgb(239, 182, 133)"/>
<rect x="318.30" y="88.34" width="8.30" height="1.53" fill="rgb(246, 171, 115)"/>
<rect x="318.30" y="89.82" width="8.30" height="1.53" fill="rgb(242, 155, 99)"/>
<rect x="318.30" y="91.30" width="8.30" height="1.53" fill="rgb(245, 177, 117)"/>
<rect x="318.30" y="92.79" width="8.30" height="1.53" fill="rgb(249, 231, 193)"/>
<rect x="318.30" y="94.27" width="8.30" height="1.53" fill="rgb(250, 195, 140)"/>
<rect x="318.30" y="95.75" width="8.30" height="1.53" fill="rgb(244, 222, 192)"/>
<rect x="318.30" y="97.24" width="8.30" height="1.53" fill="rgb(243, 180, 112)"/>
<rect x="318.30" y="98.72" width="8.30" height="1.53" fill="rgb(245, 201, 142)"/>
<rect x="318.30" y="100.20" width="8.30" height="1.53" fill="rgb(249, 201, 140)"/>
<rect x="318.30" y="101.69" width="8.30" height="1.53" fill="rgb(244, 196, 146)"/>
<rect x="318.30" y="103.17" width="8.30" height="1.53" fill="rgb(245, 172, 116)"/>
<rect x="318.30" y="104.65" width="8.30" height="1.53" fill="rgb(244, 181, 114)"/>
<rect x="318.30" y="106.13" width="8.30" height="1.53" fill="rgb(241, 173, 111)"/>
<rect x="318.30" y="107.62" width="8.30" height="1.53" fill="rgb(189, 209, 224)"/>
<rect x="318.30" y="109.10" width="8.30" height="1.53" fill="rgb(165, 190, 216)"/>
<rect x="318.30" y="110.58" width="8.30" height="1.53" fill="rgb(234, 231, 203)"/>
<rect x="318.30" y="112.07" width="8.30" height="1.53" fill="rgb(237, 200, 161)"/>
<rect x="318.30" y="113.55" width="8.30" height="1.53" fill="rgb(232, 198, 163)"/>
<rect x="318.30" y="115.03" width="8.30" height="1.53" fill="rgb(187, 211, 229)"/>
<rect x="318.30" y="116.52" width="8.30" height="1.53" fill="rgb(239, 197, 160)"/>
<rect x="318.30" y="118.00" width="8.30" height="1.53" fill="rgb(189, 217, 228)"/>
<rect x="318.30" y="119.48" width="8.30" height="1.53" fill="rgb(238, 197, 161)"/>
<rect x="318.30" y="120.97" width="8.30" height="1.53" fill="rgb(165, 187, 214)"/>
<rect x="318.30" y="122.45" width="8.30" height="1.53" fill="rgb(248, 224, 194)"/>
<rect x="318.30" y="123.93" width="8.30" height="1.53" fill="rgb(243, 202, 138)"/>
<rect x="318.30" y="125.41" width="8.30" height="1.53" fill="rgb(243, 173, 115)"/>
<rect x="318.30" y="126.90" width="8.30" height="1.53" fill="rgb(250, 173, 117)"/>
<rect x="318.30" y="128.38" width="8.30" height="1.53" fill="rgb(250, 176, 115)"/>
<rect x="318.30" y="129.86" width="8.30" height="1.53" fill="rgb(248, 198, 140)"/>
<rect x="318.30" y="131.35" width="8.30" height="1.53" fill="rgb(248, 198, 148)"/>
<rect x="318.30" y="132.83" width="8.30" height="1.53" fill="rgb(248, 172, 113)"/>
<rect x="318.30" y="134.31" width="8.30" height="1.53" fill="rgb(245, 203, 148)"/>
<rect x="318.30" y="135.80" width="8.30" height="1.53" fill="rgb(249, 196, 146)"/>
<rect x="318.30" y="137.28" width="8.30" height="1.53" fill="rgb(244, 227, 191)"/>
<rect x="318.30" y="138.76" width="8.30" height="1.53" fill="rgb(241, 173, 115)"/>
<rect x="318.30" y="140.24" width="8.30" height="1.53" fill="rgb(251, 196, 139)"/>
<rect x="318.30" y="141.73" width="8.30" height="1.53" fill="rgb(242, 173, 115)"/>
<rect x="318.30" y="143.21" width="8.30" height="1.53" fill="rgb(243, 195, 143)"/>
<rect x="318.30" y="144.69" width="8.30" height="1.53" fill="rgb(235, 232, 202)"/>
<rect x="318.30" y="146.18" width="8.30" height="1.53" fill="rgb(173, 193, 208)"/>
<rect x="318.30" y="147.66" width="8.30" height="1.53" fill="rgb(236, 228, 197)"/>
<rect x="318.30" y="149.14" width="8.30" height="1.53" fill="rgb(199, 210, 219)"/>
<rect x="318.30" y="150.63" width="8.30" height="1.53" fill="rgb(138, 171, 200)"/>
<rect x="318.30" y="152.11" width="8.30" height="1.53" fill="rgb(171, 192, 209)"/>
<rect x="318.30" y="153.59" width="8.30" height="1.53" fill="rgb(236, 199, 157)"/>
<rect x="318.30" y="155.07" width="8.30" height="1.53" fill="rgb(236, 178, 131)"/>
<rect x="318.30" y="156.56" width="8.30" height="1.53" fill="rgb(238, 180, 121)"/>
<rect x="318.30" y="158.04" width="8.30" height="1.53" fill="rgb(234, 228, 199)"/>
<rect x="318.30" y="159.52" width="8.30" height="1.53" fill="rgb(137, 167, 201)"/>
<rect x="318.30" y="161.01" width="8.30" height="1.53" fill="rgb(238, 200, 156)"/>
<rect x="318.30" y="162.49" width="8.30" height="1.53" fill="rgb(238, 197, 157)"/>
<rect x="318.30" y="163.97" width="8.30" height="1.53" fill="rgb(239, 205, 159)"/>
<rect x="318.30" y="165.46" width="8.30" height="1.53" fill="rgb(234, 233, 204)"/>
<rect x="318.30" y="166.94" width="8.30" height="1.53" fill="rgb(237, 183, 126)"/>
<rect x="318.30" y="168.42" width="8.30" height="1.53" fill="rgb(244, 176, 123)"/>
<rect x="318.30" y="169.91" width="8.30" height="1.53" fill="rgb(202, 214, 217)"/>
<rect x="318.30" y="171.39" width="8.30" height="1.53" fill="rgb(236, 181, 131)"/>
<rect x="318.30" y="172.87" width="8.30" height="1.53" fill="rgb(241, 181, 121)"/>
<rect x="318.30" y="174.35" width="8.30" height="1.53" fill="rgb(166, 191, 216)"/>
<rect x="318.30" y="175.84" width="8.30" height="1.53" fill="rgb(240, 226, 202)"/>
<rect x="318.30" y="177.32" width="8.30" height="1.53" fill="rgb(243, 182, 127)"/>
<rect x="318.30" y="178.80" width="8.30" height="1.53" fill="rgb(202, 215, 224)"/>
<rect x="318.30" y="180.29" width="8.30" height="1.53" fill="rgb(236, 207, 150)"/>
<rect x="318.30" y="181.77" width="8.30" height="1.53" fill="rgb(240, 184, 125)"/>
<rect x="318.30" y="183.25" width="8.30" height="1.53" fill="rgb(235, 176, 125)"/>
<rect x="318.30" y="184.74" width="8.30" height="1.53" fill="rgb(239, 206, 159)"/>
<rect x="318.30" y="186.22" width="8.30" height="1.53" fill="rgb(135, 171, 199)"/>
<rect x="318.30" y="187.70" width="8.30" height="1.53" fill="rgb(239, 228, 204)"/>
<rect x="318.30" y="189.18" width="8.30" height="1.53" fill="rgb(242, 182, 127)"/>
<rect x="318.30" y="190.67" width="8.30" height="1.53" fill="rgb(236, 182, 131)"/>
<rect x="318.30" y="192.15" width="8.30" height="1.53" fill="rgb(241, 182, 130)"/>
<rect x="318.30" y="193.63" width="8.30" height="1.53" fill="rgb(236, 175, 128)"/>
<rect x="318.30" y="195.12" width="8.30" height="1.53" fill="rgb(243, 199, 155)"/>
<rect x="326.60" y="30.50" width="8.20" height="1.53" fill="rgb(245, 174, 116)"/>
<rect x="326.60" y="31.98" width="8.20" height="1.53" fill="rgb(248, 168, 108)"/>
<rect x="326.60" y="33.47" width="8.20" height="1.53" fill="rgb(237, 158, 98)"/>
<rect x="326.60" y="34.95" width="8.20" height="1.53" fill="rgb(247, 174, 116)"/>
<rect x="326.60" y="36.43" width="8.20" height="1.53" fill="rgb(244, 177, 109)"/>
<rect x="326.60" y="37.92" width="8.20" height="1.53" fill="rgb(245, 195, 143)"/>
<rect x="326.60" y="39.40" width="8.20" height="1.53" fill="rgb(238, 156, 99)"/>
<rect x="326.60" y="40.88" width="8.20" height="1.53" fill="rgb(246, 175, 114)"/>
<rect x="326.60" y="42.36" width="8.20" height="1.53" fill="rgb(244, 170, 113)"/>
<rect x="326.60" y="43.85" width="8.20" height="1.53" fill="rgb(248, 168, 114)"/>
<rect x="326.60" y="45.33" width="8.20" height="1.53" fill="rgb(249, 176, 110)"/>
<rect x="326.60" y="46.81" width="8.20" height="1.53" fill="rgb(242, 170, 116)"/>
<rect x="326.60" y="48.30" width="8.20" height="1.53" fill="rgb(237, 149, 95)"/>
<rect x="326.60" y="49.78" width="8.20" height="1.53" fill="rgb(246, 176, 115)"/>
<rect x="326.60" y="51.26" width="8.20" height="1.53" fill="rgb(250, 173, 111)"/>
<rect x="326.60" y="52.75" width="8.20" height="1.53" fill="rgb(243, 170, 109)"/>
<rect x="326.60" y="54.23" width="8.20" height="1.53" fill="rgb(239, 152, 90)"/>
<rect x="326.60" y="55.71" width="8.20" height="1.53" fill="rgb(249, 172, 111)"/>
<rect x="326.60" y="57.19" width="8.20" height="1.53" fill="rgb(250, 168, 114)"/>
<rect x="326.60" y="58.68" width="8.20" height="1.53" fill="rgb(243, 173, 111)"/>
<rect x="326.60" y="60.16" width="8.20" height="1.53" fill="rgb(242, 156, 90)"/>
<rect x="326.60" y="61.64" width="8.20" height="1.53" fill="rgb(243, 173, 111)"/>
<rect x="326.60" y="63.13" width="8.20" height="1.53" fill="rgb(242, 169, 107)"/>
<rect x="326.60" y="64.61" width="8.20" height="1.53" fill="rgb(246, 155, 91)"/>
<rect x="326.60" y="66.09" width="8.20" height="1.53" fill="rgb(241, 152, 97)"/>
<rect x="326.60" y="67.58" width="8.20" height="1.53" fill="rgb(244, 171, 112)"/>
<rect x="326.60" y="69.06" width="8.20" height="1.53" fill="rgb(241, 159, 97)"/>
<rect x="326.60" y="70.54" width="8.20" height="1.53" fill="rgb(244, 176, 113)"/>
<rect x="326.60" y="72.03" width="8.20" height="1.53" fill="rgb(241, 175, 111)"/>
<rect x="326.60" y="73.51" width="8.20" height="1.53" fill="rgb(246, 180, 118)"/>
<rect x="326.60" y="74.99" width="8.20" height="1.53" fill="rgb(244, 224, 193)"/>
<rect x="326.60" y="76.47" width="8.20" height="1.53" fill="rgb(244, 171, 118)"/>
<rect x="326.60" y="77.96" width="8.20" height="1.53" fill="rgb(251, 195, 146)"/>
<rect x="326.60" y="79.44" width="8.20" height="1.53" fill="rgb(248, 198, 146)"/>
<rect x="326.60" y="80.92" width="8.20" height="1.53" fill="rgb(250, 180, 113)"/>
<rect x="326.60" y="82.41" width="8.20" height="1.53" fill="rgb(245, 180, 118)"/>
<rect x="326.60" y="83.89" width="8.20" height="1.53" fill="rgb(244, 174, 116)"/>
<rect x="326.60" y="85.37" width="8.20" height="1.53" fill="rgb(248, 199, 145)"/>
<rect x="326.60" y="86.86" width="8.20" height="1.53" fill="rgb(245, 178, 117)"/>
<rect x="326.60" y="88.34" width="8.20" height="1.53" fill="rgb(239, 159, 99)"/>
<rect x="326.60" y="89.82" width="8.20" height="1.53" fill="rgb(245, 151, 91)"/>
<rect x="326.60" y="91.30" width="8.20" height="1.53" fill="rgb(246, 177, 110)"/>
<rect x="326.60" y="92.79" width="8.20" height="1.53" fill="rgb(250, 191, 135)"/>
<rect x="326.60" y="94.27" width="8.20" height="1.53" fill="rgb(247, 198, 143)"/>
<rect x="326.60" y="95.75" width="8.20" height="1.53" fill="rgb(240, 177, 116)"/>
<rect x="326.60" y="97.24" width="8.20" height="1.53" fill="rgb(247, 168, 116)"/>
<rect x="326.60" y="98.72" width="8.20" height="1.53" fill="rgb(246, 156, 93)"/>
<rect x="326.60" y="100.20" width="8.20" height="1.53" fill="rgb(245, 177, 112)"/>
<rect x="326.60" y="101.69" width="8.20" height="1.53" fill="rgb(239, 151, 92)"/>
<rect x="326.60" y="103.17" width="8.20" height="1.53" fill="rgb(245, 177, 109)"/>
<rect x="326.60" y="104.65" width="8.20" height="1.53" fill="rgb(248, 177, 109)"/>
<rect x="326.60" y="106.13" width="8.20" height="1.53" fill="rgb(244, 169, 107)"/>
<rect x="326.60" y="107.62" width="8.20" height="1.53" fill="rgb(190, 210, 230)"/>
<rect x="326.60" y="109.10" width="8.20" height="1.53" fill="rgb(193, 214, 230)"/>
<rect x="326.60" y="110.58" width="8.20" height="1.53" fill="rgb(168, 188, 220)"/>
<rect x="326.60" y="112.07" width="8.20" height="1.53" fill="rgb(230, 177, 128)"/>
<rect x="326.60" y="113.55" width="8.20" height="1.53" fill="rgb(233, 205, 162)"/>
<rect x="326.60" y="115.03" width="8.20" height="1.53" fill="rgb(193, 215, 228)"/>
<rect x="326.60" y="116.52" width="8.20" height="1.53" fill="rgb(234, 176, 131)"/>
<rect x="326.60" y="118.00" width="8.20" height="1.53" fill="rgb(130, 168, 209)"/>
<rect x="326.60" y="119.48" width="8.20" height="1.53" fill="rgb(161, 191, 218)"/>
<rect x="326.60" y="120.97" width="8.20" height="1.53" fill="rgb(159, 196, 219)"/>
<rect x="326.60" y="122.45" width="8.20" height="1.53" fill="rgb(246, 197, 135)"/>
<rect x="326.60" y="123.93" width="8.20" height="1.53" fill="rgb(247, 171, 112)"/>
<rect x="326.60" y="125.41" width="8.20" height="1.53" fill="rgb(247, 197, 140)"/>
<rect x="326.60" y="126.90" width="8.20" height="1.53" fill="rgb(250, 172, 107)"/>
<rect x="326.60" y="128.38" width="8.20" height="1.53" fill="rgb(244, 170, 111)"/>
<rect x="326.60" y="129.86" width="8.20" height="1.53" fill="rgb(250, 173, 109)"/>
<rect x="326.60" y="131.35" width="8.20" height="1.53" fill="rgb(242, 153, 97)"/>
<rect x="326.60" y="132.83" width="8.20" height="1.53" fill="rgb(249, 176, 113)"/>
<rect x="326.60" y="134.31" width="8.20" height="1.53" fill="rgb(247, 178, 115)"/>
<rect x="326.60" y="135.80" width="8.20" height="1.53" fill="rgb(243, 168, 113)"/>
<rect x="326.60" y="137.28" width="8.20" height="1.53" fill="rgb(249, 197, 140)"/>
<rect x="326.60" y="138.76" width="8.20" height="1.53" fill="rgb(242, 157, 91)"/>
<rect x="326.60" y="140.24" width="8.20" height="1.53" fill="rgb(247, 169, 112)"/>
<rect x="326.60" y="141.73" width="8.20" height="1.53" fill="rgb(243, 198, 142)"/>
<rect x="326.60" y="143.21" width="8.20" height="1.53" fill="rgb(251, 197, 140)"/>
<rect x="326.60" y="144.69" width="8.20" height="1.53" fill="rgb(238, 231, 199)"/>
<rect x="326.60" y="146.18" width="8.20" height="1.53" fill="rgb(198, 211, 222)"/>
<rect x="326.60" y="147.66" width="8.20" height="1.53" fill="rgb(201, 215, 224)"/>
<rect x="326.60" y="149.14" width="8.20" height="1.53" fill="rgb(234, 176, 122)"/>
<rect x="326.60" y="150.63" width="8.20" height="1.53" fill="rgb(234, 230, 203)"/>
<rect x="326.60" y="152.11" width="8.20" height="1.53" fill="rgb(196, 211, 227)"/>
<rect x="326.60" y="153.59" width="8.20" height="1.53" fill="rgb(230, 231, 203)"/>
<rect x="326.60" y="155.07" width="8.20" height="1.53" fill="rgb(234, 204, 164)"/>
<rect x="326.60" y="156.56" width="8.20" height="1.53" fill="rgb(233, 207, 160)"/>
<rect x="326.60" y="158.04" width="8.20" height="1.53" fill="rgb(168, 194, 216)"/>
<rect x="326.60" y="159.52" width="8.20" height="1.53" fill="rgb(137, 164, 213)"/>
<rect x="326.60" y="161.01" width="8.20" height="1.53" fill="rgb(161, 192, 216)"/>
<rect x="326.60" y="162.49" width="8.20" height="1.53" fill="rgb(162, 188, 222)"/>
<rect x="326.60" y="163.97" width="8.20" height="1.53" fill="rgb(230, 232, 203)"/>
<rect x="326.60" y="165.46" width="8.20" height="1.53" fill="rgb(241, 220, 180)"/>
<rect x="326.60" y="166.94" width="8.20" height="1.53" fill="rgb(193, 216, 223)"/>
<rect x="326.60" y="168.42" width="8.20" height="1.53" fill="rgb(171, 188, 211)"/>
<rect x="326.60" y="169.91" width="8.20" height="1.53" fill="rgb(242, 184, 127)"/>
<rect x="326.60" y="171.39" width="8.20" height="1.53" fill="rgb(202, 212, 221)"/>
<rect x="326.60" y="172.87" width="8.20" height="1.53" fill="rgb(246, 198, 151)"/>
<rect x="326.60" y="174.35" width="8.20" height="1.53" fill="rgb(164, 189, 213)"/>
<rect x="326.60" y="175.84" width="8.20" height="1.53" fill="rgb(238, 175, 128)"/>
<rect x="326.60" y="177.32" width="8.20" height="1.53" fill="rgb(237, 175, 128)"/>
<rect x="326.60" y="178.80" width="8.20" height="1.53" fill="rgb(240, 175, 127)"/>
<rect x="326.60" y="180.29" width="8.20" height="1.53" fill="rgb(245, 199, 152)"/>
<rect x="326.60" y="181.77" width="8.20" height="1.53" fill="rgb(164, 192, 212)"/>
<rect x="326.60" y="183.25" width="8.20" height="1.53" fill="rgb(238, 202, 149)"/>
<rect x="326.60" y="184.74" width="8.20" height="1.53" fill="rgb(237, 178, 124)"/>
<rect x="326.60" y="186.22" width="8.20" height="1.53" fill="rgb(196, 213, 223)"/>
<rect x="326.60" y="187.70" width="8.20" height="1.53" fill="rgb(202, 213, 224)"/>
<rect x="326.60" y="189.18" width="8.20" height="1.53" fill="rgb(234, 233, 201)"/>
<rect x="326.60" y="190.67" width="8.20" height="1.53" fill="rgb(242, 179, 130)"/>
<rect x="326.60" y="192.15" width="8.20" height="1.53" fill="rgb(241, 206, 158)"/>
<rect x="326.60" y="193.63" width="8.20" height="1.53" fill="rgb(197, 211, 224)"/>
<rect x="326.60" y="195.12" width="8.20" height="1.53" fill="rgb(168, 194, 213)"/>
<rect x="334.80" y="30.50" width="8.20" height="1.53" fill="rgb(242, 229, 194)"/>
<rect x="334.80" y="31.98" width="8.20" height="1.53" fill="rgb(241, 178, 119)"/>
<rect x="334.80" y="33.47" width="8.20" height="1.53" fill="rgb(247, 179, 118)"/>
<rect x="334.80" y="34.95" width="8.20" height="1.53" fill="rgb(247, 233, 199)"/>
<rect x="334.80" y="36.43" width="8.20" height="1.53" fill="rgb(240, 235, 200)"/>
<rect x="334.80" y="37.92" width="8.20" height="1.53" fill="rgb(246, 208, 155)"/>
<rect x="334.80" y="39.40" width="8.20" height="1.53" fill="rgb(249, 178, 126)"/>
<rect x="334.80" y="40.88" width="8.20" height="1.53" fill="rgb(243, 185, 125)"/>
<rect x="334.80" y="42.36" width="8.20" height="1.53" fill="rgb(250, 177, 118)"/>
<rect x="334.80" y="43.85" width="8.20" height="1.53" fill="rgb(242, 179, 125)"/>
<rect x="334.80" y="45.33" width="8.20" height="1.53" fill="rgb(245, 180, 124)"/>
<rect x="334.80" y="46.81" width="8.20" height="1.53" fill="rgb(247, 179, 119)"/>
<rect x="334.80" y="48.30" width="8.20" height="1.53" fill="rgb(248, 206, 147)"/>
<rect x="334.80" y="49.78" width="8.20" height="1.53" fill="rgb(246, 232, 197)"/>
<rect x="334.80" y="51.26" width="8.20" height="1.53" fill="rgb(242, 204, 151)"/>
<rect x="334.80" y="52.75" width="8.20" height="1.53" fill="rgb(250, 182, 118)"/>
<rect x="334.80" y="54.23" width="8.20" height="1.53" fill="rgb(245, 186, 126)"/>
<rect x="334.80" y="55.71" width="8.20" height="1.53" fill="rgb(243, 199, 152)"/>
<rect x="334.80" y="57.19" width="8.20" height="1.53" fill="rgb(248, 202, 151)"/>
<rect x="334.80" y="58.68" width="8.20" height="1.53" fill="rgb(244, 206, 147)"/>
<rect x="334.80" y="60.16" width="8.20" height="1.53" fill="rgb(249, 208, 154)"/>
<rect x="334.80" y="61.64" width="8.20" height="1.53" fill="rgb(248, 176, 118)"/>
<rect x="334.80" y="63.13" width="8.20" height="1.53" fill="rgb(245, 235, 192)"/>
<rect x="334.80" y="64.61" width="8.20" height="1.53" fill="rgb(241, 234, 193)"/>
<rect x="334.80" y="66.09" width="8.20" height="1.53" fill="rgb(250, 208, 153)"/>
<rect x="334.80" y="67.58" width="8.20" height="1.53" fill="rgb(243, 208, 157)"/>
<rect x="334.80" y="69.06" width="8.20" height="1.53" fill="rgb(246, 206, 155)"/>
<rect x="334.80" y="70.54" width="8.20" height="1.53" fill="rgb(246, 211, 161)"/>
<rect x="334.80" y="72.03" width="8.20" height="1.53" fill="rgb(197, 216, 224)"/>
<rect x="334.80" y="73.51" width="8.20" height="1.53" fill="rgb(249, 203, 152)"/>
<rect x="334.80" y="74.99" width="8.20" height="1.53" fill="rgb(206, 215, 225)"/>
<rect x="334.80" y="76.47" width="8.20" height="1.53" fill="rgb(241, 236, 205)"/>
<rect x="334.80" y="77.96" width="8.20" height="1.53" fill="rgb(200, 216, 224)"/>
<rect x="334.80" y="79.44" width="8.20" height="1.53" fill="rgb(201, 221, 229)"/>
<rect x="334.80" y="80.92" width="8.20" height="1.53" fill="rgb(245, 230, 203)"/>
<rect x="334.80" y="82.41" width="8.20" height="1.53" fill="rgb(241, 207, 159)"/>
<rect x="334.80" y="83.89" width="8.20" height="1.53" fill="rgb(243, 233, 200)"/>
<rect x="334.80" y="85.37" width="8.20" height="1.53" fill="rgb(247, 236, 204)"/>
<rect x="334.80" y="86.86" width="8.20" height="1.53" fill="rgb(204, 219, 223)"/>
<rect x="334.80" y="88.34" width="8.20" height="1.53" fill="rgb(243, 227, 201)"/>
<rect x="334.80" y="89.82" width="8.20" height="1.53" fill="rgb(246, 207, 148)"/>
<rect x="334.80" y="91.30" width="8.20" height="1.53" fill="rgb(241, 177, 121)"/>
<rect x="334.80" y="92.79" width="8.20" height="1.53" fill="rgb(248, 236, 200)"/>
<rect x="334.80" y="94.27" width="8.20" height="1.53" fill="rgb(252, 199, 150)"/>
<rect x="334.80" y="95.75" width="8.20" height="1.53" fill="rgb(242, 201, 155)"/>
<rect x="334.80" y="97.24" width="8.20" height="1.53" fill="rgb(244, 186, 124)"/>
<rect x="334.80" y="98.72" width="8.20" height="1.53" fill="rgb(248, 201, 148)"/>
<rect x="334.80" y="100.20" width="8.20" height="1.53" fill="rgb(242, 230, 192)"/>
<rect x="334.80" y="101.69" width="8.20" height="1.53" fill="rgb(245, 200, 146)"/>
<rect x="334.80" y="103.17" width="8.20" height="1.53" fill="rgb(243, 208, 147)"/>
<rect x="334.80" y="104.65" width="8.20" height="1.53" fill="rgb(243, 207, 147)"/>
<rect x="334.80" y="106.13" width="8.20" height="1.53" fill="rgb(246, 208, 154)"/>
<rect x="334.80" y="107.62" width="8.20" height="1.53" fill="rgb(239, 226, 205)"/>
<rect x="334.80" y="109.10" width="8.20" height="1.53" fill="rgb(195, 215, 219)"/>
<rect x="334.80" y="110.58" width="8.20" height="1.53" fill="rgb(236, 231, 198)"/>
<rect x="334.80" y="112.07" width="8.20" height="1.53" fill="rgb(236, 225, 197)"/>
<rect x="334.80" y="113.55" width="8.20" height="1.53" fill="rgb(197, 212, 224)"/>
<rect x="334.80" y="115.03" width="8.20" height="1.53" fill="rgb(236, 178, 129)"/>
<rect x="334.80" y="116.52" width="8.20" height="1.53" fill="rgb(197, 213, 219)"/>
<rect x="334.80" y="118.00" width="8.20" height="1.53" fill="rgb(170, 195, 211)"/>
<rect x="334.80" y="119.48" width="8.20" height="1.53" fill="rgb(241, 230, 203)"/>
<rect x="334.80" y="120.97" width="8.20" height="1.53" fill="rgb(242, 177, 126)"/>
<rect x="334.80" y="122.45" width="8.20" height="1.53" fill="rgb(246, 207, 145)"/>
<rect x="334.80" y="123.93" width="8.20" height="1.53" fill="rgb(248, 205, 152)"/>
<rect x="334.80" y="125.41" width="8.20" height="1.53" fill="rgb(247, 233, 193)"/>
<rect x="334.80" y="126.90" width="8.20" height="1.53" fill="rgb(243, 227, 197)"/>
<rect x="334.80" y="128.38" width="8.20" height="1.53" fill="rgb(245, 184, 123)"/>
<rect x="334.80" y="129.86" width="8.20" height="1.53" fill="rgb(248, 208, 151)"/>
<rect x="334.80" y="131.35" width="8.20" height="1.53" fill="rgb(251, 205, 154)"/>
<rect x="334.80" y="132.83" width="8.20" height="1.53" fill="rgb(246, 181, 122)"/>
<rect x="334.80" y="134.31" width="8.20" height="1.53" fill="rgb(251, 200, 155)"/>
<rect x="334.80" y="135.80" width="8.20" height="1.53" fill="rgb(247, 205, 148)"/>
<rect x="334.80" y="137.28" width="8.20" height="1.53" fill="rgb(240, 235, 193)"/>
<rect x="334.80" y="138.76" width="8.20" height="1.53" fill="rgb(249, 184, 124)"/>
<rect x="334.80" y="140.24" width="8.20" height="1.53" fill="rgb(248, 199, 152)"/>
<rect x="334.80" y="141.73" width="8.20" height="1.53" fill="rgb(242, 231, 193)"/>
<rect x="334.80" y="143.21" width="8.20" height="1.53" fill="rgb(247, 227, 198)"/>
<rect x="334.80" y="144.69" width="8.20" height="1.53" fill="rgb(165, 196, 210)"/>
<rect x="334.80" y="146.18" width="8.20" height="1.53" fill="rgb(235, 182, 123)"/>
<rect x="334.80" y="147.66" width="8.20" height="1.53" fill="rgb(168, 188, 216)"/>
<rect x="334.80" y="149.14" width="8.20" height="1.53" fill="rgb(237, 197, 152)"/>
<rect x="334.80" y="150.63" width="8.20" height="1.53" fill="rgb(239, 231, 197)"/>
<rect x="334.80" y="152.11" width="8.20" height="1.53" fill="rgb(243, 179, 128)"/>
<rect x="334.80" y="153.59" width="8.20" height="1.53" fill="rgb(169, 194, 210)"/>
<rect x="334.80" y="155.07" width="8.20" height="1.53" fill="rgb(239, 184, 131)"/>
<rect x="334.80" y="156.56" width="8.20" height="1.53" fill="rgb(241, 177, 125)"/>
<rect x="334.80" y="158.04" width="8.20" height="1.53" fill="rgb(246, 201, 154)"/>
<rect x="334.80" y="159.52" width="8.20" height="1.53" fill="rgb(238, 175, 135)"/>
<rect x="334.80" y="161.01" width="8.20" height="1.53" fill="rgb(231, 226, 205)"/>
<rect x="334.80" y="162.49" width="8.20" height="1.53" fill="rgb(131, 168, 210)"/>
<rect x="334.80" y="163.97" width="8.20" height="1.53" fill="rgb(236, 235, 210)"/>
<rect x="334.80" y="165.46" width="8.20" height="1.53" fill="rgb(237, 182, 134)"/>
<rect x="334.80" y="166.94" width="8.20" height="1.53" fill="rgb(188, 214, 228)"/>
<rect x="334.80" y="168.42" width="8.20" height="1.53" fill="rgb(195, 209, 226)"/>
<rect x="334.80" y="169.91" width="8.20" height="1.53" fill="rgb(167, 197, 222)"/>
<rect x="334.80" y="171.39" width="8.20" height="1.53" fill="rgb(239, 180, 126)"/>
<rect x="334.80" y="172.87" width="8.20" height="1.53" fill="rgb(238, 184, 125)"/>
<rect x="334.80" y="174.35" width="8.20" height="1.53" fill="rgb(172, 192, 217)"/>
<rect x="334.80" y="175.84" width="8.20" height="1.53" fill="rgb(133, 170, 207)"/>
<rect x="334.80" y="177.32" width="8.20" height="1.53" fill="rgb(240, 198, 158)"/>
<rect x="334.80" y="178.80" width="8.20" height="1.53" fill="rgb(239, 231, 205)"/>
<rect x="334.80" y="180.29" width="8.20" height="1.53" fill="rgb(239, 229, 199)"/>
<rect x="334.80" y="181.77" width="8.20" height="1.53" fill="rgb(170, 192, 208)"/>
<rect x="334.80" y="183.25" width="8.20" height="1.53" fill="rgb(193, 212, 219)"/>
<rect x="334.80" y="184.74" width="8.20" height="1.53" fill="rgb(238, 199, 153)"/>
<rect x="334.80" y="186.22" width="8.20" height="1.53" fill="rgb(237, 182, 122)"/>
<rect x="334.80" y="187.70" width="8.20" height="1.53" fill="rgb(167, 189, 215)"/>
<rect x="334.80" y="189.18" width="8.20" height="1.53" fill="rgb(240, 197, 151)"/>
<rect x="334.80" y="190.67" width="8.20" height="1.53" fill="rgb(168, 191, 213)"/>
<rect x="334.80" y="192.15" width="8.20" height="1.53" fill="rgb(236, 183, 127)"/>
<rect x="334.80" y="193.63" width="8.20" height="1.53" fill="rgb(245, 200, 154)"/>
<rect x="334.80" y="195.12" width="8.20" height="1.53" fill="rgb(201, 210, 227)"/>
</g>
<defs><filter id="hb" x="0" y="0" width="1" height="1"><feGaussianBlur stdDeviation="0.1 0.35"/></filter></defs>
<rect x="204.40" y="27.20" width="33.60" height="2.60" fill="#b5bd1e" />
<rect x="239.30" y="27.20" width="24.70" height="2.60" fill="#c97fc4" />
<rect x="265.70" y="27.20" width="25.30" height="2.60" fill="#29b2e8" />
<rect x="292.20" y="27.20" width="24.60" height="2.60" fill="#3cb67a" />
<rect x="318.30" y="27.20" width="24.70" height="2.60" fill="#f37f7a" />
<line x1="234.90" y1="12.20" x2="295.90" y2="12.20" stroke="#6a6a6a" stroke-width="0.75" />
<line x1="234.90" y1="12.20" x2="234.90" y2="16.10" stroke="#6a6a6a" stroke-width="0.75" />
<line x1="221.30" y1="16.10" x2="249.60" y2="16.10" stroke="#6a6a6a" stroke-width="0.75" />
<line x1="221.30" y1="16.10" x2="221.30" y2="21.20" stroke="#6a6a6a" stroke-width="0.75" />
<line x1="208.50" y1="21.20" x2="234.20" y2="21.20" stroke="#6a6a6a" stroke-width="0.75" />
<line x1="208.50" y1="21.20" x2="208.50" y2="27.00" stroke="#6a6a6a" stroke-width="0.75" />
<line x1="217.20" y1="21.20" x2="217.20" y2="27.00" stroke="#6a6a6a" stroke-width="0.75" />
<line x1="225.70" y1="21.20" x2="225.70" y2="27.00" stroke="#6a6a6a" stroke-width="0.75" />
<line x1="234.20" y1="21.20" x2="234.20" y2="27.00" stroke="#6a6a6a" stroke-width="0.75" />
<line x1="249.60" y1="16.10" x2="249.60" y2="20.20" stroke="#6a6a6a" stroke-width="0.75" />
<line x1="243.50" y1="20.20" x2="260.50" y2="20.20" stroke="#6a6a6a" stroke-width="0.75" />
<line x1="243.50" y1="20.20" x2="243.50" y2="27.00" stroke="#6a6a6a" stroke-width="0.75" />
<line x1="251.80" y1="20.20" x2="251.80" y2="27.00" stroke="#6a6a6a" stroke-width="0.75" />
<line x1="260.50" y1="20.20" x2="260.50" y2="27.00" stroke="#6a6a6a" stroke-width="0.75" />
<line x1="295.90" y1="12.20" x2="295.90" y2="14.80" stroke="#6a6a6a" stroke-width="0.75" />
<line x1="275.90" y1="14.80" x2="314.80" y2="14.80" stroke="#6a6a6a" stroke-width="0.75" />
<line x1="275.90" y1="14.80" x2="275.90" y2="20.40" stroke="#6a6a6a" stroke-width="0.75" />
<line x1="269.60" y1="20.40" x2="286.40" y2="20.40" stroke="#6a6a6a" stroke-width="0.75" />
<line x1="269.60" y1="20.40" x2="269.60" y2="27.00" stroke="#6a6a6a" stroke-width="0.75" />
<line x1="277.80" y1="20.40" x2="277.80" y2="27.00" stroke="#6a6a6a" stroke-width="0.75" />
<line x1="286.40" y1="20.40" x2="286.40" y2="27.00" stroke="#6a6a6a" stroke-width="0.75" />
<line x1="314.80" y1="14.80" x2="314.80" y2="17.10" stroke="#6a6a6a" stroke-width="0.75" />
<line x1="302.10" y1="17.10" x2="328.60" y2="17.10" stroke="#6a6a6a" stroke-width="0.75" />
<line x1="302.10" y1="17.10" x2="302.10" y2="20.60" stroke="#6a6a6a" stroke-width="0.75" />
<line x1="295.80" y1="20.60" x2="313.10" y2="20.60" stroke="#6a6a6a" stroke-width="0.75" />
<line x1="295.80" y1="20.60" x2="295.80" y2="27.00" stroke="#6a6a6a" stroke-width="0.75" />
<line x1="304.40" y1="20.60" x2="304.40" y2="27.00" stroke="#6a6a6a" stroke-width="0.75" />
<line x1="313.10" y1="20.60" x2="313.10" y2="27.00" stroke="#6a6a6a" stroke-width="0.75" />
<line x1="328.60" y1="17.10" x2="328.60" y2="20.60" stroke="#6a6a6a" stroke-width="0.75" />
<line x1="322.90" y1="20.60" x2="339.60" y2="20.60" stroke="#6a6a6a" stroke-width="0.75" />
<line x1="322.90" y1="20.60" x2="322.90" y2="27.00" stroke="#6a6a6a" stroke-width="0.75" />
<line x1="331.00" y1="20.60" x2="331.00" y2="27.00" stroke="#6a6a6a" stroke-width="0.75" />
<line x1="339.60" y1="20.60" x2="339.60" y2="27.00" stroke="#6a6a6a" stroke-width="0.75" />
<line x1="189.60" y1="48.00" x2="202.70" y2="48.00" stroke="#8a8a8a" stroke-width="0.75" />
<line x1="189.60" y1="48.00" x2="189.60" y2="112.00" stroke="#8a8a8a" stroke-width="0.75" />
<line x1="189.60" y1="112.00" x2="192.70" y2="112.00" stroke="#8a8a8a" stroke-width="0.75" />
<line x1="192.70" y1="85.00" x2="192.70" y2="137.50" stroke="#8a8a8a" stroke-width="0.75" />
<line x1="192.70" y1="85.00" x2="199.30" y2="85.00" stroke="#8a8a8a" stroke-width="0.75" />
<line x1="192.70" y1="137.50" x2="195.20" y2="137.50" stroke="#8a8a8a" stroke-width="0.75" />
<line x1="199.30" y1="77.50" x2="199.30" y2="95.00" stroke="#8a8a8a" stroke-width="0.75" />
<line x1="199.30" y1="77.50" x2="202.50" y2="77.50" stroke="#8a8a8a" stroke-width="0.75" />
<line x1="199.30" y1="95.00" x2="202.00" y2="95.00" stroke="#8a8a8a" stroke-width="0.75" />
<line x1="195.20" y1="118.30" x2="195.20" y2="156.70" stroke="#8a8a8a" stroke-width="0.75" />
<line x1="195.20" y1="118.30" x2="201.00" y2="118.30" stroke="#8a8a8a" stroke-width="0.75" />
<line x1="195.20" y1="156.70" x2="199.30" y2="156.70" stroke="#8a8a8a" stroke-width="0.75" />
<line x1="199.30" y1="156.70" x2="199.30" y2="180.00" stroke="#8a8a8a" stroke-width="0.75" />
<line x1="199.30" y1="159.00" x2="202.50" y2="159.00" stroke="#8a8a8a" stroke-width="0.75" />
<line x1="199.30" y1="180.00" x2="202.50" y2="180.00" stroke="#8a8a8a" stroke-width="0.75" />
<line x1="201.00" y1="108.00" x2="201.00" y2="128.00" stroke="#8a8a8a" stroke-width="0.75" />
<line x1="202.70" y1="33.00" x2="202.70" y2="75.00" stroke="#8a8a8a" stroke-width="0.75" />
<path d="M202.68,30.60 L202.89,31.79 L203.30,33.03 L202.32,33.79 L202.71,35.25 L203.89,36.16 L203.64,37.28 L203.32,38.41 L203.32,39.24 L203.14,40.73 L203.37,42.09 L203.51,42.85 L202.78,44.08 L203.68,44.81 L203.45,45.94 L203.44,47.43 L202.93,48.96 L203.01,50.38 L203.71,51.92 L202.52,52.71 L203.84,53.60 L203.30,54.69 L203.11,55.67 L202.86,56.71 L203.23,57.94 L203.39,59.45 L203.67,60.99 L203.37,62.58 L203.68,63.43 L203.75,65.00 L203.44,66.21 L203.63,67.10 L202.76,68.31 L203.67,69.07 L202.44,70.66 L202.96,72.08 L202.77,72.92 L203.70,74.31 L203.28,75.05 L203.45,75.79 L203.71,76.79 L203.11,78.37 L202.80,79.97 L203.26,80.74 L202.62,81.47 L203.28,82.53 L202.37,83.37 L202.80,84.86 L203.73,86.42 L203.04,87.46 L203.33,88.63 L203.19,89.86 L203.80,91.12 L202.99,92.28 L202.68,93.63 L203.86,94.60 L203.18,95.77 L202.96,96.48 L202.33,97.70 L203.31,98.95 L203.30,99.71 L203.39,100.83 L203.43,101.84 L202.34,103.21 L203.38,103.96 L202.70,105.53 L203.25,106.64 L202.88,107.63 L202.89,108.61 L202.78,109.84 L203.54,110.88 L203.21,111.61 L202.80,112.97 L203.59,113.87 L202.60,114.79 L203.42,115.88 L202.82,116.67 L203.63,117.67 L203.67,118.76 L202.84,119.62 L203.72,120.90 L202.66,122.01 L203.15,122.82 L203.59,123.69 L202.59,125.14 L203.59,126.09 L203.59,127.37 L202.51,128.38 L203.57,129.34 L202.85,130.29 L202.97,131.36 L203.77,132.43 L202.31,133.27 L203.71,134.82 L202.99,136.41 L203.78,137.96 L203.49,138.86 L203.36,140.32 L202.76,141.48 L202.66,142.49 L203.24,143.25 L203.60,144.21 L203.75,144.95 L203.78,146.28 L203.74,147.78 L202.32,149.00 L202.57,150.37 L203.36,151.34 L202.96,152.52 L203.28,154.06 L202.70,155.07 L203.06,156.54 L202.86,157.95 L203.16,158.83 L202.57,160.26 L203.77,161.67 L203.62,163.10 L203.31,163.80 L202.38,165.28 L202.73,166.23 L202.98,167.40 L203.54,168.53 L202.39,169.23 L202.50,170.04 L203.86,170.80 L202.44,172.27 L202.81,173.42 L202.86,174.41 L203.24,175.69 L202.61,176.71 L202.50,177.71 L203.45,178.91 L202.43,179.95 L202.90,180.81 L203.55,182.06 L203.58,183.10 L202.99,184.36 L203.09,185.39 L202.97,186.73 L203.04,188.05 L203.16,188.97 L202.41,190.30 L202.98,191.38 L203.80,192.87 L203.74,193.91 L202.72,195.32 L202.50,196.44 L203.50,196.40" fill="none" stroke="#3a3a3a" stroke-width="0.8"/>
<line x1="200.35" y1="32.00" x2="203.04" y2="32.00" stroke="#999" stroke-width="0.55" />
<line x1="200.35" y1="32.00" x2="200.35" y2="35.38" stroke="#999" stroke-width="0.55" />
<line x1="200.66" y1="36.00" x2="202.59" y2="36.00" stroke="#999" stroke-width="0.55" />
<line x1="200.66" y1="36.00" x2="200.66" y2="37.31" stroke="#999" stroke-width="0.55" />
<line x1="197.52" y1="39.77" x2="202.00" y2="39.77" stroke="#999" stroke-width="0.55" />
<line x1="197.52" y1="39.77" x2="197.52" y2="43.09" stroke="#999" stroke-width="0.55" />
<line x1="197.89" y1="41.90" x2="201.94" y2="41.90" stroke="#999" stroke-width="0.55" />
<line x1="197.89" y1="41.90" x2="197.89" y2="45.54" stroke="#999" stroke-width="0.55" />
<line x1="197.60" y1="44.44" x2="202.98" y2="44.44" stroke="#999" stroke-width="0.55" />
<line x1="197.60" y1="44.44" x2="197.60" y2="45.80" stroke="#999" stroke-width="0.55" />
<line x1="200.40" y1="48.97" x2="202.97" y2="48.97" stroke="#999" stroke-width="0.55" />
<line x1="200.40" y1="48.97" x2="200.40" y2="52.83" stroke="#999" stroke-width="0.55" />
<line x1="200.93" y1="52.71" x2="201.85" y2="52.71" stroke="#999" stroke-width="0.55" />
<line x1="200.93" y1="52.71" x2="200.93" y2="56.01" stroke="#999" stroke-width="0.55" />
<line x1="200.58" y1="56.24" x2="201.95" y2="56.24" stroke="#999" stroke-width="0.55" />
<line x1="200.58" y1="56.24" x2="200.58" y2="59.49" stroke="#999" stroke-width="0.55" />
<line x1="197.76" y1="61.04" x2="202.25" y2="61.04" stroke="#999" stroke-width="0.55" />
<line x1="197.76" y1="61.04" x2="197.76" y2="63.74" stroke="#999" stroke-width="0.55" />
<line x1="198.54" y1="65.53" x2="202.05" y2="65.53" stroke="#999" stroke-width="0.55" />
<line x1="198.54" y1="65.53" x2="198.54" y2="67.28" stroke="#999" stroke-width="0.55" />
<line x1="200.74" y1="69.38" x2="202.35" y2="69.38" stroke="#999" stroke-width="0.55" />
<line x1="200.74" y1="69.38" x2="200.74" y2="71.48" stroke="#999" stroke-width="0.55" />
<line x1="199.01" y1="72.57" x2="202.39" y2="72.57" stroke="#999" stroke-width="0.55" />
<line x1="199.01" y1="72.57" x2="199.01" y2="73.81" stroke="#999" stroke-width="0.55" />
<line x1="201.68" y1="76.07" x2="202.38" y2="76.07" stroke="#999" stroke-width="0.55" />
<line x1="201.68" y1="76.07" x2="201.68" y2="79.31" stroke="#999" stroke-width="0.55" />
<line x1="200.47" y1="78.55" x2="202.86" y2="78.55" stroke="#999" stroke-width="0.55" />
<line x1="200.47" y1="78.55" x2="200.47" y2="81.57" stroke="#999" stroke-width="0.55" />
<line x1="199.58" y1="82.10" x2="202.70" y2="82.10" stroke="#999" stroke-width="0.55" />
<line x1="199.58" y1="82.10" x2="199.58" y2="85.79" stroke="#999" stroke-width="0.55" />
<line x1="197.91" y1="84.55" x2="202.85" y2="84.55" stroke="#999" stroke-width="0.55" />
<line x1="197.91" y1="84.55" x2="197.91" y2="88.30" stroke="#999" stroke-width="0.55" />
<line x1="199.41" y1="88.10" x2="202.81" y2="88.10" stroke="#999" stroke-width="0.55" />
<line x1="199.41" y1="88.10" x2="199.41" y2="89.66" stroke="#999" stroke-width="0.55" />
<line x1="198.36" y1="90.90" x2="202.62" y2="90.90" stroke="#999" stroke-width="0.55" />
<line x1="198.36" y1="90.90" x2="198.36" y2="92.85" stroke="#999" stroke-width="0.55" />
<line x1="200.47" y1="93.60" x2="203.13" y2="93.60" stroke="#999" stroke-width="0.55" />
<line x1="200.47" y1="93.60" x2="200.47" y2="95.49" stroke="#999" stroke-width="0.55" />
<line x1="199.28" y1="97.71" x2="203.00" y2="97.71" stroke="#999" stroke-width="0.55" />
<line x1="199.28" y1="97.71" x2="199.28" y2="100.47" stroke="#999" stroke-width="0.55" />
<line x1="198.44" y1="100.52" x2="201.83" y2="100.52" stroke="#999" stroke-width="0.55" />
<line x1="198.44" y1="100.52" x2="198.44" y2="102.95" stroke="#999" stroke-width="0.55" />
<line x1="198.24" y1="103.66" x2="202.30" y2="103.66" stroke="#999" stroke-width="0.55" />
<line x1="198.24" y1="103.66" x2="198.24" y2="105.63" stroke="#999" stroke-width="0.55" />
<line x1="198.12" y1="107.99" x2="203.19" y2="107.99" stroke="#999" stroke-width="0.55" />
<line x1="198.12" y1="107.99" x2="198.12" y2="110.43" stroke="#999" stroke-width="0.55" />
<line x1="199.51" y1="111.78" x2="202.97" y2="111.78" stroke="#999" stroke-width="0.55" />
<line x1="199.51" y1="111.78" x2="199.51" y2="115.25" stroke="#999" stroke-width="0.55" />
<line x1="199.57" y1="115.45" x2="202.81" y2="115.45" stroke="#999" stroke-width="0.55" />
<line x1="199.57" y1="115.45" x2="199.57" y2="119.02" stroke="#999" stroke-width="0.55" />
<line x1="200.65" y1="118.66" x2="203.14" y2="118.66" stroke="#999" stroke-width="0.55" />
<line x1="200.65" y1="118.66" x2="200.65" y2="121.06" stroke="#999" stroke-width="0.55" />
<line x1="198.51" y1="121.34" x2="202.80" y2="121.34" stroke="#999" stroke-width="0.55" />
<line x1="198.51" y1="121.34" x2="198.51" y2="124.37" stroke="#999" stroke-width="0.55" />
<line x1="201.17" y1="126.22" x2="202.14" y2="126.22" stroke="#999" stroke-width="0.55" />
<line x1="201.17" y1="126.22" x2="201.17" y2="127.79" stroke="#999" stroke-width="0.55" />
<line x1="198.30" y1="129.00" x2="202.79" y2="129.00" stroke="#999" stroke-width="0.55" />
<line x1="198.30" y1="129.00" x2="198.30" y2="132.57" stroke="#999" stroke-width="0.55" />
<line x1="198.60" y1="133.70" x2="203.01" y2="133.70" stroke="#999" stroke-width="0.55" />
<line x1="198.60" y1="133.70" x2="198.60" y2="135.64" stroke="#999" stroke-width="0.55" />
<line x1="200.63" y1="136.97" x2="201.92" y2="136.97" stroke="#999" stroke-width="0.55" />
<line x1="200.63" y1="136.97" x2="200.63" y2="138.24" stroke="#999" stroke-width="0.55" />
<line x1="198.75" y1="141.47" x2="202.30" y2="141.47" stroke="#999" stroke-width="0.55" />
<line x1="198.75" y1="141.47" x2="198.75" y2="144.21" stroke="#999" stroke-width="0.55" />
<line x1="197.53" y1="145.49" x2="202.27" y2="145.49" stroke="#999" stroke-width="0.55" />
<line x1="197.53" y1="145.49" x2="197.53" y2="147.80" stroke="#999" stroke-width="0.55" />
<line x1="198.40" y1="148.95" x2="202.62" y2="148.95" stroke="#999" stroke-width="0.55" />
<line x1="198.40" y1="148.95" x2="198.40" y2="152.82" stroke="#999" stroke-width="0.55" />
<line x1="199.84" y1="152.12" x2="201.97" y2="152.12" stroke="#999" stroke-width="0.55" />
<line x1="199.84" y1="152.12" x2="199.84" y2="153.95" stroke="#999" stroke-width="0.55" />
<line x1="197.98" y1="156.12" x2="203.04" y2="156.12" stroke="#999" stroke-width="0.55" />
<line x1="197.98" y1="156.12" x2="197.98" y2="159.85" stroke="#999" stroke-width="0.55" />
<line x1="201.55" y1="158.41" x2="202.32" y2="158.41" stroke="#999" stroke-width="0.55" />
<line x1="201.55" y1="158.41" x2="201.55" y2="161.73" stroke="#999" stroke-width="0.55" />
<line x1="198.77" y1="162.68" x2="202.75" y2="162.68" stroke="#999" stroke-width="0.55" />
<line x1="198.77" y1="162.68" x2="198.77" y2="165.65" stroke="#999" stroke-width="0.55" />
<line x1="198.64" y1="167.10" x2="202.86" y2="167.10" stroke="#999" stroke-width="0.55" />
<line x1="198.64" y1="167.10" x2="198.64" y2="170.99" stroke="#999" stroke-width="0.55" />
<line x1="199.81" y1="171.12" x2="201.96" y2="171.12" stroke="#999" stroke-width="0.55" />
<line x1="199.81" y1="171.12" x2="199.81" y2="173.60" stroke="#999" stroke-width="0.55" />
<line x1="200.59" y1="174.18" x2="202.75" y2="174.18" stroke="#999" stroke-width="0.55" />
<line x1="200.59" y1="174.18" x2="200.59" y2="176.88" stroke="#999" stroke-width="0.55" />
<line x1="200.28" y1="176.72" x2="202.68" y2="176.72" stroke="#999" stroke-width="0.55" />
<line x1="200.28" y1="176.72" x2="200.28" y2="178.26" stroke="#999" stroke-width="0.55" />
<line x1="200.32" y1="181.39" x2="201.97" y2="181.39" stroke="#999" stroke-width="0.55" />
<line x1="200.32" y1="181.39" x2="200.32" y2="185.19" stroke="#999" stroke-width="0.55" />
<line x1="198.93" y1="183.82" x2="202.81" y2="183.82" stroke="#999" stroke-width="0.55" />
<line x1="198.93" y1="183.82" x2="198.93" y2="186.61" stroke="#999" stroke-width="0.55" />
<line x1="200.28" y1="187.48" x2="202.44" y2="187.48" stroke="#999" stroke-width="0.55" />
<line x1="200.28" y1="187.48" x2="200.28" y2="189.42" stroke="#999" stroke-width="0.55" />
<line x1="197.79" y1="190.01" x2="202.80" y2="190.01" stroke="#999" stroke-width="0.55" />
<line x1="197.79" y1="190.01" x2="197.79" y2="193.27" stroke="#999" stroke-width="0.55" />
<line x1="200.68" y1="193.64" x2="202.30" y2="193.64" stroke="#999" stroke-width="0.55" />
<line x1="200.68" y1="193.64" x2="200.68" y2="195.44" stroke="#999" stroke-width="0.55" />
<line x1="201.48" y1="141.00" x2="203.50" y2="141.00" stroke="#555" stroke-width="0.6" />
<line x1="201.48" y1="141.00" x2="201.48" y2="142.61" stroke="#555" stroke-width="0.6" />
<line x1="201.22" y1="142.07" x2="203.50" y2="142.07" stroke="#555" stroke-width="0.6" />
<line x1="201.22" y1="142.07" x2="201.22" y2="143.40" stroke="#555" stroke-width="0.6" />
<line x1="200.65" y1="143.32" x2="203.50" y2="143.32" stroke="#555" stroke-width="0.6" />
<line x1="201.42" y1="144.50" x2="203.50" y2="144.50" stroke="#555" stroke-width="0.6" />
<line x1="201.42" y1="144.50" x2="201.42" y2="145.74" stroke="#555" stroke-width="0.6" />
<line x1="199.58" y1="145.41" x2="203.50" y2="145.41" stroke="#555" stroke-width="0.6" />
<line x1="199.76" y1="147.01" x2="203.50" y2="147.01" stroke="#555" stroke-width="0.6" />
<line x1="199.76" y1="147.01" x2="199.76" y2="148.48" stroke="#555" stroke-width="0.6" />
<line x1="201.34" y1="148.63" x2="203.50" y2="148.63" stroke="#555" stroke-width="0.6" />
<line x1="199.67" y1="150.08" x2="203.50" y2="150.08" stroke="#555" stroke-width="0.6" />
<line x1="199.67" y1="150.08" x2="199.67" y2="151.19" stroke="#555" stroke-width="0.6" />
<line x1="200.72" y1="151.46" x2="203.50" y2="151.46" stroke="#555" stroke-width="0.6" />
<line x1="200.72" y1="151.46" x2="200.72" y2="152.66" stroke="#555" stroke-width="0.6" />
<line x1="199.38" y1="153.12" x2="203.50" y2="153.12" stroke="#555" stroke-width="0.6" />
<line x1="201.67" y1="154.90" x2="203.50" y2="154.90" stroke="#555" stroke-width="0.6" />
<line x1="201.67" y1="154.90" x2="201.67" y2="156.59" stroke="#555" stroke-width="0.6" />
<line x1="200.88" y1="156.34" x2="203.50" y2="156.34" stroke="#555" stroke-width="0.6" />
<line x1="200.05" y1="157.90" x2="203.50" y2="157.90" stroke="#555" stroke-width="0.6" />
<line x1="200.80" y1="159.23" x2="203.50" y2="159.23" stroke="#555" stroke-width="0.6" />
<line x1="201.23" y1="160.03" x2="203.50" y2="160.03" stroke="#555" stroke-width="0.6" />
<line x1="201.23" y1="160.03" x2="201.23" y2="161.62" stroke="#555" stroke-width="0.6" />
<line x1="200.45" y1="161.41" x2="203.50" y2="161.41" stroke="#555" stroke-width="0.6" />
<line x1="200.45" y1="161.41" x2="200.45" y2="163.06" stroke="#555" stroke-width="0.6" />
<line x1="200.55" y1="162.25" x2="203.50" y2="162.25" stroke="#555" stroke-width="0.6" />
<line x1="200.55" y1="162.25" x2="200.55" y2="163.76" stroke="#555" stroke-width="0.6" />
<line x1="201.70" y1="163.67" x2="203.50" y2="163.67" stroke="#555" stroke-width="0.6" />
<line x1="201.28" y1="164.62" x2="203.50" y2="164.62" stroke="#555" stroke-width="0.6" />
<line x1="201.28" y1="164.62" x2="201.28" y2="165.50" stroke="#555" stroke-width="0.6" />
<line x1="199.88" y1="165.82" x2="203.50" y2="165.82" stroke="#555" stroke-width="0.6" />
<line x1="199.88" y1="165.82" x2="199.88" y2="167.48" stroke="#555" stroke-width="0.6" />
<line x1="200.11" y1="167.64" x2="203.50" y2="167.64" stroke="#555" stroke-width="0.6" />
<line x1="199.64" y1="169.21" x2="203.50" y2="169.21" stroke="#555" stroke-width="0.6" />
<line x1="201.62" y1="170.67" x2="203.50" y2="170.67" stroke="#555" stroke-width="0.6" />
<line x1="200.16" y1="172.28" x2="203.50" y2="172.28" stroke="#555" stroke-width="0.6" />
<line x1="201.45" y1="174.11" x2="203.50" y2="174.11" stroke="#555" stroke-width="0.6" />
<line x1="201.45" y1="174.11" x2="201.45" y2="176.12" stroke="#555" stroke-width="0.6" />
<line x1="199.57" y1="175.44" x2="203.50" y2="175.44" stroke="#555" stroke-width="0.6" />
<line x1="199.57" y1="175.44" x2="199.57" y2="176.36" stroke="#555" stroke-width="0.6" />
<line x1="199.70" y1="176.46" x2="203.50" y2="176.46" stroke="#555" stroke-width="0.6" />
<line x1="199.70" y1="176.46" x2="199.70" y2="178.38" stroke="#555" stroke-width="0.6" />
<line x1="200.36" y1="177.85" x2="203.50" y2="177.85" stroke="#555" stroke-width="0.6" />
<line x1="200.36" y1="177.85" x2="200.36" y2="179.14" stroke="#555" stroke-width="0.6" />
<line x1="201.19" y1="179.16" x2="203.50" y2="179.16" stroke="#555" stroke-width="0.6" />
<line x1="201.19" y1="179.16" x2="201.19" y2="180.25" stroke="#555" stroke-width="0.6" />
<line x1="201.10" y1="180.95" x2="203.50" y2="180.95" stroke="#555" stroke-width="0.6" />
<line x1="201.10" y1="180.95" x2="201.10" y2="182.34" stroke="#555" stroke-width="0.6" />
<line x1="200.79" y1="182.33" x2="203.50" y2="182.33" stroke="#555" stroke-width="0.6" />
<line x1="200.79" y1="182.33" x2="200.79" y2="183.14" stroke="#555" stroke-width="0.6" />
<line x1="201.26" y1="183.36" x2="203.50" y2="183.36" stroke="#555" stroke-width="0.6" />
<line x1="201.26" y1="183.36" x2="201.26" y2="184.90" stroke="#555" stroke-width="0.6" />
<line x1="199.82" y1="184.38" x2="203.50" y2="184.38" stroke="#555" stroke-width="0.6" />
<line x1="199.82" y1="184.38" x2="199.82" y2="185.82" stroke="#555" stroke-width="0.6" />
<line x1="199.37" y1="185.36" x2="203.50" y2="185.36" stroke="#555" stroke-width="0.6" />
<line x1="199.37" y1="185.36" x2="199.37" y2="186.43" stroke="#555" stroke-width="0.6" />
<line x1="199.45" y1="186.70" x2="203.50" y2="186.70" stroke="#555" stroke-width="0.6" />
<line x1="199.45" y1="186.70" x2="199.45" y2="188.22" stroke="#555" stroke-width="0.6" />
<line x1="201.06" y1="187.95" x2="203.50" y2="187.95" stroke="#555" stroke-width="0.6" />
<line x1="201.06" y1="187.95" x2="201.06" y2="189.40" stroke="#555" stroke-width="0.6" />
<line x1="199.37" y1="189.19" x2="203.50" y2="189.19" stroke="#555" stroke-width="0.6" />
<line x1="199.54" y1="190.23" x2="203.50" y2="190.23" stroke="#555" stroke-width="0.6" />
<line x1="199.54" y1="190.23" x2="199.54" y2="191.29" stroke="#555" stroke-width="0.6" />
<line x1="200.17" y1="191.71" x2="203.50" y2="191.71" stroke="#555" stroke-width="0.6" />
<line x1="200.17" y1="191.71" x2="200.17" y2="192.60" stroke="#555" stroke-width="0.6" />
<line x1="199.99" y1="193.31" x2="203.50" y2="193.31" stroke="#555" stroke-width="0.6" />
<line x1="201.63" y1="194.62" x2="203.50" y2="194.62" stroke="#555" stroke-width="0.6" />
<line x1="201.63" y1="194.62" x2="201.63" y2="195.82" stroke="#555" stroke-width="0.6" />
<line x1="201.34" y1="195.72" x2="203.50" y2="195.72" stroke="#555" stroke-width="0.6" />
<line x1="201.34" y1="195.72" x2="201.34" y2="197.07" stroke="#555" stroke-width="0.6" />
<line x1="201.66" y1="100.00" x2="203.50" y2="100.00" stroke="#666" stroke-width="0.55" />
<line x1="200.31" y1="102.03" x2="203.50" y2="102.03" stroke="#666" stroke-width="0.55" />
<line x1="200.31" y1="102.03" x2="200.31" y2="102.97" stroke="#666" stroke-width="0.55" />
<line x1="200.37" y1="103.47" x2="203.50" y2="103.47" stroke="#666" stroke-width="0.55" />
<line x1="200.37" y1="103.47" x2="200.37" y2="105.31" stroke="#666" stroke-width="0.55" />
<line x1="200.70" y1="105.93" x2="203.50" y2="105.93" stroke="#666" stroke-width="0.55" />
<line x1="201.91" y1="107.80" x2="203.50" y2="107.80" stroke="#666" stroke-width="0.55" />
<line x1="200.37" y1="110.31" x2="203.50" y2="110.31" stroke="#666" stroke-width="0.55" />
<line x1="200.37" y1="110.31" x2="200.37" y2="112.08" stroke="#666" stroke-width="0.55" />
<line x1="200.48" y1="112.84" x2="203.50" y2="112.84" stroke="#666" stroke-width="0.55" />
<line x1="200.48" y1="112.84" x2="200.48" y2="115.00" stroke="#666" stroke-width="0.55" />
<line x1="201.08" y1="114.20" x2="203.50" y2="114.20" stroke="#666" stroke-width="0.55" />
<line x1="201.08" y1="114.20" x2="201.08" y2="116.09" stroke="#666" stroke-width="0.55" />
<line x1="200.65" y1="116.70" x2="203.50" y2="116.70" stroke="#666" stroke-width="0.55" />
<line x1="201.97" y1="118.92" x2="203.50" y2="118.92" stroke="#666" stroke-width="0.55" />
<line x1="201.97" y1="118.92" x2="201.97" y2="121.20" stroke="#666" stroke-width="0.55" />
<line x1="201.13" y1="120.63" x2="203.50" y2="120.63" stroke="#666" stroke-width="0.55" />
<line x1="201.13" y1="120.63" x2="201.13" y2="122.68" stroke="#666" stroke-width="0.55" />
<line x1="200.84" y1="122.51" x2="203.50" y2="122.51" stroke="#666" stroke-width="0.55" />
<line x1="200.84" y1="122.51" x2="200.84" y2="124.46" stroke="#666" stroke-width="0.55" />
<line x1="201.72" y1="124.55" x2="203.50" y2="124.55" stroke="#666" stroke-width="0.55" />
<line x1="201.72" y1="124.55" x2="201.72" y2="126.13" stroke="#666" stroke-width="0.55" />
<line x1="201.72" y1="125.97" x2="203.50" y2="125.97" stroke="#666" stroke-width="0.55" />
<line x1="201.72" y1="125.97" x2="201.72" y2="127.52" stroke="#666" stroke-width="0.55" />
<line x1="201.65" y1="128.23" x2="203.50" y2="128.23" stroke="#666" stroke-width="0.55" />
<line x1="201.65" y1="128.23" x2="201.65" y2="129.41" stroke="#666" stroke-width="0.55" />
<line x1="201.58" y1="130.61" x2="203.50" y2="130.61" stroke="#666" stroke-width="0.55" />
<line x1="201.20" y1="133.03" x2="203.50" y2="133.03" stroke="#666" stroke-width="0.55" />
<line x1="200.97" y1="135.26" x2="203.50" y2="135.26" stroke="#666" stroke-width="0.55" />
<line x1="200.97" y1="135.26" x2="200.97" y2="136.17" stroke="#666" stroke-width="0.55" />
<line x1="202.21" y1="137.02" x2="203.50" y2="137.02" stroke="#666" stroke-width="0.55" />
<line x1="202.21" y1="137.02" x2="202.21" y2="138.73" stroke="#666" stroke-width="0.55" />
<line x1="200.46" y1="138.37" x2="203.50" y2="138.37" stroke="#666" stroke-width="0.55" />
<line x1="200.40" y1="139.91" x2="203.50" y2="139.91" stroke="#666" stroke-width="0.55" />
<line x1="200.40" y1="139.91" x2="200.40" y2="141.74" stroke="#666" stroke-width="0.55" />
<rect x="345.80" y="31.70" width="8.10" height="8.15" fill="#f37f7a" />
<text x="356.23" y="38.00" font-size="7.4" fill="#222" stroke="#222" stroke-width="0.12" font-weight="normal" font-style="normal" textLength="36.92" lengthAdjust="spacingAndGlyphs" >IDH1/2-mut</text>
<rect x="345.80" y="39.85" width="8.10" height="8.15" fill="#c97fc4" />
<text x="356.32" y="46.15" font-size="7.4" fill="#222" stroke="#222" stroke-width="0.12" font-weight="normal" font-style="normal" textLength="23.70" lengthAdjust="spacingAndGlyphs" >KMT2A</text>
<rect x="345.80" y="48.00" width="8.10" height="8.15" fill="#3cb67a" />
<text x="356.34" y="54.30" font-size="7.4" fill="#222" stroke="#222" stroke-width="0.12" font-weight="normal" font-style="normal" textLength="20.86" lengthAdjust="spacingAndGlyphs" >Ph-like</text>
<rect x="345.80" y="56.15" width="8.10" height="8.15" fill="#29b2e8" />
<text x="356.75" y="62.45" font-size="7.4" fill="#222" stroke="#222" stroke-width="0.12" font-weight="normal" font-style="normal" textLength="34.86" lengthAdjust="spacingAndGlyphs" >TCF3-PBX1</text>
<rect x="345.80" y="64.30" width="8.10" height="8.15" fill="#b3b535" />
<text x="356.69" y="70.60" font-size="7.4" fill="#222" stroke="#222" stroke-width="0.12" font-weight="normal" font-style="normal" textLength="24.11" lengthAdjust="spacingAndGlyphs" >ZNF384</text>
<defs><linearGradient id="cb" x1="0" y1="0" x2="0" y2="1"><stop offset="0" stop-color="#c8242b"/><stop offset="0.15" stop-color="#e85a3c"/><stop offset="0.3" stop-color="#f7a45e"/><stop offset="0.43" stop-color="#fde49a"/><stop offset="0.5" stop-color="#fdfbc6"/><stop offset="0.6" stop-color="#d9ecf2"/><stop offset="0.75" stop-color="#8fbddb"/><stop offset="1" stop-color="#3a64ad"/></linearGradient></defs>
<rect x="345.90" y="76.80" width="3.10" height="49.60" fill="url(#cb)" />
<text x="351.50" y="86.80" font-size="8.0" fill="#222" stroke="#222" stroke-width="0.12" font-weight="normal" font-style="normal" textLength="4.22" lengthAdjust="spacingAndGlyphs" >5</text>
<text x="351.06" y="102.80" font-size="8.0" fill="#222" stroke="#222" stroke-width="0.12" font-weight="normal" font-style="normal" textLength="4.89" lengthAdjust="spacingAndGlyphs" >0</text>
<text x="351.40" y="119.70" font-size="8.0" fill="#222" stroke="#222" stroke-width="0.12" font-weight="normal" font-style="normal" textLength="7.59" lengthAdjust="spacingAndGlyphs" >–5</text>
<text x="450.35" y="15.70" font-size="9.5" fill="#222" stroke="#222" stroke-width="0.12" font-weight="normal" font-style="normal" textLength="30.86" lengthAdjust="spacingAndGlyphs" >β-value</text>
<text x="433.74" y="28.60" font-size="8.2" fill="#222" stroke="#222" stroke-width="0.12" font-weight="normal" font-style="normal" textLength="21.39" lengthAdjust="spacingAndGlyphs" >Hyper</text>
<text x="474.12" y="28.60" font-size="8.2" fill="#222" stroke="#222" stroke-width="0.12" font-weight="normal" font-style="normal" textLength="19.43" lengthAdjust="spacingAndGlyphs" >Hypo</text>
<rect x="441.20" y="33.00" width="5.60" height="5.10" fill="#e38a9b" />
<text x="448.61" y="37.80" font-size="7.0" fill="#222" stroke="#222" stroke-width="0.12" font-weight="normal" font-style="normal" textLength="24.60" lengthAdjust="spacingAndGlyphs" >0.2–0.4</text>
<rect x="441.20" y="40.70" width="5.60" height="5.20" fill="#c8102e" />
<text x="448.83" y="45.60" font-size="7.0" fill="#222" stroke="#222" stroke-width="0.12" font-weight="normal" font-style="normal" textLength="17.10" lengthAdjust="spacingAndGlyphs" >&gt; 0.4</text>
<rect x="480.60" y="33.00" width="5.40" height="5.10" fill="#8eafcf" />
<text x="487.82" y="37.80" font-size="7.0" fill="#222" stroke="#222" stroke-width="0.12" font-weight="normal" font-style="normal" textLength="24.30" lengthAdjust="spacingAndGlyphs" >0.2–0.4</text>
<rect x="480.60" y="40.70" width="5.40" height="5.20" fill="#1d4f89" />
<text x="487.92" y="45.60" font-size="7.0" fill="#222" stroke="#222" stroke-width="0.12" font-weight="normal" font-style="normal" textLength="17.30" lengthAdjust="spacingAndGlyphs" >&gt; 0.4</text>
<line x1="439.30" y1="48.50" x2="439.30" y2="195.60" stroke="#111" stroke-width="1.1" />
<line x1="438.80" y1="195.30" x2="496.30" y2="195.30" stroke="#111" stroke-width="1.1" />
<line x1="436.30" y1="188.20" x2="439.30" y2="188.20" stroke="#111" stroke-width="1.0" />
<text x="428.65" y="190.95" font-size="8.0" fill="#222" stroke="#222" stroke-width="0.12" font-weight="normal" font-style="normal" textLength="5.00" lengthAdjust="spacingAndGlyphs" >0</text>
<line x1="436.30" y1="156.60" x2="439.30" y2="156.60" stroke="#111" stroke-width="1.0" />
<text x="416.29" y="159.35" font-size="8.0" fill="#222" stroke="#222" stroke-width="0.12" font-weight="normal" font-style="normal" textLength="17.32" lengthAdjust="spacingAndGlyphs" >5000</text>
<line x1="436.30" y1="125.00" x2="439.30" y2="125.00" stroke="#111" stroke-width="1.0" />
<text x="412.01" y="127.75" font-size="8.0" fill="#222" stroke="#222" stroke-width="0.12" font-weight="normal" font-style="normal" textLength="21.59" lengthAdjust="spacingAndGlyphs" >10000</text>
<line x1="436.30" y1="93.40" x2="439.30" y2="93.40" stroke="#111" stroke-width="1.0" />
<text x="411.70" y="96.15" font-size="8.0" fill="#222" stroke="#222" stroke-width="0.12" font-weight="normal" font-style="normal" textLength="21.91" lengthAdjust="spacingAndGlyphs" >15000</text>
<line x1="436.30" y1="61.80" x2="439.30" y2="61.80" stroke="#111" stroke-width="1.0" />
<text x="411.40" y="64.55" font-size="8.0" fill="#222" stroke="#222" stroke-width="0.12" font-weight="normal" font-style="normal" textLength="22.21" lengthAdjust="spacingAndGlyphs" >20000</text>
<line x1="452.10" y1="195.30" x2="452.10" y2="198.80" stroke="#111" stroke-width="1.0" />
<text x="441.14" y="205.40" font-size="8.0" fill="#222" stroke="#222" stroke-width="0.12" font-weight="normal" font-style="normal" textLength="21.60" lengthAdjust="spacingAndGlyphs" >Hyper</text>
<line x1="478.90" y1="195.30" x2="478.90" y2="198.80" stroke="#111" stroke-width="1.0" />
<text x="468.90" y="205.40" font-size="8.0" fill="#222" stroke="#222" stroke-width="0.12" font-weight="normal" font-style="normal" textLength="19.96" lengthAdjust="spacingAndGlyphs" >Hypo</text>
<rect x="446.00" y="54.72" width="12.50" height="78.49" fill="#e0899a" />
<rect x="446.00" y="133.22" width="12.50" height="54.98" fill="#c8102e" />
<rect x="472.90" y="130.37" width="12.40" height="9.04" fill="#1d4f89" />
<rect x="472.90" y="139.41" width="12.40" height="48.79" fill="#8eafcf" />
<text transform="translate(406.60,121.30) rotate(-90)" x="-23.91" y="0" font-size="9.0" fill="#222" stroke="#222" stroke-width="0.04" textLength="47.34" lengthAdjust="spacingAndGlyphs">Probe number</text>
<text x="51.73" y="233.20" font-size="9.8" fill="#222" stroke="#222" stroke-width="0.12" font-weight="normal" font-style="normal" textLength="98.17" lengthAdjust="spacingAndGlyphs" >Reactome_respiratory_</text>
<text x="61.59" y="244.70" font-size="9.8" fill="#222" stroke="#222" stroke-width="0.12" font-weight="normal" font-style="normal" textLength="79.69" lengthAdjust="spacingAndGlyphs" >erectron_transport</text>
<line x1="37.60" y1="256.30" x2="37.60" y2="307.40" stroke="#111" stroke-width="1.0" />
<line x1="34.60" y1="307.40" x2="37.60" y2="307.40" stroke="#111" stroke-width="1.0" />
<text x="20.88" y="310.25" font-size="8.2" fill="#222" stroke="#222" stroke-width="0.12" font-weight="normal" font-style="normal" textLength="11.44" lengthAdjust="spacingAndGlyphs" >0.0</text>
<line x1="34.60" y1="300.20" x2="37.60" y2="300.20" stroke="#111" stroke-width="1.0" />
<text x="20.88" y="303.05" font-size="8.2" fill="#222" stroke="#222" stroke-width="0.12" font-weight="normal" font-style="normal" textLength="11.53" lengthAdjust="spacingAndGlyphs" >0.1</text>
<line x1="34.60" y1="293.00" x2="37.60" y2="293.00" stroke="#111" stroke-width="1.0" />
<text x="20.88" y="295.85" font-size="8.2" fill="#222" stroke="#222" stroke-width="0.12" font-weight="normal" font-style="normal" textLength="11.54" lengthAdjust="spacingAndGlyphs" >0.2</text>
<line x1="34.60" y1="285.80" x2="37.60" y2="285.80" stroke="#111" stroke-width="1.0" />
<text x="20.88" y="288.65" font-size="8.2" fill="#222" stroke="#222" stroke-width="0.12" font-weight="normal" font-style="normal" textLength="11.49" lengthAdjust="spacingAndGlyphs" >0.3</text>
<line x1="34.60" y1="278.60" x2="37.60" y2="278.60" stroke="#111" stroke-width="1.0" />
<text x="20.88" y="281.45" font-size="8.2" fill="#222" stroke="#222" stroke-width="0.12" font-weight="normal" font-style="normal" textLength="11.36" lengthAdjust="spacingAndGlyphs" >0.4</text>
<line x1="34.60" y1="271.40" x2="37.60" y2="271.40" stroke="#111" stroke-width="1.0" />
<text x="20.88" y="274.25" font-size="8.2" fill="#222" stroke="#222" stroke-width="0.12" font-weight="normal" font-style="normal" textLength="11.47" lengthAdjust="spacingAndGlyphs" >0.5</text>
<line x1="34.60" y1="264.20" x2="37.60" y2="264.20" stroke="#111" stroke-width="1.0" />
<text x="20.88" y="267.05" font-size="8.2" fill="#222" stroke="#222" stroke-width="0.12" font-weight="normal" font-style="normal" textLength="11.49" lengthAdjust="spacingAndGlyphs" >0.6</text>
<line x1="34.60" y1="257.00" x2="37.60" y2="257.00" stroke="#111" stroke-width="1.0" />
<text x="20.88" y="259.85" font-size="8.2" fill="#222" stroke="#222" stroke-width="0.12" font-weight="normal" font-style="normal" textLength="11.54" lengthAdjust="spacingAndGlyphs" >0.7</text>
<line x1="37.10" y1="307.40" x2="164.90" y2="307.40" stroke="#111" stroke-width="1.1" />
<text transform="translate(15.40,281.70) rotate(-90)" x="-28.86" y="0" font-size="9.3" fill="#333" stroke="#333" stroke-width="0.04" textLength="57.43" lengthAdjust="spacingAndGlyphs">Enrichment score</text>
<polyline points="38.30,307.20 38.36,306.49 38.42,305.77 38.49,305.06 38.55,304.35 38.61,303.64 38.67,302.93 38.74,302.21 38.80,301.91 38.89,301.15 38.97,299.60 39.06,298.88 39.15,298.80 39.24,297.96 39.33,297.15 39.41,296.08 39.50,295.60 39.64,294.70 39.77,293.77 39.91,292.49 40.05,291.84 40.19,290.90 40.33,290.30 40.46,289.65 40.60,288.70 40.91,287.53 41.23,286.63 41.54,285.65 41.85,284.63 42.16,283.81 42.48,283.39 42.79,282.45 43.10,281.69 43.40,281.25 43.70,280.02 44.00,279.15 44.30,277.96 44.60,276.87 44.90,276.24 45.20,275.17 45.50,274.61 45.80,274.24 46.10,273.13 46.40,271.88 46.70,271.70 47.00,270.80 47.30,269.94 47.60,269.28 47.90,268.34 48.20,267.76 48.50,266.77 48.80,266.73 49.10,266.12 49.40,264.80 49.70,264.73 50.00,264.09 50.30,263.27 50.50,262.83 50.70,262.29 50.90,262.18 51.10,261.30 51.30,261.10 51.50,260.17 51.70,260.14 51.90,259.66 52.21,259.20 52.52,259.24 52.84,259.49 53.15,259.25 53.46,258.98 53.77,258.67 54.09,258.70 54.40,258.98 54.90,258.46 55.40,259.09 55.90,258.48 56.40,259.02 56.90,258.44 57.40,258.99 57.90,258.72 58.40,258.50 58.90,258.70 59.40,259.01 59.90,259.14 60.40,259.08 60.90,259.17 61.40,259.64 61.90,260.20 62.40,260.11 62.73,259.83 63.05,260.71 63.38,260.84 63.70,261.22 64.03,260.78 64.35,261.50 64.67,261.09 65.00,261.84 66.70,262.10 68.40,262.65 70.10,263.84 71.80,263.75 73.50,264.72 75.20,265.62 76.90,265.67 78.60,266.24 80.65,268.03 82.70,268.81 84.75,270.26 86.80,270.83 88.85,272.31 90.90,273.33 92.95,274.97 95.00,275.62 95.50,276.73 96.00,276.22 96.50,277.18 97.00,276.87 97.50,277.41 98.00,278.23 98.50,277.97 99.00,278.32 100.33,279.32 101.65,279.60 102.97,279.84 104.30,281.24 105.62,281.04 106.95,281.48 108.27,282.31 109.60,283.10 110.65,283.79 111.70,283.80 112.75,284.58 113.80,284.88 114.85,285.83 115.90,286.69 116.95,287.24 118.00,287.96 119.50,288.61 121.00,289.48 122.50,290.11 124.00,290.68 125.50,291.23 127.00,292.39 128.50,292.86 130.00,293.44 130.44,293.88 130.88,294.39 131.31,293.84 131.75,294.38 132.19,294.33 132.62,294.56 133.06,294.35 133.50,295.21 133.91,294.82 134.32,295.37 134.74,295.44 135.15,295.32 135.56,296.04 135.98,295.90 136.39,296.06 136.80,296.28 138.62,297.12 140.45,297.79 142.28,299.00 144.10,299.61 145.93,300.76 147.75,301.44 149.58,302.22 151.40,302.26 151.60,302.39 151.80,302.15 152.00,302.39 152.20,302.36 152.40,302.46 152.60,302.31 152.80,301.84 153.00,301.93 153.78,302.67 154.55,302.85 155.32,303.53 156.10,304.52 156.88,304.90 157.65,306.10 158.42,306.32 159.20,307.20" fill="none" stroke="#2db03c" stroke-width="2.6" stroke-linejoin="round" stroke-linecap="round"/>
<text x="45.75" y="304.20" font-size="8.0" fill="#222" stroke="#222" stroke-width="0.12" font-weight="normal" font-style="normal" textLength="36.34" lengthAdjust="spacingAndGlyphs" >NES=2.81</text>
<text x="123.49" y="263.40" font-size="8.2" fill="#222" stroke="#222" stroke-width="0.12" font-weight="normal" font-style="normal" textLength="33.50" lengthAdjust="spacingAndGlyphs" >p &lt; 0.001</text>
<text x="123.67" y="272.30" font-size="8.2" fill="#222" stroke="#222" stroke-width="0.12" font-weight="normal" font-style="normal" textLength="33.32" lengthAdjust="spacingAndGlyphs" >q &lt; 0.001</text>
<rect x="39.00" y="310.00" width="13.90" height="17.20" fill="#000" />
<rect x="55.00" y="310.00" width="4.20" height="17.20" fill="#000" />
<rect x="60.40" y="310.00" width="1.70" height="17.20" fill="#000" />
<rect x="66.00" y="310.00" width="1.90" height="17.20" fill="#000" />
<rect x="70.00" y="310.00" width="3.30" height="17.20" fill="#000" />
<rect x="37.30" y="310.00" width="1.20" height="17.20" fill="#444" />
<rect x="53.40" y="310.00" width="1.00" height="17.20" fill="#777" />
<rect x="63.83" y="310.00" width="1.35" height="17.20" fill="#000" />
<rect x="73.83" y="310.00" width="1.35" height="17.20" fill="#000" />
<rect x="74.83" y="310.00" width="1.35" height="17.20" fill="#000" />
<rect x="76.10" y="310.00" width="1.00" height="17.20" fill="#666" />
<rect x="77.75" y="310.00" width="1.70" height="17.20" fill="#000" />
<rect x="87.83" y="310.00" width="1.35" height="17.20" fill="#000" />
<rect x="90.83" y="310.00" width="1.35" height="17.20" fill="#000" />
<rect x="92.70" y="310.00" width="1.00" height="17.20" fill="#444" />
<rect x="94.83" y="310.00" width="1.35" height="17.20" fill="#000" />
<rect x="96.10" y="310.00" width="1.00" height="17.20" fill="#555" />
<rect x="97.83" y="310.00" width="1.35" height="17.20" fill="#000" />
<rect x="98.90" y="310.00" width="1.80" height="17.20" fill="#000" />
<rect x="103.20" y="310.00" width="3.20" height="17.20" fill="#888" />
<rect x="108.60" y="310.00" width="1.60" height="17.20" fill="#000" />
<rect x="114.83" y="310.00" width="1.35" height="17.20" fill="#000" />
<rect x="128.82" y="310.00" width="1.35" height="17.20" fill="#000" />
<rect x="134.90" y="310.00" width="1.80" height="17.20" fill="#000" />
<rect x="150.82" y="310.00" width="1.35" height="17.20" fill="#000" />
<rect x="37.40" y="327.20" width="17.80" height="4.60" fill="#e8474d" />
<rect x="55.20" y="327.20" width="14.80" height="4.60" fill="#ee7a84" />
<rect x="70.00" y="327.20" width="16.20" height="4.60" fill="#f3b5d3" />
<rect x="86.20" y="327.20" width="17.60" height="4.60" fill="#d5d3ef" />
<rect x="103.80" y="327.20" width="13.00" height="4.60" fill="#bbb6e0" />
<rect x="116.80" y="327.20" width="12.20" height="4.60" fill="#7d7cc5" />
<rect x="129.00" y="327.20" width="22.80" height="4.60" fill="#5d55b2" />
<rect x="151.80" y="327.20" width="7.20" height="4.60" fill="#3b3ca2" />
<text x="22.24" y="342.60" font-size="8.0" fill="#222" stroke="#222" stroke-width="0.12" font-weight="normal" font-style="normal" textLength="42.02" lengthAdjust="spacingAndGlyphs" >IDH1/2-mut</text>
<text x="33.73" y="352.00" font-size="8.0" fill="#222" stroke="#222" stroke-width="0.12" font-weight="normal" font-style="normal" textLength="19.74" lengthAdjust="spacingAndGlyphs" >(n=6)</text>
<text x="144.46" y="342.40" font-size="8.0" fill="#222" stroke="#222" stroke-width="0.12" font-weight="normal" font-style="normal" textLength="20.83" lengthAdjust="spacingAndGlyphs" >Other</text>
<text x="140.79" y="352.00" font-size="8.0" fill="#222" stroke="#222" stroke-width="0.12" font-weight="normal" font-style="normal" textLength="28.41" lengthAdjust="spacingAndGlyphs" >(n=321)</text>
<text x="214.71" y="233.20" font-size="9.8" fill="#222" stroke="#222" stroke-width="0.12" font-weight="normal" font-style="normal" textLength="112.18" lengthAdjust="spacingAndGlyphs" >Reactome_mitochondrial_</text>
<text x="248.60" y="244.70" font-size="9.8" fill="#222" stroke="#222" stroke-width="0.12" font-weight="normal" font-style="normal" textLength="45.08" lengthAdjust="spacingAndGlyphs" >translation</text>
<line x1="207.80" y1="255.90" x2="207.80" y2="307.40" stroke="#111" stroke-width="1.0" />
<line x1="204.80" y1="307.40" x2="207.80" y2="307.40" stroke="#111" stroke-width="1.0" />
<text x="191.08" y="310.25" font-size="8.2" fill="#222" stroke="#222" stroke-width="0.12" font-weight="normal" font-style="normal" textLength="11.44" lengthAdjust="spacingAndGlyphs" >0.0</text>
<line x1="204.80" y1="299.83" x2="207.80" y2="299.83" stroke="#111" stroke-width="1.0" />
<text x="191.08" y="302.68" font-size="8.2" fill="#222" stroke="#222" stroke-width="0.12" font-weight="normal" font-style="normal" textLength="11.53" lengthAdjust="spacingAndGlyphs" >0.1</text>
<line x1="204.80" y1="292.26" x2="207.80" y2="292.26" stroke="#111" stroke-width="1.0" />
<text x="191.08" y="295.11" font-size="8.2" fill="#222" stroke="#222" stroke-width="0.12" font-weight="normal" font-style="normal" textLength="11.54" lengthAdjust="spacingAndGlyphs" >0.2</text>
<line x1="204.80" y1="284.69" x2="207.80" y2="284.69" stroke="#111" stroke-width="1.0" />
<text x="191.08" y="287.54" font-size="8.2" fill="#222" stroke="#222" stroke-width="0.12" font-weight="normal" font-style="normal" textLength="11.49" lengthAdjust="spacingAndGlyphs" >0.3</text>
<line x1="204.80" y1="277.12" x2="207.80" y2="277.12" stroke="#111" stroke-width="1.0" />
<text x="191.08" y="279.97" font-size="8.2" fill="#222" stroke="#222" stroke-width="0.12" font-weight="normal" font-style="normal" textLength="11.36" lengthAdjust="spacingAndGlyphs" >0.4</text>
<line x1="204.80" y1="269.55" x2="207.80" y2="269.55" stroke="#111" stroke-width="1.0" />
<text x="191.08" y="272.40" font-size="8.2" fill="#222" stroke="#222" stroke-width="0.12" font-weight="normal" font-style="normal" textLength="11.47" lengthAdjust="spacingAndGlyphs" >0.5</text>
<line x1="204.80" y1="261.98" x2="207.80" y2="261.98" stroke="#111" stroke-width="1.0" />
<text x="191.08" y="264.83" font-size="8.2" fill="#222" stroke="#222" stroke-width="0.12" font-weight="normal" font-style="normal" textLength="11.49" lengthAdjust="spacingAndGlyphs" >0.6</text>
<line x1="207.30" y1="307.40" x2="334.50" y2="307.40" stroke="#111" stroke-width="1.1" />
<text transform="translate(185.30,281.70) rotate(-90)" x="-28.86" y="0" font-size="9.3" fill="#333" stroke="#333" stroke-width="0.04" textLength="57.43" lengthAdjust="spacingAndGlyphs">Enrichment score</text>
<polyline points="208.60,307.40 208.74,306.30 208.88,305.20 209.01,304.10 209.15,303.00 209.29,301.90 209.42,300.80 209.56,299.70 209.70,298.71 209.86,298.06 210.02,297.34 210.19,296.71 210.35,295.77 210.51,295.17 210.68,293.60 210.84,293.23 211.00,292.90 211.20,292.07 211.40,291.74 211.60,290.46 211.80,290.22 212.00,289.46 212.20,289.16 212.40,288.63 212.60,287.56 213.09,286.88 213.57,286.08 214.06,285.79 214.55,284.79 215.04,283.38 215.53,283.09 216.01,281.64 216.50,281.21 216.99,279.91 217.47,278.95 217.96,278.88 218.45,277.44 218.94,276.59 219.43,276.43 219.91,275.49 220.40,274.11 220.66,274.18 220.93,273.26 221.19,272.85 221.45,271.88 221.71,272.01 221.97,271.25 222.24,270.96 222.50,270.35 222.72,269.27 222.95,268.78 223.18,268.05 223.40,267.48 223.62,266.86 223.85,266.52 224.08,266.24 224.30,265.15 224.91,265.15 225.53,264.23 226.14,263.59 226.75,263.44 227.36,262.52 227.97,261.76 228.59,261.30 229.20,260.88 229.56,260.18 229.92,260.88 230.29,259.90 230.65,260.42 231.01,260.39 231.38,259.52 231.74,260.08 232.10,259.58 232.59,259.83 233.07,259.38 233.56,259.48 234.05,259.66 234.54,260.42 235.03,259.80 235.51,260.37 236.00,260.59 236.49,260.79 236.97,260.43 237.46,260.63 237.95,260.97 238.44,261.39 238.93,260.97 239.41,261.74 239.90,261.97 241.47,263.00 243.05,263.23 244.62,265.03 246.20,265.23 247.78,266.43 249.35,267.65 250.93,268.90 252.50,269.36 254.69,271.09 256.88,271.97 259.06,272.97 261.25,274.19 263.44,275.27 265.62,276.40 267.81,277.67 270.00,279.37 271.07,280.37 272.15,280.35 273.23,280.97 274.30,282.54 275.38,282.86 276.45,283.47 277.53,284.04 278.60,285.08 279.34,285.54 280.08,285.46 280.81,285.68 281.55,285.60 282.29,286.62 283.02,286.08 283.76,286.74 284.50,287.30 286.56,287.63 288.62,289.13 290.69,290.29 292.75,290.97 294.81,292.07 296.88,292.42 298.94,293.68 301.00,294.38 303.43,296.45 305.85,297.39 308.27,298.97 310.70,300.90 313.12,302.20 315.55,303.75 317.97,304.72 320.40,306.19 320.66,306.33 320.92,306.03 321.19,305.79 321.45,305.81 321.71,305.51 321.98,305.64 322.24,306.11 322.50,306.01 322.85,305.69 323.20,305.55 323.55,305.38 323.90,305.13 324.25,305.27 324.60,305.70 324.95,305.76 325.30,305.28 325.79,305.91 326.27,306.15 326.76,306.33 327.25,306.55 327.74,306.88 328.23,306.78 328.71,307.33 329.20,307.40" fill="none" stroke="#2db03c" stroke-width="2.6" stroke-linejoin="round" stroke-linecap="round"/>
<text x="216.75" y="304.20" font-size="8.0" fill="#222" stroke="#222" stroke-width="0.12" font-weight="normal" font-style="normal" textLength="36.29" lengthAdjust="spacingAndGlyphs" >NES=2.58</text>
<text x="299.29" y="263.40" font-size="8.2" fill="#222" stroke="#222" stroke-width="0.12" font-weight="normal" font-style="normal" textLength="33.50" lengthAdjust="spacingAndGlyphs" >p &lt; 0.001</text>
<text x="299.47" y="272.30" font-size="8.2" fill="#222" stroke="#222" stroke-width="0.12" font-weight="normal" font-style="normal" textLength="33.32" lengthAdjust="spacingAndGlyphs" >q &lt; 0.001</text>
<rect x="208.80" y="311.60" width="32.20" height="17.30" fill="#000" />
<rect x="212.80" y="311.60" width="0.80" height="17.30" fill="#555" />
<rect x="216.60" y="311.60" width="0.80" height="17.30" fill="#555" />
<rect x="226.65" y="311.60" width="0.90" height="17.30" fill="#666" />
<rect x="233.90" y="311.60" width="1.20" height="17.30" fill="#444" />
<rect x="242.82" y="311.60" width="1.35" height="17.30" fill="#333" />
<rect x="244.80" y="311.60" width="1.00" height="17.30" fill="#444" />
<rect x="246.30" y="311.60" width="1.00" height="17.30" fill="#555" />
<rect x="247.82" y="311.60" width="1.35" height="17.30" fill="#333" />
<rect x="252.82" y="311.60" width="1.35" height="17.30" fill="#000" />
<rect x="261.82" y="311.60" width="1.35" height="17.30" fill="#000" />
<rect x="264.60" y="311.60" width="1.60" height="17.30" fill="#000" />
<rect x="270.40" y="311.60" width="1.20" height="17.30" fill="#444" />
<rect x="277.85" y="311.60" width="1.90" height="17.30" fill="#000" />
<rect x="281.20" y="311.60" width="4.40" height="17.30" fill="#444" />
<rect x="290.82" y="311.60" width="1.35" height="17.30" fill="#333" />
<rect x="293.82" y="311.60" width="1.35" height="17.30" fill="#000" />
<rect x="299.82" y="311.60" width="1.35" height="17.30" fill="#000" />
<rect x="324.10" y="311.60" width="1.80" height="17.30" fill="#000" />
<rect x="207.40" y="328.90" width="17.80" height="4.30" fill="#e8474d" />
<rect x="225.20" y="328.90" width="14.40" height="4.30" fill="#ee7a84" />
<rect x="239.60" y="328.90" width="16.20" height="4.30" fill="#f3b5d3" />
<rect x="255.80" y="328.90" width="18.20" height="4.30" fill="#d5d3ef" />
<rect x="274.00" y="328.90" width="12.50" height="4.30" fill="#bbb6e0" />
<rect x="286.50" y="328.90" width="11.90" height="4.30" fill="#7d7cc5" />
<rect x="298.40" y="328.90" width="23.50" height="4.30" fill="#5d55b2" />
<rect x="321.90" y="328.90" width="6.90" height="4.30" fill="#3b3ca2" />
<text x="193.74" y="342.60" font-size="8.0" fill="#222" stroke="#222" stroke-width="0.12" font-weight="normal" font-style="normal" textLength="42.02" lengthAdjust="spacingAndGlyphs" >IDH1/2-mut</text>
<text x="205.23" y="352.00" font-size="8.0" fill="#222" stroke="#222" stroke-width="0.12" font-weight="normal" font-style="normal" textLength="19.74" lengthAdjust="spacingAndGlyphs" >(n=6)</text>
<text x="316.56" y="342.40" font-size="8.0" fill="#222" stroke="#222" stroke-width="0.12" font-weight="normal" font-style="normal" textLength="20.83" lengthAdjust="spacingAndGlyphs" >Other</text>
<text x="312.89" y="352.00" font-size="8.0" fill="#222" stroke="#222" stroke-width="0.12" font-weight="normal" font-style="normal" textLength="28.41" lengthAdjust="spacingAndGlyphs" >(n=321)</text>
<text x="390.41" y="233.20" font-size="9.8" fill="#222" stroke="#222" stroke-width="0.12" font-weight="normal" font-style="normal" textLength="106.48" lengthAdjust="spacingAndGlyphs" >Reactome_mitchondrial_</text>
<text x="411.85" y="244.70" font-size="9.8" fill="#222" stroke="#222" stroke-width="0.12" font-weight="normal" font-style="normal" textLength="64.52" lengthAdjust="spacingAndGlyphs" >protein_import</text>
<line x1="380.40" y1="255.90" x2="380.40" y2="307.40" stroke="#111" stroke-width="1.0" />
<line x1="377.40" y1="307.40" x2="380.40" y2="307.40" stroke="#111" stroke-width="1.0" />
<text x="363.68" y="310.25" font-size="8.2" fill="#222" stroke="#222" stroke-width="0.12" font-weight="normal" font-style="normal" textLength="11.44" lengthAdjust="spacingAndGlyphs" >0.0</text>
<line x1="377.40" y1="299.83" x2="380.40" y2="299.83" stroke="#111" stroke-width="1.0" />
<text x="363.68" y="302.68" font-size="8.2" fill="#222" stroke="#222" stroke-width="0.12" font-weight="normal" font-style="normal" textLength="11.53" lengthAdjust="spacingAndGlyphs" >0.1</text>
<line x1="377.40" y1="292.26" x2="380.40" y2="292.26" stroke="#111" stroke-width="1.0" />
<text x="363.68" y="295.11" font-size="8.2" fill="#222" stroke="#222" stroke-width="0.12" font-weight="normal" font-style="normal" textLength="11.54" lengthAdjust="spacingAndGlyphs" >0.2</text>
<line x1="377.40" y1="284.69" x2="380.40" y2="284.69" stroke="#111" stroke-width="1.0" />
<text x="363.68" y="287.54" font-size="8.2" fill="#222" stroke="#222" stroke-width="0.12" font-weight="normal" font-style="normal" textLength="11.49" lengthAdjust="spacingAndGlyphs" >0.3</text>
<line x1="377.40" y1="277.12" x2="380.40" y2="277.12" stroke="#111" stroke-width="1.0" />
<text x="363.68" y="279.97" font-size="8.2" fill="#222" stroke="#222" stroke-width="0.12" font-weight="normal" font-style="normal" textLength="11.36" lengthAdjust="spacingAndGlyphs" >0.4</text>
<line x1="377.40" y1="269.55" x2="380.40" y2="269.55" stroke="#111" stroke-width="1.0" />
<text x="363.68" y="272.40" font-size="8.2" fill="#222" stroke="#222" stroke-width="0.12" font-weight="normal" font-style="normal" textLength="11.47" lengthAdjust="spacingAndGlyphs" >0.5</text>
<line x1="377.40" y1="261.98" x2="380.40" y2="261.98" stroke="#111" stroke-width="1.0" />
<text x="363.68" y="264.83" font-size="8.2" fill="#222" stroke="#222" stroke-width="0.12" font-weight="normal" font-style="normal" textLength="11.49" lengthAdjust="spacingAndGlyphs" >0.6</text>
<line x1="379.90" y1="307.40" x2="507.70" y2="307.40" stroke="#111" stroke-width="1.1" />
<text transform="translate(359.20,281.70) rotate(-90)" x="-28.86" y="0" font-size="9.3" fill="#333" stroke="#333" stroke-width="0.04" textLength="57.43" lengthAdjust="spacingAndGlyphs">Enrichment score</text>
<polyline points="380.80,307.40 380.90,307.22 381.00,307.05 381.10,306.88 381.20,306.70 381.30,306.52 381.40,306.35 381.50,306.18 381.60,305.97 381.75,305.70 381.90,305.30 382.05,305.77 382.20,304.81 382.35,305.07 382.50,305.23 382.65,304.31 382.80,304.55 383.04,302.90 383.27,300.69 383.51,299.29 383.75,297.88 383.99,295.96 384.23,294.50 384.46,292.29 384.70,290.66 384.95,289.81 385.20,289.43 385.45,289.07 385.70,288.03 385.95,287.46 386.20,286.37 386.45,285.96 386.70,284.64 386.94,282.99 387.18,281.51 387.41,279.73 387.65,277.63 387.89,275.50 388.12,273.84 388.36,271.96 388.60,270.20 388.80,270.44 389.00,269.65 389.20,270.04 389.40,269.79 389.60,268.81 389.80,268.87 390.00,268.73 390.20,268.07 390.49,267.69 390.77,267.39 391.06,265.94 391.35,265.64 391.64,264.47 391.93,264.15 392.21,263.69 392.50,262.33 392.86,261.68 393.23,261.28 393.59,261.21 393.95,260.27 394.31,259.85 394.67,259.75 395.04,259.65 395.40,258.73 395.89,258.63 396.38,258.77 396.86,258.21 397.35,258.57 397.84,258.13 398.32,258.45 398.81,258.69 399.30,257.80 400.04,258.25 400.77,258.30 401.51,257.88 402.25,257.99 402.99,258.65 403.73,258.65 404.46,257.86 405.20,258.38 407.50,259.89 409.80,260.54 412.10,262.16 414.40,262.94 416.70,264.52 419.00,266.08 421.30,267.29 423.60,268.75 425.65,269.27 427.70,270.64 429.75,272.24 431.80,273.13 433.85,274.14 435.90,275.24 437.95,276.90 440.00,277.67 440.62,277.48 441.25,278.49 441.88,278.38 442.50,278.79 443.12,278.90 443.75,279.42 444.38,279.63 445.00,279.73 446.56,280.95 448.12,281.22 449.69,282.57 451.25,282.62 452.81,284.04 454.38,284.80 455.94,285.26 457.50,286.19 458.96,286.42 460.43,287.51 461.89,287.88 463.35,288.36 464.81,289.67 466.27,289.81 467.74,290.44 469.20,291.52 469.93,291.33 470.65,291.85 471.38,291.65 472.10,292.51 472.82,292.23 473.55,292.30 474.27,293.38 475.00,292.91 476.21,294.16 477.43,294.76 478.64,294.98 479.85,295.01 481.06,295.62 482.27,296.31 483.49,297.04 484.70,297.80 484.86,298.06 485.02,297.44 485.19,297.19 485.35,297.51 485.51,297.06 485.68,296.95 485.84,297.31 486.00,297.38 487.18,297.42 488.35,298.38 489.52,299.22 490.70,299.89 491.88,300.16 493.05,301.22 494.22,301.19 495.40,302.29 495.60,302.28 495.80,302.32 496.00,301.91 496.20,301.49 496.40,301.38 496.60,301.75 496.80,301.37 497.00,301.72 497.90,301.95 498.80,303.30 499.70,303.53 500.60,304.06 501.50,304.93 502.40,305.91 503.30,306.73 504.20,307.40" fill="none" stroke="#2db03c" stroke-width="2.6" stroke-linejoin="round" stroke-linecap="round"/>
<text x="389.35" y="304.20" font-size="8.0" fill="#222" stroke="#222" stroke-width="0.12" font-weight="normal" font-style="normal" textLength="36.26" lengthAdjust="spacingAndGlyphs" >NES=2.50</text>
<text x="475.69" y="263.40" font-size="8.2" fill="#222" stroke="#222" stroke-width="0.12" font-weight="normal" font-style="normal" textLength="33.50" lengthAdjust="spacingAndGlyphs" >p &lt; 0.001</text>
<text x="475.87" y="272.30" font-size="8.2" fill="#222" stroke="#222" stroke-width="0.12" font-weight="normal" font-style="normal" textLength="33.32" lengthAdjust="spacingAndGlyphs" >q &lt; 0.001</text>
<rect x="382.30" y="310.60" width="13.50" height="17.40" fill="#000" />
<rect x="397.20" y="310.60" width="1.00" height="17.40" fill="#000" />
<rect x="399.20" y="310.60" width="1.40" height="17.40" fill="#000" />
<rect x="401.60" y="310.60" width="1.40" height="17.40" fill="#000" />
<rect x="404.00" y="310.60" width="1.90" height="17.40" fill="#000" />
<rect x="379.82" y="310.60" width="1.35" height="17.40" fill="#333" />
<rect x="381.00" y="310.60" width="1.00" height="17.40" fill="#888" />
<rect x="408.75" y="310.60" width="1.90" height="17.40" fill="#333" />
<rect x="412.82" y="310.60" width="1.35" height="17.40" fill="#000" />
<rect x="414.30" y="310.60" width="1.00" height="17.40" fill="#777" />
<rect x="414.82" y="310.60" width="1.35" height="17.40" fill="#000" />
<rect x="419.82" y="310.60" width="1.35" height="17.40" fill="#000" />
<rect x="420.80" y="310.60" width="1.00" height="17.40" fill="#777" />
<rect x="421.82" y="310.60" width="1.35" height="17.40" fill="#000" />
<rect x="433.82" y="310.60" width="1.35" height="17.40" fill="#000" />
<rect x="436.82" y="310.60" width="1.35" height="17.40" fill="#222" />
<rect x="438.82" y="310.60" width="1.35" height="17.40" fill="#333" />
<rect x="439.82" y="310.60" width="1.35" height="17.40" fill="#000" />
<rect x="443.82" y="310.60" width="1.35" height="17.40" fill="#222" />
<rect x="445.82" y="310.60" width="1.35" height="17.40" fill="#000" />
<rect x="447.82" y="310.60" width="1.35" height="17.40" fill="#000" />
<rect x="451.82" y="310.60" width="1.35" height="17.40" fill="#000" />
<rect x="455.82" y="310.60" width="1.35" height="17.40" fill="#000" />
<rect x="457.82" y="310.60" width="1.35" height="17.40" fill="#000" />
<rect x="459.82" y="310.60" width="1.35" height="17.40" fill="#333" />
<rect x="468.82" y="310.60" width="1.35" height="17.40" fill="#333" />
<rect x="473.82" y="310.60" width="1.35" height="17.40" fill="#000" />
<rect x="483.82" y="310.60" width="1.35" height="17.40" fill="#000" />
<rect x="494.82" y="310.60" width="1.35" height="17.40" fill="#000" />
<rect x="380.50" y="328.00" width="18.20" height="4.40" fill="#e8474d" />
<rect x="398.70" y="328.00" width="14.40" height="4.40" fill="#ee7a84" />
<rect x="413.10" y="328.00" width="16.70" height="4.40" fill="#f3b5d3" />
<rect x="429.80" y="328.00" width="18.20" height="4.40" fill="#d5d3ef" />
<rect x="448.00" y="328.00" width="13.00" height="4.40" fill="#bbb6e0" />
<rect x="461.00" y="328.00" width="11.90" height="4.40" fill="#7d7cc5" />
<rect x="472.90" y="328.00" width="24.00" height="4.40" fill="#5d55b2" />
<rect x="496.90" y="328.00" width="6.90" height="4.40" fill="#3b3ca2" />
<text x="366.64" y="342.60" font-size="8.0" fill="#222" stroke="#222" stroke-width="0.12" font-weight="normal" font-style="normal" textLength="42.02" lengthAdjust="spacingAndGlyphs" >IDH1/2-mut</text>
<text x="378.13" y="352.00" font-size="8.0" fill="#222" stroke="#222" stroke-width="0.12" font-weight="normal" font-style="normal" textLength="19.74" lengthAdjust="spacingAndGlyphs" >(n=6)</text>
<text x="488.26" y="342.40" font-size="8.0" fill="#222" stroke="#222" stroke-width="0.12" font-weight="normal" font-style="normal" textLength="20.83" lengthAdjust="spacingAndGlyphs" >Other</text>
<text x="484.59" y="352.00" font-size="8.0" fill="#222" stroke="#222" stroke-width="0.12" font-weight="normal" font-style="normal" textLength="28.41" lengthAdjust="spacingAndGlyphs" >(n=321)</text>
<rect x="0.5" y="0.5" width="519" height="359" fill="none" stroke="#000" stroke-width="1"/>
</svg>
</body></html>
